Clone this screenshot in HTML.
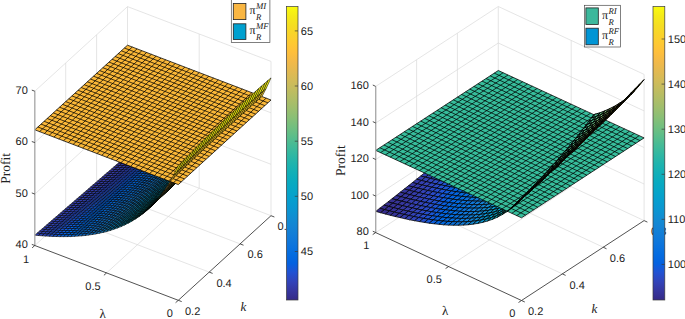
<!DOCTYPE html>
<html><head><meta charset="utf-8"><title>Profit surfaces</title>
<style>html,body{margin:0;padding:0;background:#fff;font-family:"Liberation Sans",sans-serif}svg{display:block}</style></head>
<body>
<svg width="685" height="319" viewBox="0 0 685 319" text-rendering="geometricPrecision" fill="#222">
<rect width="685" height="319" fill="#fff"/>
<line x1="34.8" y1="245.5" x2="127.5" y2="160.9" stroke="#dadada" stroke-width="0.7"/>
<line x1="127.5" y1="160.9" x2="271" y2="215.7" stroke="#dadada" stroke-width="0.7"/>
<line x1="106.6" y1="272.9" x2="199.2" y2="188.3" stroke="#dadada" stroke-width="0.7"/>
<line x1="209.2" y1="272.1" x2="65.7" y2="217.3" stroke="#dadada" stroke-width="0.7"/>
<line x1="240.1" y1="243.9" x2="96.6" y2="189.1" stroke="#dadada" stroke-width="0.7"/>
<line x1="65.7" y1="217.3" x2="65.7" y2="63" stroke="#dadada" stroke-width="0.7"/>
<line x1="96.6" y1="189.1" x2="96.6" y2="34.8" stroke="#dadada" stroke-width="0.7"/>
<line x1="127.5" y1="160.9" x2="127.5" y2="6.6" stroke="#dadada" stroke-width="0.7"/>
<line x1="34.8" y1="194.1" x2="127.5" y2="109.5" stroke="#dadada" stroke-width="0.7"/>
<line x1="127.5" y1="109.5" x2="271" y2="164.3" stroke="#dadada" stroke-width="0.7"/>
<line x1="34.8" y1="142.6" x2="127.5" y2="58" stroke="#dadada" stroke-width="0.7"/>
<line x1="127.5" y1="58" x2="271" y2="112.8" stroke="#dadada" stroke-width="0.7"/>
<line x1="34.8" y1="91.2" x2="127.5" y2="6.6" stroke="#dadada" stroke-width="0.7"/>
<line x1="127.5" y1="6.6" x2="271" y2="61.4" stroke="#dadada" stroke-width="0.7"/>
<line x1="199.2" y1="188.3" x2="199.2" y2="34" stroke="#dadada" stroke-width="0.7"/>
<line x1="271" y1="215.7" x2="271" y2="61.4" stroke="#dadada" stroke-width="0.7"/>
<g stroke="#000" stroke-width="0.75" stroke-linejoin="round">
<g stroke-width="0.6">
<polygon points="128.8 157.5 125.2 157.2 127.5 155.2 131.1 155.5" fill="#36359d"/>
<polygon points="132.4 157.7 128.8 157.5 131.1 155.5 134.7 155.7" fill="#3638a4"/>
<polygon points="126.5 159.5 122.9 159.2 125.2 157.2 128.8 157.5" fill="#36359d"/>
<polygon points="135.9 157.9 132.4 157.7 134.7 155.7 138.3 155.9" fill="#353cab"/>
<polygon points="130 159.7 126.5 159.5 128.8 157.5 132.4 157.7" fill="#3639a4"/>
<polygon points="124.1 161.5 120.5 161.2 122.9 159.2 126.5 159.5" fill="#36369e"/>
<polygon points="139.5 158 135.9 157.9 138.3 155.9 141.9 156" fill="#3440b2"/>
<polygon points="133.6 159.9 130 159.7 132.4 157.7 135.9 157.9" fill="#353cab"/>
<polygon points="127.7 161.7 124.1 161.5 126.5 159.5 130 159.7" fill="#3639a5"/>
<polygon points="121.8 163.5 118.2 163.2 120.5 161.2 124.1 161.5" fill="#36369f"/>
<polygon points="143.1 158.1 139.5 158 141.9 156 145.4 156.1" fill="#3243ba"/>
<polygon points="137.2 160 133.6 159.9 135.9 157.9 139.5 158" fill="#3440b3"/>
<polygon points="131.3 161.9 127.7 161.7 130 159.7 133.6 159.9" fill="#353dac"/>
<polygon points="125.4 163.7 121.8 163.5 124.1 161.5 127.7 161.7" fill="#3639a6"/>
<polygon points="119.5 165.5 115.9 165.2 118.2 163.2 121.8 163.5" fill="#36369f"/>
<polygon points="146.7 158.1 143.1 158.1 145.4 156.1 149 156.1" fill="#2e48c2"/>
<polygon points="140.8 160.1 137.2 160 139.5 158 143.1 158.1" fill="#3244ba"/>
<polygon points="134.9 162 131.3 161.9 133.6 159.9 137.2 160" fill="#3340b3"/>
<polygon points="129 163.9 125.4 163.7 127.7 161.7 131.3 161.9" fill="#353dad"/>
<polygon points="123.1 165.7 119.5 165.5 121.8 163.5 125.4 163.7" fill="#363aa6"/>
<polygon points="117.2 167.5 113.6 167.2 115.9 165.2 119.5 165.5" fill="#3637a0"/>
<polygon points="150.3 158.1 146.7 158.1 149 156.1 152.6 156.1" fill="#294dca"/>
<polygon points="144.4 160.1 140.8 160.1 143.1 158.1 146.7 158.1" fill="#2e48c2"/>
<polygon points="138.5 162.1 134.9 162 137.2 160 140.8 160.1" fill="#3144bb"/>
<polygon points="132.6 164 129 163.9 131.3 161.9 134.9 162" fill="#3341b4"/>
<polygon points="126.7 165.9 123.1 165.7 125.4 163.7 129 163.9" fill="#353dad"/>
<polygon points="120.8 167.7 117.2 167.5 119.5 165.5 123.1 165.7" fill="#363aa7"/>
<polygon points="114.9 169.5 111.3 169.2 113.6 167.2 117.2 167.5" fill="#3637a1"/>
<polygon points="153.9 158 150.3 158.1 152.6 156.1 156.2 156" fill="#2152d3"/>
<polygon points="148 160.1 144.4 160.1 146.7 158.1 150.3 158.1" fill="#284dcb"/>
<polygon points="142.1 162.1 138.5 162.1 140.8 160.1 144.4 160.1" fill="#2d49c3"/>
<polygon points="136.2 164.1 132.6 164 134.9 162 138.5 162.1" fill="#3145bc"/>
<polygon points="130.3 166 126.7 165.9 129 163.9 132.6 164" fill="#3341b5"/>
<polygon points="124.4 167.9 120.8 167.7 123.1 165.7 126.7 165.9" fill="#353eae"/>
<polygon points="118.5 169.7 114.9 169.5 117.2 167.5 120.8 167.7" fill="#353aa8"/>
<polygon points="112.5 171.5 109 171.2 111.3 169.2 114.9 169.5" fill="#3637a1"/>
<polygon points="157.5 157.9 153.9 158 156.2 156 159.8 155.9" fill="#1658da"/>
<polygon points="151.6 160 148 160.1 150.3 158.1 153.9 158" fill="#2052d3"/>
<polygon points="145.7 162.1 142.1 162.1 144.4 160.1 148 160.1" fill="#274dcb"/>
<polygon points="139.8 164.1 136.2 164.1 138.5 162.1 142.1 162.1" fill="#2d49c4"/>
<polygon points="133.9 166.1 130.3 166 132.6 164 136.2 164.1" fill="#3145bc"/>
<polygon points="127.9 168 124.4 167.9 126.7 165.9 130.3 166" fill="#3341b5"/>
<polygon points="122 169.9 118.5 169.7 120.8 167.7 124.4 167.9" fill="#353eaf"/>
<polygon points="116.1 171.7 112.5 171.5 114.9 169.5 118.5 169.7" fill="#353ba8"/>
<polygon points="110.2 173.5 106.6 173.2 109 171.2 112.5 171.5" fill="#3638a2"/>
<polygon points="161.1 157.7 157.5 157.9 159.8 155.9 163.4 155.7" fill="#0b5edf"/>
<polygon points="155.2 159.9 151.6 160 153.9 158 157.5 157.9" fill="#1559da"/>
<polygon points="149.2 162 145.7 162.1 148 160.1 151.6 160" fill="#2053d4"/>
<polygon points="143.3 164.1 139.8 164.1 142.1 162.1 145.7 162.1" fill="#274ecc"/>
<polygon points="137.4 166.1 133.9 166.1 136.2 164.1 139.8 164.1" fill="#2d49c4"/>
<polygon points="131.5 168.1 127.9 168 130.3 166 133.9 166.1" fill="#3045bd"/>
<polygon points="125.6 170 122 169.9 124.4 167.9 127.9 168" fill="#3342b6"/>
<polygon points="119.7 171.9 116.1 171.7 118.5 169.7 122 169.9" fill="#343eaf"/>
<polygon points="113.8 173.7 110.2 173.5 112.5 171.5 116.1 171.7" fill="#353ba9"/>
<polygon points="164.6 157.5 161.1 157.7 163.4 155.7 167 155.5" fill="#0363e1"/>
<polygon points="107.9 175.5 104.3 175.2 106.6 173.2 110.2 173.5" fill="#3638a3"/>
<polygon points="158.7 159.7 155.2 159.9 157.5 157.9 161.1 157.7" fill="#0b5edf"/>
<polygon points="152.8 161.9 149.2 162 151.6 160 155.2 159.9" fill="#1459db"/>
<polygon points="146.9 164 143.3 164.1 145.7 162.1 149.2 162" fill="#1f53d4"/>
<polygon points="141 166.1 137.4 166.1 139.8 164.1 143.3 164.1" fill="#264ecd"/>
<polygon points="135.1 168.1 131.5 168.1 133.9 166.1 137.4 166.1" fill="#2c4ac5"/>
<polygon points="129.2 170.1 125.6 170 127.9 168 131.5 168.1" fill="#3046be"/>
<polygon points="123.3 172 119.7 171.9 122 169.9 125.6 170" fill="#3342b7"/>
<polygon points="117.4 173.9 113.8 173.7 116.1 171.7 119.7 171.9" fill="#343fb0"/>
<polygon points="111.5 175.7 107.9 175.5 110.2 173.5 113.8 173.7" fill="#353baa"/>
<polygon points="168.2 157.2 164.6 157.5 167 155.5 170.6 155.2" fill="#0267e1"/>
<polygon points="162.3 159.5 158.7 159.7 161.1 157.7 164.6 157.5" fill="#0363e1"/>
<polygon points="105.6 177.5 102 177.2 104.3 175.2 107.9 175.5" fill="#3638a4"/>
<polygon points="156.4 161.7 152.8 161.9 155.2 159.9 158.7 159.7" fill="#0a5fdf"/>
<polygon points="150.5 163.9 146.9 164 149.2 162 152.8 161.9" fill="#135adb"/>
<polygon points="144.6 166 141 166.1 143.3 164.1 146.9 164" fill="#1e54d5"/>
<polygon points="138.7 168.1 135.1 168.1 137.4 166.1 141 166.1" fill="#264fcd"/>
<polygon points="132.8 170.1 129.2 170.1 131.5 168.1 135.1 168.1" fill="#2c4ac6"/>
<polygon points="126.9 172.1 123.3 172 125.6 170 129.2 170.1" fill="#3046be"/>
<polygon points="121 174 117.4 173.9 119.7 171.9 123.3 172" fill="#3242b7"/>
<polygon points="115.1 175.9 111.5 175.7 113.8 173.7 117.4 173.9" fill="#343fb1"/>
<polygon points="109.2 177.7 105.6 177.5 107.9 175.5 111.5 175.7" fill="#353caa"/>
<polygon points="171.8 156.8 168.2 157.2 170.6 155.2 174.1 154.8" fill="#036be0"/>
<polygon points="165.9 159.2 162.3 159.5 164.6 157.5 168.2 157.2" fill="#0268e1"/>
<polygon points="160 161.5 156.4 161.7 158.7 159.7 162.3 159.5" fill="#0364e1"/>
<polygon points="103.3 179.5 99.7 179.2 102 177.2 105.6 177.5" fill="#3639a4"/>
<polygon points="154.1 163.7 150.5 163.9 152.8 161.9 156.4 161.7" fill="#095fdf"/>
<polygon points="148.2 165.9 144.6 166 146.9 164 150.5 163.9" fill="#125adc"/>
<polygon points="142.3 168 138.7 168.1 141 166.1 144.6 166" fill="#1d54d5"/>
<polygon points="136.4 170.1 132.8 170.1 135.1 168.1 138.7 168.1" fill="#254fce"/>
<polygon points="130.5 172.1 126.9 172.1 129.2 170.1 132.8 170.1" fill="#2c4ac7"/>
<polygon points="124.6 174.1 121 174 123.3 172 126.9 172.1" fill="#2f46bf"/>
<polygon points="118.7 176 115.1 175.9 117.4 173.9 121 174" fill="#3243b8"/>
<polygon points="112.8 177.9 109.2 177.7 111.5 175.7 115.1 175.9" fill="#343fb1"/>
<polygon points="106.9 179.7 103.3 179.5 105.6 177.5 109.2 177.7" fill="#353cab"/>
<polygon points="175.4 156.3 171.8 156.8 174.1 154.8 177.7 154.3" fill="#066fdf"/>
<polygon points="169.5 158.8 165.9 159.2 168.2 157.2 171.8 156.8" fill="#036be0"/>
<polygon points="163.6 161.2 160 161.5 162.3 159.5 165.9 159.2" fill="#0268e1"/>
<polygon points="157.7 163.5 154.1 163.7 156.4 161.7 160 161.5" fill="#0364e1"/>
<polygon points="101 181.5 97.4 181.2 99.7 179.2 103.3 179.5" fill="#3639a5"/>
<polygon points="151.8 165.7 148.2 165.9 150.5 163.9 154.1 163.7" fill="#0960df"/>
<polygon points="145.9 167.9 142.3 168 144.6 166 148.2 165.9" fill="#115bdc"/>
<polygon points="140 170 136.4 170.1 138.7 168.1 142.3 168" fill="#1c55d6"/>
<polygon points="134.1 172.1 130.5 172.1 132.8 170.1 136.4 170.1" fill="#2450cf"/>
<polygon points="128.2 174.1 124.6 174.1 126.9 172.1 130.5 172.1" fill="#2b4bc7"/>
<polygon points="122.3 176.1 118.7 176 121 174 124.6 174.1" fill="#2f47c0"/>
<polygon points="116.4 178 112.8 177.9 115.1 175.9 118.7 176" fill="#3243b9"/>
<polygon points="110.5 179.9 106.9 179.7 109.2 177.7 112.8 177.9" fill="#3440b2"/>
<polygon points="104.5 181.7 101 181.5 103.3 179.5 106.9 179.7" fill="#353cac"/>
<polygon points="173.1 158.3 169.5 158.8 171.8 156.8 175.4 156.3" fill="#076fdf"/>
<polygon points="179 155.8 175.4 156.3 177.7 154.3 181.3 153.8" fill="#0a72de"/>
<polygon points="167.2 160.8 163.6 161.2 165.9 159.2 169.5 158.8" fill="#046ce0"/>
<polygon points="161.3 163.2 157.7 163.5 160 161.5 163.6 161.2" fill="#0268e1"/>
<polygon points="155.4 165.5 151.8 165.7 154.1 163.7 157.7 163.5" fill="#0364e1"/>
<polygon points="98.6 183.5 95.1 183.2 97.4 181.2 101 181.5" fill="#3639a6"/>
<polygon points="149.5 167.7 145.9 167.9 148.2 165.9 151.8 165.7" fill="#0860df"/>
<polygon points="143.6 169.9 140 170 142.3 168 145.9 167.9" fill="#105bdd"/>
<polygon points="137.7 172 134.1 172.1 136.4 170.1 140 170" fill="#1b55d6"/>
<polygon points="131.8 174.1 128.2 174.1 130.5 172.1 134.1 172.1" fill="#2450cf"/>
<polygon points="125.9 176.1 122.3 176.1 124.6 174.1 128.2 174.1" fill="#2b4bc8"/>
<polygon points="119.9 178.1 116.4 178 118.7 176 122.3 176.1" fill="#2f47c1"/>
<polygon points="114 180 110.5 179.9 112.8 177.9 116.4 178" fill="#3243b9"/>
<polygon points="108.1 181.9 104.5 181.7 106.9 179.7 110.5 179.9" fill="#3440b3"/>
<polygon points="102.2 183.7 98.6 183.5 101 181.5 104.5 181.7" fill="#353dac"/>
<polygon points="170.8 160.3 167.2 160.8 169.5 158.8 173.1 158.3" fill="#076fdf"/>
<polygon points="176.7 157.8 173.1 158.3 175.4 156.3 179 155.8" fill="#0a73dd"/>
<polygon points="164.9 162.8 161.3 163.2 163.6 161.2 167.2 160.8" fill="#046ce0"/>
<polygon points="182.6 155.1 179 155.8 181.3 153.8 184.9 153.1" fill="#0e76dc"/>
<polygon points="159 165.2 155.4 165.5 157.7 163.5 161.3 163.2" fill="#0268e1"/>
<polygon points="153.1 167.5 149.5 167.7 151.8 165.7 155.4 165.5" fill="#0365e1"/>
<polygon points="96.3 185.5 92.7 185.2 95.1 183.2 98.6 183.5" fill="#363aa6"/>
<polygon points="147.2 169.7 143.6 169.9 145.9 167.9 149.5 167.7" fill="#0760e0"/>
<polygon points="141.2 171.9 137.7 172 140 170 143.6 169.9" fill="#105bdd"/>
<polygon points="135.3 174.1 131.8 174.1 134.1 172.1 137.7 172" fill="#1a56d7"/>
<polygon points="129.4 176.1 125.9 176.1 128.2 174.1 131.8 174.1" fill="#2350d0"/>
<polygon points="123.5 178.1 119.9 178.1 122.3 176.1 125.9 176.1" fill="#2a4cc9"/>
<polygon points="117.6 180.1 114 180 116.4 178 119.9 178.1" fill="#2e47c1"/>
<polygon points="111.7 182 108.1 181.9 110.5 179.9 114 180" fill="#3244ba"/>
<polygon points="105.8 183.9 102.2 183.7 104.5 181.7 108.1 181.9" fill="#3340b3"/>
<polygon points="99.9 185.7 96.3 185.5 98.6 183.5 102.2 183.7" fill="#353dad"/>
<polygon points="168.5 162.3 164.9 162.8 167.2 160.8 170.8 160.3" fill="#0770df"/>
<polygon points="174.4 159.8 170.8 160.3 173.1 158.3 176.7 157.8" fill="#0a73dd"/>
<polygon points="162.6 164.8 159 165.2 161.3 163.2 164.9 162.8" fill="#046ce0"/>
<polygon points="180.3 157.1 176.7 157.8 179 155.8 182.6 155.1" fill="#0e76dc"/>
<polygon points="156.6 167.2 153.1 167.5 155.4 165.5 159 165.2" fill="#0269e1"/>
<polygon points="186.2 154.4 182.6 155.1 184.9 153.1 188.5 152.4" fill="#117ada"/>
<polygon points="150.7 169.5 147.2 169.7 149.5 167.7 153.1 167.5" fill="#0265e1"/>
<polygon points="94 187.5 90.4 187.2 92.7 185.2 96.3 185.5" fill="#363aa7"/>
<polygon points="144.8 171.7 141.2 171.9 143.6 169.9 147.2 169.7" fill="#0761e0"/>
<polygon points="138.9 173.9 135.3 174.1 137.7 172 141.2 171.9" fill="#0f5cdd"/>
<polygon points="133 176.1 129.4 176.1 131.8 174.1 135.3 174.1" fill="#1956d7"/>
<polygon points="127.1 178.1 123.5 178.1 125.9 176.1 129.4 176.1" fill="#2351d1"/>
<polygon points="121.2 180.1 117.6 180.1 119.9 178.1 123.5 178.1" fill="#294cc9"/>
<polygon points="115.3 182.1 111.7 182 114 180 117.6 180.1" fill="#2e48c2"/>
<polygon points="109.4 184 105.8 183.9 108.1 181.9 111.7 182" fill="#3144bb"/>
<polygon points="103.5 185.9 99.9 185.7 102.2 183.7 105.8 183.9" fill="#3341b4"/>
<polygon points="97.6 187.7 94 187.5 96.3 185.5 99.9 185.7" fill="#353dae"/>
<polygon points="166.1 164.3 162.6 164.8 164.9 162.8 168.5 162.3" fill="#0770df"/>
<polygon points="172 161.8 168.5 162.3 170.8 160.3 174.4 159.8" fill="#0b73dd"/>
<polygon points="160.2 166.8 156.6 167.2 159 165.2 162.6 164.8" fill="#046ce0"/>
<polygon points="177.9 159.1 174.4 159.8 176.7 157.8 180.3 157.1" fill="#0e77db"/>
<polygon points="154.3 169.2 150.7 169.5 153.1 167.5 156.6 167.2" fill="#0269e1"/>
<polygon points="183.9 156.4 180.3 157.1 182.6 155.1 186.2 154.4" fill="#117ad9"/>
<polygon points="148.4 171.5 144.8 171.7 147.2 169.7 150.7 169.5" fill="#0265e1"/>
<polygon points="189.8 153.6 186.2 154.4 188.5 152.4 192.1 151.6" fill="#137ed7"/>
<polygon points="91.7 189.5 88.1 189.2 90.4 187.2 94 187.5" fill="#353aa8"/>
<polygon points="142.5 173.7 138.9 173.9 141.2 171.9 144.8 171.7" fill="#0661e0"/>
<polygon points="136.6 175.9 133 176.1 135.3 174.1 138.9 173.9" fill="#0e5cde"/>
<polygon points="130.7 178.1 127.1 178.1 129.4 176.1 133 176.1" fill="#1957d8"/>
<polygon points="124.8 180.1 121.2 180.1 123.5 178.1 127.1 178.1" fill="#2251d1"/>
<polygon points="118.9 182.1 115.3 182.1 117.6 180.1 121.2 180.1" fill="#294cca"/>
<polygon points="113 184.1 109.4 184 111.7 182 115.3 182.1" fill="#2e48c3"/>
<polygon points="107.1 186 103.5 185.9 105.8 183.9 109.4 184" fill="#3144bb"/>
<polygon points="101.2 187.9 97.6 187.7 99.9 185.7 103.5 185.9" fill="#3341b5"/>
<polygon points="95.3 189.7 91.7 189.5 94 187.5 97.6 187.7" fill="#353eae"/>
<polygon points="163.8 166.3 160.2 166.8 162.6 164.8 166.1 164.3" fill="#0770df"/>
<polygon points="169.7 163.8 166.1 164.3 168.5 162.3 172 161.8" fill="#0b73dd"/>
<polygon points="157.9 168.8 154.3 169.2 156.6 167.2 160.2 166.8" fill="#046de0"/>
<polygon points="175.6 161.1 172 161.8 174.4 159.8 177.9 159.1" fill="#0e77db"/>
<polygon points="152 171.2 148.4 171.5 150.7 169.5 154.3 169.2" fill="#0269e1"/>
<polygon points="181.5 158.4 177.9 159.1 180.3 157.1 183.9 156.4" fill="#117ad9"/>
<polygon points="146.1 173.5 142.5 173.7 144.8 171.7 148.4 171.5" fill="#0265e1"/>
<polygon points="187.4 155.6 183.9 156.4 186.2 154.4 189.8 153.6" fill="#137ed7"/>
<polygon points="89.4 191.5 85.8 191.2 88.1 189.2 91.7 189.5" fill="#353ba8"/>
<polygon points="140.2 175.8 136.6 175.9 138.9 173.9 142.5 173.7" fill="#0661e0"/>
<polygon points="193.3 152.6 189.8 153.6 192.1 151.6 195.7 150.6" fill="#1482d5"/>
<polygon points="134.3 177.9 130.7 178.1 133 176.1 136.6 175.9" fill="#0e5dde"/>
<polygon points="128.4 180.1 124.8 180.1 127.1 178.1 130.7 178.1" fill="#1857d8"/>
<polygon points="122.5 182.1 118.9 182.1 121.2 180.1 124.8 180.1" fill="#2152d2"/>
<polygon points="116.6 184.2 113 184.1 115.3 182.1 118.9 182.1" fill="#284dca"/>
<polygon points="110.7 186.1 107.1 186 109.4 184 113 184.1" fill="#2d49c3"/>
<polygon points="104.8 188 101.2 187.9 103.5 185.9 107.1 186" fill="#3145bc"/>
<polygon points="98.9 189.9 95.3 189.7 97.6 187.7 101.2 187.9" fill="#3341b5"/>
<polygon points="93 191.7 89.4 191.5 91.7 189.5 95.3 189.7" fill="#353eaf"/>
<polygon points="161.5 168.3 157.9 168.8 160.2 166.8 163.8 166.3" fill="#0870df"/>
<polygon points="167.4 165.8 163.8 166.3 166.1 164.3 169.7 163.8" fill="#0b74dd"/>
<polygon points="155.6 170.8 152 171.2 154.3 169.2 157.9 168.8" fill="#046de0"/>
<polygon points="173.3 163.1 169.7 163.8 172 161.8 175.6 161.1" fill="#0e77db"/>
<polygon points="149.7 173.2 146.1 173.5 148.4 171.5 152 171.2" fill="#0269e1"/>
<polygon points="179.2 160.4 175.6 161.1 177.9 159.1 181.5 158.4" fill="#117ad9"/>
<polygon points="143.8 175.5 140.2 175.8 142.5 173.7 146.1 173.5" fill="#0266e1"/>
<polygon points="185.1 157.6 181.5 158.4 183.9 156.4 187.4 155.6" fill="#137ed7"/>
<polygon points="87.1 193.5 83.5 193.2 85.8 191.2 89.4 191.5" fill="#353ba9"/>
<polygon points="137.9 177.8 134.3 177.9 136.6 175.9 140.2 175.8" fill="#0562e0"/>
<polygon points="191 154.6 187.4 155.6 189.8 153.6 193.3 152.6" fill="#1482d5"/>
<polygon points="132 180 128.4 180.1 130.7 178.1 134.3 177.9" fill="#0d5dde"/>
<polygon points="196.9 151.6 193.3 152.6 195.7 150.6 199.2 149.6" fill="#1487d3"/>
<polygon points="126.1 182.1 122.5 182.1 124.8 180.1 128.4 180.1" fill="#1758d9"/>
<polygon points="120.2 184.1 116.6 184.2 118.9 182.1 122.5 182.1" fill="#2152d3"/>
<polygon points="114.3 186.2 110.7 186.1 113 184.1 116.6 184.2" fill="#284dcb"/>
<polygon points="108.4 188.1 104.8 188 107.1 186 110.7 186.1" fill="#2d49c4"/>
<polygon points="102.5 190 98.9 189.9 101.2 187.9 104.8 188" fill="#3045bd"/>
<polygon points="96.5 191.9 93 191.7 95.3 189.7 98.9 189.9" fill="#3342b6"/>
<polygon points="90.6 193.7 87.1 193.5 89.4 191.5 93 191.7" fill="#343eb0"/>
<polygon points="159.2 170.3 155.6 170.8 157.9 168.8 161.5 168.3" fill="#0870df"/>
<polygon points="165.1 167.8 161.5 168.3 163.8 166.3 167.4 165.8" fill="#0b74dd"/>
<polygon points="153.3 172.8 149.7 173.2 152 171.2 155.6 170.8" fill="#046de0"/>
<polygon points="171 165.1 167.4 165.8 169.7 163.8 173.3 163.1" fill="#0f77db"/>
<polygon points="147.4 175.2 143.8 175.5 146.1 173.5 149.7 173.2" fill="#026ae1"/>
<polygon points="176.9 162.4 173.3 163.1 175.6 161.1 179.2 160.4" fill="#117bd9"/>
<polygon points="141.5 177.5 137.9 177.8 140.2 175.8 143.8 175.5" fill="#0266e1"/>
<polygon points="182.8 159.6 179.2 160.4 181.5 158.4 185.1 157.6" fill="#137ed7"/>
<polygon points="84.7 195.5 81.2 195.2 83.5 193.2 87.1 193.5" fill="#353baa"/>
<polygon points="135.6 179.8 132 180 134.3 177.9 137.9 177.8" fill="#0462e1"/>
<polygon points="188.7 156.6 185.1 157.6 187.4 155.6 191 154.6" fill="#1482d5"/>
<polygon points="129.7 182 126.1 182.1 128.4 180.1 132 180" fill="#0c5dde"/>
<polygon points="194.6 153.6 191 154.6 193.3 152.6 196.9 151.6" fill="#1487d3"/>
<polygon points="123.8 184.1 120.2 184.1 122.5 182.1 126.1 182.1" fill="#1658d9"/>
<polygon points="117.9 186.2 114.3 186.2 116.6 184.2 120.2 184.1" fill="#2052d3"/>
<polygon points="200.5 150.4 196.9 151.6 199.2 149.6 202.8 148.4" fill="#118cd2"/>
<polygon points="111.9 188.2 108.4 188.1 110.7 186.1 114.3 186.2" fill="#274ecc"/>
<polygon points="106 190.1 102.5 190 104.8 188 108.4 188.1" fill="#2d49c4"/>
<polygon points="100.1 192 96.5 191.9 98.9 189.9 102.5 190" fill="#3045bd"/>
<polygon points="94.2 193.9 90.6 193.7 93 191.7 96.5 191.9" fill="#3342b7"/>
<polygon points="88.3 195.7 84.7 195.5 87.1 193.5 90.6 193.7" fill="#343fb0"/>
<polygon points="156.9 172.3 153.3 172.8 155.6 170.8 159.2 170.3" fill="#0871df"/>
<polygon points="162.8 169.8 159.2 170.3 161.5 168.3 165.1 167.8" fill="#0c74dd"/>
<polygon points="151 174.8 147.4 175.2 149.7 173.2 153.3 172.8" fill="#056de0"/>
<polygon points="168.7 167.2 165.1 167.8 167.4 165.8 171 165.1" fill="#0f77db"/>
<polygon points="145.1 177.2 141.5 177.5 143.8 175.5 147.4 175.2" fill="#026ae1"/>
<polygon points="174.6 164.4 171 165.1 173.3 163.1 176.9 162.4" fill="#117bd9"/>
<polygon points="139.2 179.5 135.6 179.8 137.9 177.8 141.5 177.5" fill="#0266e1"/>
<polygon points="180.5 161.6 176.9 162.4 179.2 160.4 182.8 159.6" fill="#137fd7"/>
<polygon points="82.4 197.5 78.8 197.2 81.2 195.2 84.7 195.5" fill="#353caa"/>
<polygon points="133.2 181.8 129.7 182 132 180 135.6 179.8" fill="#0462e1"/>
<polygon points="186.4 158.6 182.8 159.6 185.1 157.6 188.7 156.6" fill="#1483d5"/>
<polygon points="127.3 184 123.8 184.1 126.1 182.1 129.7 182" fill="#0c5ede"/>
<polygon points="192.3 155.6 188.7 156.6 191 154.6 194.6 153.6" fill="#1487d3"/>
<polygon points="121.4 186.1 117.9 186.2 120.2 184.1 123.8 184.1" fill="#1558da"/>
<polygon points="115.5 188.2 111.9 188.2 114.3 186.2 117.9 186.2" fill="#2053d4"/>
<polygon points="198.2 152.4 194.6 153.6 196.9 151.6 200.5 150.4" fill="#118cd2"/>
<polygon points="109.6 190.2 106 190.1 108.4 188.1 111.9 188.2" fill="#264ecc"/>
<polygon points="204.1 149.1 200.5 150.4 202.8 148.4 206.4 147.1" fill="#0d92d2"/>
<polygon points="103.7 192.1 100.1 192 102.5 190 106 190.1" fill="#2c4ac5"/>
<polygon points="97.8 194 94.2 193.9 96.5 191.9 100.1 192" fill="#3046be"/>
<polygon points="91.9 195.9 88.3 195.7 90.6 193.7 94.2 193.9" fill="#3242b7"/>
<polygon points="86 197.7 82.4 197.5 84.7 195.5 88.3 195.7" fill="#343fb1"/>
<polygon points="154.6 174.4 151 174.8 153.3 172.8 156.9 172.3" fill="#0871de"/>
<polygon points="160.5 171.8 156.9 172.3 159.2 170.3 162.8 169.8" fill="#0c74dd"/>
<polygon points="148.6 176.8 145.1 177.2 147.4 175.2 151 174.8" fill="#056de0"/>
<polygon points="166.4 169.2 162.8 169.8 165.1 167.8 168.7 167.2" fill="#0f77db"/>
<polygon points="142.7 179.2 139.2 179.5 141.5 177.5 145.1 177.2" fill="#036ae1"/>
<polygon points="172.3 166.4 168.7 167.2 171 165.1 174.6 164.4" fill="#117bd9"/>
<polygon points="136.8 181.5 133.2 181.8 135.6 179.8 139.2 179.5" fill="#0266e1"/>
<polygon points="178.2 163.6 174.6 164.4 176.9 162.4 180.5 161.6" fill="#137fd7"/>
<polygon points="80.1 199.5 76.5 199.2 78.8 197.2 82.4 197.5" fill="#353cab"/>
<polygon points="130.9 183.8 127.3 184 129.7 182 133.2 181.8" fill="#0363e1"/>
<polygon points="184.1 160.7 180.5 161.6 182.8 159.6 186.4 158.6" fill="#1483d5"/>
<polygon points="125 186 121.4 186.1 123.8 184.1 127.3 184" fill="#0b5edf"/>
<polygon points="190 157.6 186.4 158.6 188.7 156.6 192.3 155.6" fill="#1487d3"/>
<polygon points="119.1 188.1 115.5 188.2 117.9 186.2 121.4 186.1" fill="#1459da"/>
<polygon points="113.2 190.2 109.6 190.2 111.9 188.2 115.5 188.2" fill="#1f53d4"/>
<polygon points="195.9 154.4 192.3 155.6 194.6 153.6 198.2 152.4" fill="#118dd2"/>
<polygon points="107.3 192.2 103.7 192.1 106 190.1 109.6 190.2" fill="#264ecd"/>
<polygon points="201.8 151.1 198.2 152.4 200.5 150.4 204.1 149.1" fill="#0d93d2"/>
<polygon points="101.4 194.1 97.8 194 100.1 192 103.7 192.1" fill="#2c4ac6"/>
<polygon points="95.5 196.1 91.9 195.9 94.2 193.9 97.8 194" fill="#2f46bf"/>
<polygon points="207.7 147.7 204.1 149.1 206.4 147.1 210 145.7" fill="#0899d1"/>
<polygon points="89.6 197.9 86 197.7 88.3 195.7 91.9 195.9" fill="#3243b8"/>
<polygon points="83.7 199.7 80.1 199.5 82.4 197.5 86 197.7" fill="#343fb2"/>
<polygon points="152.2 176.4 148.6 176.8 151 174.8 154.6 174.4" fill="#0871de"/>
<polygon points="158.1 173.8 154.6 174.4 156.9 172.3 160.5 171.8" fill="#0c74dd"/>
<polygon points="146.3 178.8 142.7 179.2 145.1 177.2 148.6 176.8" fill="#056ee0"/>
<polygon points="164 171.2 160.5 171.8 162.8 169.8 166.4 169.2" fill="#0f78db"/>
<polygon points="140.4 181.2 136.8 181.5 139.2 179.5 142.7 179.2" fill="#036ae1"/>
<polygon points="169.9 168.4 166.4 169.2 168.7 167.2 172.3 166.4" fill="#127bd9"/>
<polygon points="134.5 183.6 130.9 183.8 133.2 181.8 136.8 181.5" fill="#0267e1"/>
<polygon points="175.9 165.6 172.3 166.4 174.6 164.4 178.2 163.6" fill="#137fd7"/>
<polygon points="77.8 201.5 74.2 201.2 76.5 199.2 80.1 199.5" fill="#353cac"/>
<polygon points="128.6 185.8 125 186 127.3 184 130.9 183.8" fill="#0363e1"/>
<polygon points="181.8 162.7 178.2 163.6 180.5 161.6 184.1 160.7" fill="#1483d5"/>
<polygon points="122.7 188 119.1 188.1 121.4 186.1 125 186" fill="#0b5edf"/>
<polygon points="116.8 190.1 113.2 190.2 115.5 188.2 119.1 188.1" fill="#1459db"/>
<polygon points="187.7 159.6 184.1 160.7 186.4 158.6 190 157.6" fill="#1388d3"/>
<polygon points="110.9 192.2 107.3 192.2 109.6 190.2 113.2 190.2" fill="#1e54d5"/>
<polygon points="193.6 156.4 190 157.6 192.3 155.6 195.9 154.4" fill="#118dd2"/>
<polygon points="105 194.2 101.4 194.1 103.7 192.1 107.3 192.2" fill="#254fce"/>
<polygon points="199.5 153.1 195.9 154.4 198.2 152.4 201.8 151.1" fill="#0d93d2"/>
<polygon points="99.1 196.2 95.5 196.1 97.8 194 101.4 194.1" fill="#2c4ac6"/>
<polygon points="93.2 198.1 89.6 197.9 91.9 195.9 95.5 196.1" fill="#2f47bf"/>
<polygon points="205.4 149.7 201.8 151.1 204.1 149.1 207.7 147.7" fill="#0899d1"/>
<polygon points="87.3 199.9 83.7 199.7 86 197.7 89.6 197.9" fill="#3243b9"/>
<polygon points="211.3 146.1 207.7 147.7 210 145.7 213.6 144.1" fill="#069fce"/>
<polygon points="81.4 201.7 77.8 201.5 80.1 199.5 83.7 199.7" fill="#3440b2"/>
<polygon points="149.9 178.4 146.3 178.8 148.6 176.8 152.2 176.4" fill="#0971de"/>
<polygon points="155.8 175.8 152.2 176.4 154.6 174.4 158.1 173.8" fill="#0c74dd"/>
<polygon points="144 180.9 140.4 181.2 142.7 179.2 146.3 178.8" fill="#056ee0"/>
<polygon points="161.7 173.2 158.1 173.8 160.5 171.8 164 171.2" fill="#0f78db"/>
<polygon points="138.1 183.3 134.5 183.6 136.8 181.5 140.4 181.2" fill="#036ae1"/>
<polygon points="167.6 170.5 164 171.2 166.4 169.2 169.9 168.4" fill="#127bd9"/>
<polygon points="132.2 185.6 128.6 185.8 130.9 183.8 134.5 183.6" fill="#0267e1"/>
<polygon points="173.5 167.6 169.9 168.4 172.3 166.4 175.9 165.6" fill="#137fd7"/>
<polygon points="75.5 203.5 71.9 203.2 74.2 201.2 77.8 201.5" fill="#353dac"/>
<polygon points="126.3 187.8 122.7 188 125 186 128.6 185.8" fill="#0363e1"/>
<polygon points="179.4 164.7 175.9 165.6 178.2 163.6 181.8 162.7" fill="#1483d5"/>
<polygon points="120.4 190 116.8 190.1 119.1 188.1 122.7 188" fill="#0a5fdf"/>
<polygon points="114.5 192.1 110.9 192.2 113.2 190.2 116.8 190.1" fill="#135adb"/>
<polygon points="185.3 161.6 181.8 162.7 184.1 160.7 187.7 159.6" fill="#1388d3"/>
<polygon points="108.6 194.2 105 194.2 107.3 192.2 110.9 192.2" fill="#1d54d5"/>
<polygon points="191.2 158.4 187.7 159.6 190 157.6 193.6 156.4" fill="#118dd2"/>
<polygon points="102.7 196.2 99.1 196.2 101.4 194.1 105 194.2" fill="#254fce"/>
<polygon points="197.2 155.1 193.6 156.4 195.9 154.4 199.5 153.1" fill="#0c93d2"/>
<polygon points="96.8 198.2 93.2 198.1 95.5 196.1 99.1 196.2" fill="#2b4bc7"/>
<polygon points="90.9 200.1 87.3 199.9 89.6 197.9 93.2 198.1" fill="#2f47c0"/>
<polygon points="203.1 151.7 199.5 153.1 201.8 151.1 205.4 149.7" fill="#0899d1"/>
<polygon points="85 201.9 81.4 201.7 83.7 199.7 87.3 199.9" fill="#3243b9"/>
<polygon points="209 148.1 205.4 149.7 207.7 147.7 211.3 146.1" fill="#069fce"/>
<polygon points="79.1 203.7 75.5 203.5 77.8 201.5 81.4 201.7" fill="#3440b3"/>
<polygon points="147.6 180.4 144 180.9 146.3 178.8 149.9 178.4" fill="#0971de"/>
<polygon points="153.5 177.9 149.9 178.4 152.2 176.4 155.8 175.8" fill="#0c75dc"/>
<polygon points="141.7 182.9 138.1 183.3 140.4 181.2 144 180.9" fill="#056ee0"/>
<polygon points="159.4 175.2 155.8 175.8 158.1 173.8 161.7 173.2" fill="#0f78db"/>
<polygon points="135.8 185.3 132.2 185.6 134.5 183.6 138.1 183.3" fill="#036be1"/>
<polygon points="165.3 172.5 161.7 173.2 164 171.2 167.6 170.5" fill="#127cd9"/>
<polygon points="129.9 187.6 126.3 187.8 128.6 185.8 132.2 185.6" fill="#0267e1"/>
<polygon points="171.2 169.6 167.6 170.5 169.9 168.4 173.5 167.6" fill="#137fd6"/>
<polygon points="73.1 205.5 69.6 205.2 71.9 203.2 75.5 203.5" fill="#353dad"/>
<polygon points="124 189.8 120.4 190 122.7 188 126.3 187.8" fill="#0363e1"/>
<polygon points="214.9 144.3 211.3 146.1 213.6 144.1 217.2 142.3" fill="#06a4ca"/>
<polygon points="177.1 166.7 173.5 167.6 175.9 165.6 179.4 164.7" fill="#1483d5"/>
<polygon points="118.1 192 114.5 192.1 116.8 190.1 120.4 190" fill="#0a5fdf"/>
<polygon points="112.2 194.1 108.6 194.2 110.9 192.2 114.5 192.1" fill="#125adc"/>
<polygon points="183 163.6 179.4 164.7 181.8 162.7 185.3 161.6" fill="#1388d3"/>
<polygon points="106.3 196.2 102.7 196.2 105 194.2 108.6 194.2" fill="#1c55d6"/>
<polygon points="188.9 160.4 185.3 161.6 187.7 159.6 191.2 158.4" fill="#118dd2"/>
<polygon points="100.4 198.2 96.8 198.2 99.1 196.2 102.7 196.2" fill="#2450cf"/>
<polygon points="194.8 157.1 191.2 158.4 193.6 156.4 197.2 155.1" fill="#0c93d2"/>
<polygon points="94.5 200.2 90.9 200.1 93.2 198.1 96.8 198.2" fill="#2b4bc8"/>
<polygon points="88.5 202.1 85 201.9 87.3 199.9 90.9 200.1" fill="#2e47c1"/>
<polygon points="200.7 153.7 197.2 155.1 199.5 153.1 203.1 151.7" fill="#0899d1"/>
<polygon points="82.6 203.9 79.1 203.7 81.4 201.7 85 201.9" fill="#3244ba"/>
<polygon points="206.6 150.1 203.1 151.7 205.4 149.7 209 148.1" fill="#069fce"/>
<polygon points="76.7 205.7 73.1 205.5 75.5 203.5 79.1 203.7" fill="#3340b4"/>
<polygon points="145.3 182.4 141.7 182.9 144 180.9 147.6 180.4" fill="#0972de"/>
<polygon points="151.2 179.9 147.6 180.4 149.9 178.4 153.5 177.9" fill="#0d75dc"/>
<polygon points="139.4 184.9 135.8 185.3 138.1 183.3 141.7 182.9" fill="#066edf"/>
<polygon points="157.1 177.2 153.5 177.9 155.8 175.8 159.4 175.2" fill="#1078da"/>
<polygon points="133.5 187.3 129.9 187.6 132.2 185.6 135.8 185.3" fill="#036be0"/>
<polygon points="163 174.5 159.4 175.2 161.7 173.2 165.3 172.5" fill="#127cd8"/>
<polygon points="127.6 189.6 124 189.8 126.3 187.8 129.9 187.6" fill="#0267e1"/>
<polygon points="168.9 171.7 165.3 172.5 167.6 170.5 171.2 169.6" fill="#137fd6"/>
<polygon points="121.7 191.9 118.1 192 120.4 190 124 189.8" fill="#0364e1"/>
<polygon points="70.8 207.5 67.2 207.2 69.6 205.2 73.1 205.5" fill="#353dae"/>
<polygon points="212.6 146.3 209 148.1 211.3 146.1 214.9 144.3" fill="#06a4ca"/>
<polygon points="174.8 168.7 171.2 169.6 173.5 167.6 177.1 166.7" fill="#1484d4"/>
<polygon points="115.8 194 112.2 194.1 114.5 192.1 118.1 192" fill="#095fdf"/>
<polygon points="109.8 196.2 106.3 196.2 108.6 194.2 112.2 194.1" fill="#115bdc"/>
<polygon points="180.7 165.6 177.1 166.7 179.4 164.7 183 163.6" fill="#1388d3"/>
<polygon points="103.9 198.2 100.4 198.2 102.7 196.2 106.3 196.2" fill="#1c55d6"/>
<polygon points="186.6 162.5 183 163.6 185.3 161.6 188.9 160.4" fill="#118ed2"/>
<polygon points="218.5 142.3 214.9 144.3 217.2 142.3 220.8 140.3" fill="#06a8c4"/>
<polygon points="98 200.2 94.5 200.2 96.8 198.2 100.4 198.2" fill="#2450d0"/>
<polygon points="192.5 159.1 188.9 160.4 191.2 158.4 194.8 157.1" fill="#0c94d2"/>
<polygon points="92.1 202.2 88.5 202.1 90.9 200.1 94.5 200.2" fill="#2a4bc8"/>
<polygon points="86.2 204.1 82.6 203.9 85 201.9 88.5 202.1" fill="#2e48c1"/>
<polygon points="198.4 155.7 194.8 157.1 197.2 155.1 200.7 153.7" fill="#089ad0"/>
<polygon points="80.3 205.9 76.7 205.7 79.1 203.7 82.6 203.9" fill="#3144bb"/>
<polygon points="204.3 152.1 200.7 153.7 203.1 151.7 206.6 150.1" fill="#069fce"/>
<polygon points="74.4 207.7 70.8 207.5 73.1 205.5 76.7 205.7" fill="#3341b4"/>
<polygon points="143 184.4 139.4 184.9 141.7 182.9 145.3 182.4" fill="#0972de"/>
<polygon points="148.9 181.9 145.3 182.4 147.6 180.4 151.2 179.9" fill="#0d75dc"/>
<polygon points="137.1 186.9 133.5 187.3 135.8 185.3 139.4 184.9" fill="#066edf"/>
<polygon points="154.8 179.2 151.2 179.9 153.5 177.9 157.1 177.2" fill="#1078da"/>
<polygon points="131.2 189.3 127.6 189.6 129.9 187.6 133.5 187.3" fill="#036be0"/>
<polygon points="160.7 176.5 157.1 177.2 159.4 175.2 163 174.5" fill="#127cd8"/>
<polygon points="125.2 191.6 121.7 191.9 124 189.8 127.6 189.6" fill="#0268e1"/>
<polygon points="166.6 173.7 163 174.5 165.3 172.5 168.9 171.7" fill="#1480d6"/>
<polygon points="119.3 193.9 115.8 194 118.1 192 121.7 191.9" fill="#0364e1"/>
<polygon points="68.5 209.5 64.9 209.2 67.2 207.2 70.8 207.5" fill="#353eae"/>
<polygon points="210.2 148.3 206.6 150.1 209 148.1 212.6 146.3" fill="#06a4c9"/>
<polygon points="172.5 170.7 168.9 171.7 171.2 169.6 174.8 168.7" fill="#1484d4"/>
<polygon points="113.4 196.1 109.8 196.2 112.2 194.1 115.8 194" fill="#0860df"/>
<polygon points="107.5 198.2 103.9 198.2 106.3 196.2 109.8 196.2" fill="#115bdd"/>
<polygon points="178.4 167.7 174.8 168.7 177.1 166.7 180.7 165.6" fill="#1388d3"/>
<polygon points="101.6 200.2 98 200.2 100.4 198.2 103.9 198.2" fill="#1b55d7"/>
<polygon points="184.3 164.5 180.7 165.6 183 163.6 186.6 162.5" fill="#108ed2"/>
<polygon points="216.1 144.3 212.6 146.3 214.9 144.3 218.5 142.3" fill="#06a8c4"/>
<polygon points="95.7 202.2 92.1 202.2 94.5 200.2 98 200.2" fill="#2350d0"/>
<polygon points="190.2 161.2 186.6 162.5 188.9 160.4 192.5 159.1" fill="#0c94d2"/>
<polygon points="89.8 204.2 86.2 204.1 88.5 202.1 92.1 202.2" fill="#2a4cc9"/>
<polygon points="83.9 206.1 80.3 205.9 82.6 203.9 86.2 204.1" fill="#2e48c2"/>
<polygon points="196.1 157.7 192.5 159.1 194.8 157.1 198.4 155.7" fill="#089ad0"/>
<polygon points="222 140.2 218.5 142.3 220.8 140.3 224.4 138.2" fill="#0bacbd"/>
<polygon points="78 207.9 74.4 207.7 76.7 205.7 80.3 205.9" fill="#3144bb"/>
<polygon points="202 154.1 198.4 155.7 200.7 153.7 204.3 152.1" fill="#069fce"/>
<polygon points="72.1 209.7 68.5 209.5 70.8 207.5 74.4 207.7" fill="#3341b5"/>
<polygon points="140.6 186.5 137.1 186.9 139.4 184.9 143 184.4" fill="#0972de"/>
<polygon points="146.6 183.9 143 184.4 145.3 182.4 148.9 181.9" fill="#0d75dc"/>
<polygon points="134.7 188.9 131.2 189.3 133.5 187.3 137.1 186.9" fill="#066fdf"/>
<polygon points="152.5 181.3 148.9 181.9 151.2 179.9 154.8 179.2" fill="#1079da"/>
<polygon points="128.8 191.3 125.2 191.6 127.6 189.6 131.2 189.3" fill="#036be0"/>
<polygon points="158.4 178.5 154.8 179.2 157.1 177.2 160.7 176.5" fill="#127cd8"/>
<polygon points="122.9 193.6 119.3 193.9 121.7 191.9 125.2 191.6" fill="#0268e1"/>
<polygon points="164.3 175.7 160.7 176.5 163 174.5 166.6 173.7" fill="#1480d6"/>
<polygon points="117 195.9 113.4 196.1 115.8 194 119.3 193.9" fill="#0364e1"/>
<polygon points="66.2 211.5 62.6 211.2 64.9 209.2 68.5 209.5" fill="#353eaf"/>
<polygon points="207.9 150.3 204.3 152.1 206.6 150.1 210.2 148.3" fill="#06a4c9"/>
<polygon points="170.2 172.7 166.6 173.7 168.9 171.7 172.5 170.7" fill="#1484d4"/>
<polygon points="111.1 198.1 107.5 198.2 109.8 196.2 113.4 196.1" fill="#0860df"/>
<polygon points="176.1 169.7 172.5 170.7 174.8 168.7 178.4 167.7" fill="#1389d3"/>
<polygon points="105.2 200.2 101.6 200.2 103.9 198.2 107.5 198.2" fill="#105bdd"/>
<polygon points="99.3 202.2 95.7 202.2 98 200.2 101.6 200.2" fill="#1a56d7"/>
<polygon points="182 166.5 178.4 167.7 180.7 165.6 184.3 164.5" fill="#108ed2"/>
<polygon points="213.8 146.3 210.2 148.3 212.6 146.3 216.1 144.3" fill="#06a8c4"/>
<polygon points="93.4 204.2 89.8 204.2 92.1 202.2 95.7 202.2" fill="#2351d1"/>
<polygon points="187.9 163.2 184.3 164.5 186.6 162.5 190.2 161.2" fill="#0c94d2"/>
<polygon points="87.5 206.2 83.9 206.1 86.2 204.1 89.8 204.2" fill="#294cca"/>
<polygon points="81.6 208.1 78 207.9 80.3 205.9 83.9 206.1" fill="#2e48c3"/>
<polygon points="193.8 159.7 190.2 161.2 192.5 159.1 196.1 157.7" fill="#089ad0"/>
<polygon points="219.7 142.2 216.1 144.3 218.5 142.3 222 140.2" fill="#0bacbd"/>
<polygon points="75.7 209.9 72.1 209.7 74.4 207.7 78 207.9" fill="#3145bc"/>
<polygon points="199.7 156.1 196.1 157.7 198.4 155.7 202 154.1" fill="#069fce"/>
<polygon points="138.3 188.5 134.7 188.9 137.1 186.9 140.6 186.5" fill="#0a72de"/>
<polygon points="144.2 185.9 140.6 186.5 143 184.4 146.6 183.9" fill="#0d75dc"/>
<polygon points="69.8 211.7 66.2 211.5 68.5 209.5 72.1 209.7" fill="#3341b6"/>
<polygon points="132.4 191 128.8 191.3 131.2 189.3 134.7 188.9" fill="#066fdf"/>
<polygon points="150.1 183.3 146.6 183.9 148.9 181.9 152.5 181.3" fill="#1079da"/>
<polygon points="126.5 193.3 122.9 193.6 125.2 191.6 128.8 191.3" fill="#036be0"/>
<polygon points="156 180.6 152.5 181.3 154.8 179.2 158.4 178.5" fill="#127cd8"/>
<polygon points="120.6 195.7 117 195.9 119.3 193.9 122.9 193.6" fill="#0268e1"/>
<polygon points="225.6 137.8 222 140.2 224.4 138.2 227.9 135.8" fill="#15b0b5"/>
<polygon points="161.9 177.7 158.4 178.5 160.7 176.5 164.3 175.7" fill="#1480d6"/>
<polygon points="114.7 197.9 111.1 198.1 113.4 196.1 117 195.9" fill="#0364e1"/>
<polygon points="63.9 213.5 60.3 213.2 62.6 211.2 66.2 211.5" fill="#343eb0"/>
<polygon points="205.6 152.3 202 154.1 204.3 152.1 207.9 150.3" fill="#06a4c9"/>
<polygon points="167.9 174.8 164.3 175.7 166.6 173.7 170.2 172.7" fill="#1484d4"/>
<polygon points="108.8 200.1 105.2 200.2 107.5 198.2 111.1 198.1" fill="#0760e0"/>
<polygon points="173.8 171.7 170.2 172.7 172.5 170.7 176.1 169.7" fill="#1389d3"/>
<polygon points="102.9 202.2 99.3 202.2 101.6 200.2 105.2 200.2" fill="#0f5cdd"/>
<polygon points="97 204.3 93.4 204.2 95.7 202.2 99.3 202.2" fill="#1956d8"/>
<polygon points="179.7 168.5 176.1 169.7 178.4 167.7 182 166.5" fill="#108ed2"/>
<polygon points="211.5 148.3 207.9 150.3 210.2 148.3 213.8 146.3" fill="#06a8c3"/>
<polygon points="91.1 206.3 87.5 206.2 89.8 204.2 93.4 204.2" fill="#2251d1"/>
<polygon points="185.6 165.2 182 166.5 184.3 164.5 187.9 163.2" fill="#0c94d2"/>
<polygon points="85.2 208.2 81.6 208.1 83.9 206.1 87.5 206.2" fill="#284dca"/>
<polygon points="79.3 210.1 75.7 209.9 78 207.9 81.6 208.1" fill="#2d49c3"/>
<polygon points="191.5 161.7 187.9 163.2 190.2 161.2 193.8 159.7" fill="#089ad0"/>
<polygon points="217.4 144.2 213.8 146.3 216.1 144.3 219.7 142.2" fill="#0badbc"/>
<polygon points="73.4 212 69.8 211.7 72.1 209.7 75.7 209.9" fill="#3045bd"/>
<polygon points="197.4 158.1 193.8 159.7 196.1 157.7 199.7 156.1" fill="#06a0cd"/>
<polygon points="136 190.5 132.4 191 134.7 188.9 138.3 188.5" fill="#0a72de"/>
<polygon points="141.9 188 138.3 188.5 140.6 186.5 144.2 185.9" fill="#0d75dc"/>
<polygon points="67.5 213.8 63.9 213.5 66.2 211.5 69.8 211.7" fill="#3342b6"/>
<polygon points="130.1 193 126.5 193.3 128.8 191.3 132.4 191" fill="#066fdf"/>
<polygon points="147.8 185.3 144.2 185.9 146.6 183.9 150.1 183.3" fill="#1079da"/>
<polygon points="124.2 195.4 120.6 195.7 122.9 193.6 126.5 193.3" fill="#046ce0"/>
<polygon points="153.7 182.6 150.1 183.3 152.5 181.3 156 180.6" fill="#127cd8"/>
<polygon points="118.3 197.7 114.7 197.9 117 195.9 120.6 195.7" fill="#0268e1"/>
<polygon points="159.6 179.7 156 180.6 158.4 178.5 161.9 177.7" fill="#1480d6"/>
<polygon points="223.3 139.8 219.7 142.2 222 140.2 225.6 137.8" fill="#15b0b4"/>
<polygon points="112.4 199.9 108.8 200.1 111.1 198.1 114.7 197.9" fill="#0265e1"/>
<polygon points="61.6 215.5 58 215.2 60.3 213.2 63.9 213.5" fill="#343fb0"/>
<polygon points="203.3 154.3 199.7 156.1 202 154.1 205.6 152.3" fill="#06a4c9"/>
<polygon points="165.5 176.8 161.9 177.7 164.3 175.7 167.9 174.8" fill="#1484d4"/>
<polygon points="106.5 202.1 102.9 202.2 105.2 200.2 108.8 200.1" fill="#0761e0"/>
<polygon points="171.4 173.7 167.9 174.8 170.2 172.7 173.8 171.7" fill="#1389d3"/>
<polygon points="100.6 204.2 97 204.3 99.3 202.2 102.9 202.2" fill="#0e5cde"/>
<polygon points="94.7 206.3 91.1 206.3 93.4 204.2 97 204.3" fill="#1857d8"/>
<polygon points="177.3 170.5 173.8 171.7 176.1 169.7 179.7 168.5" fill="#108fd2"/>
<polygon points="209.2 150.3 205.6 152.3 207.9 150.3 211.5 148.3" fill="#07a9c3"/>
<polygon points="88.8 208.3 85.2 208.2 87.5 206.2 91.1 206.3" fill="#2152d2"/>
<polygon points="229.2 135.1 225.6 137.8 227.9 135.8 231.5 133.1" fill="#23b4ab"/>
<polygon points="183.2 167.2 179.7 168.5 182 166.5 185.6 165.2" fill="#0b95d2"/>
<polygon points="82.9 210.2 79.3 210.1 81.6 208.1 85.2 208.2" fill="#284dcb"/>
<polygon points="77 212.1 73.4 212 75.7 209.9 79.3 210.1" fill="#2d49c4"/>
<polygon points="189.2 163.8 185.6 165.2 187.9 163.2 191.5 161.7" fill="#089ad0"/>
<polygon points="215.1 146.2 211.5 148.3 213.8 146.3 217.4 144.2" fill="#0badbc"/>
<polygon points="71.1 214 67.5 213.8 69.8 211.7 73.4 212" fill="#3045bd"/>
<polygon points="195.1 160.1 191.5 161.7 193.8 159.7 197.4 158.1" fill="#06a0cd"/>
<polygon points="133.7 192.5 130.1 193 132.4 191 136 190.5" fill="#0a72de"/>
<polygon points="139.6 190 136 190.5 138.3 188.5 141.9 188" fill="#0d76dc"/>
<polygon points="65.1 215.8 61.6 215.5 63.9 213.5 67.5 213.8" fill="#3342b7"/>
<polygon points="127.8 195 124.2 195.4 126.5 193.3 130.1 193" fill="#076fdf"/>
<polygon points="145.5 187.3 141.9 188 144.2 185.9 147.8 185.3" fill="#1079da"/>
<polygon points="121.9 197.4 118.3 197.7 120.6 195.7 124.2 195.4" fill="#046ce0"/>
<polygon points="151.4 184.6 147.8 185.3 150.1 183.3 153.7 182.6" fill="#127cd8"/>
<polygon points="116 199.7 112.4 199.9 114.7 197.9 118.3 197.7" fill="#0269e1"/>
<polygon points="157.3 181.8 153.7 182.6 156 180.6 159.6 179.7" fill="#1480d6"/>
<polygon points="221 141.8 217.4 144.2 219.7 142.2 223.3 139.8" fill="#15b1b4"/>
<polygon points="110.1 201.9 106.5 202.1 108.8 200.1 112.4 199.9" fill="#0265e1"/>
<polygon points="59.2 217.5 55.7 217.2 58 215.2 61.6 215.5" fill="#343fb1"/>
<polygon points="201 156.3 197.4 158.1 199.7 156.1 203.3 154.3" fill="#06a4c9"/>
<polygon points="163.2 178.8 159.6 179.7 161.9 177.7 165.5 176.8" fill="#1484d4"/>
<polygon points="104.2 204.1 100.6 204.2 102.9 202.2 106.5 202.1" fill="#0661e0"/>
<polygon points="169.1 175.8 165.5 176.8 167.9 174.8 171.4 173.7" fill="#1389d3"/>
<polygon points="98.3 206.2 94.7 206.3 97 204.3 100.6 204.2" fill="#0e5cde"/>
<polygon points="92.4 208.3 88.8 208.3 91.1 206.3 94.7 206.3" fill="#1857d9"/>
<polygon points="175 172.6 171.4 173.7 173.8 171.7 177.3 170.5" fill="#108fd2"/>
<polygon points="206.9 152.4 203.3 154.3 205.6 152.3 209.2 150.3" fill="#07a9c3"/>
<polygon points="86.5 210.3 82.9 210.2 85.2 208.2 88.8 208.3" fill="#2152d3"/>
<polygon points="226.9 137.1 223.3 139.8 225.6 137.8 229.2 135.1" fill="#23b4ab"/>
<polygon points="180.9 169.2 177.3 170.5 179.7 168.5 183.2 167.2" fill="#0b95d2"/>
<polygon points="80.5 212.2 77 212.1 79.3 210.1 82.9 210.2" fill="#274dcb"/>
<polygon points="74.6 214.1 71.1 214 73.4 212 77 212.1" fill="#2d49c5"/>
<polygon points="186.8 165.8 183.2 167.2 185.6 165.2 189.2 163.8" fill="#089bd0"/>
<polygon points="212.8 148.2 209.2 150.3 211.5 148.3 215.1 146.2" fill="#0cadbc"/>
<polygon points="68.7 216 65.1 215.8 67.5 213.8 71.1 214" fill="#3046be"/>
<polygon points="192.7 162.2 189.2 163.8 191.5 161.7 195.1 160.1" fill="#06a0cd"/>
<polygon points="232.8 132.2 229.2 135.1 231.5 133.1 235.1 130.3" fill="#34b8a0"/>
<polygon points="131.4 194.6 127.8 195 130.1 193 133.7 192.5" fill="#0a73de"/>
<polygon points="137.3 192 133.7 192.5 136 190.5 139.6 190" fill="#0d76dc"/>
<polygon points="125.5 197 121.9 197.4 124.2 195.4 127.8 195" fill="#076fdf"/>
<polygon points="62.8 217.8 59.2 217.5 61.6 215.5 65.1 215.8" fill="#3242b8"/>
<polygon points="143.2 189.4 139.6 190 141.9 188 145.5 187.3" fill="#1079da"/>
<polygon points="119.6 199.4 116 199.7 118.3 197.7 121.9 197.4" fill="#046ce0"/>
<polygon points="149.1 186.6 145.5 187.3 147.8 185.3 151.4 184.6" fill="#127dd8"/>
<polygon points="113.7 201.7 110.1 201.9 112.4 199.9 116 199.7" fill="#0269e1"/>
<polygon points="155 183.8 151.4 184.6 153.7 182.6 157.3 181.8" fill="#1480d6"/>
<polygon points="218.7 143.8 215.1 146.2 217.4 144.2 221 141.8" fill="#16b1b4"/>
<polygon points="107.8 204 104.2 204.1 106.5 202.1 110.1 201.9" fill="#0265e1"/>
<polygon points="56.9 219.5 53.3 219.2 55.7 217.2 59.2 217.5" fill="#343fb2"/>
<polygon points="198.6 158.4 195.1 160.1 197.4 158.1 201 156.3" fill="#06a5c9"/>
<polygon points="160.9 180.9 157.3 181.8 159.6 179.7 163.2 178.8" fill="#1485d4"/>
<polygon points="101.9 206.1 98.3 206.2 100.6 204.2 104.2 204.1" fill="#0661e0"/>
<polygon points="166.8 177.8 163.2 178.8 165.5 176.8 169.1 175.8" fill="#1389d3"/>
<polygon points="95.9 208.3 92.4 208.3 94.7 206.3 98.3 206.2" fill="#0d5dde"/>
<polygon points="90 210.3 86.5 210.3 88.8 208.3 92.4 208.3" fill="#1758d9"/>
<polygon points="172.7 174.6 169.1 175.8 171.4 173.7 175 172.6" fill="#108fd2"/>
<polygon points="204.6 154.4 201 156.3 203.3 154.3 206.9 152.4" fill="#07a9c3"/>
<polygon points="84.1 212.3 80.5 212.2 82.9 210.2 86.5 210.3" fill="#2052d3"/>
<polygon points="224.6 139.1 221 141.8 223.3 139.8 226.9 137.1" fill="#24b5aa"/>
<polygon points="178.6 171.3 175 172.6 177.3 170.5 180.9 169.2" fill="#0b95d2"/>
<polygon points="78.2 214.2 74.6 214.1 77 212.1 80.5 212.2" fill="#274ecc"/>
<polygon points="72.3 216.1 68.7 216 71.1 214 74.6 214.1" fill="#2c4ac5"/>
<polygon points="184.5 167.8 180.9 169.2 183.2 167.2 186.8 165.8" fill="#089bd0"/>
<polygon points="210.5 150.2 206.9 152.4 209.2 150.3 212.8 148.2" fill="#0cadbc"/>
<polygon points="66.4 218 62.8 217.8 65.1 215.8 68.7 216" fill="#2f46bf"/>
<polygon points="190.4 164.2 186.8 165.8 189.2 163.8 192.7 162.2" fill="#06a0cd"/>
<polygon points="230.5 134.2 226.9 137.1 229.2 135.1 232.8 132.2" fill="#35b8a0"/>
<polygon points="129.1 196.6 125.5 197 127.8 195 131.4 194.6" fill="#0a73de"/>
<polygon points="135 194 131.4 194.6 133.7 192.5 137.3 192" fill="#0e76dc"/>
<polygon points="123.2 199.1 119.6 199.4 121.9 197.4 125.5 197" fill="#076fdf"/>
<polygon points="60.5 219.8 56.9 219.5 59.2 217.5 62.8 217.8" fill="#3243b8"/>
<polygon points="140.9 191.4 137.3 192 139.6 190 143.2 189.4" fill="#1079da"/>
<polygon points="117.2 201.4 113.7 201.7 116 199.7 119.6 199.4" fill="#046ce0"/>
<polygon points="146.8 188.7 143.2 189.4 145.5 187.3 149.1 186.6" fill="#137dd8"/>
<polygon points="111.3 203.8 107.8 204 110.1 201.9 113.7 201.7" fill="#0269e1"/>
<polygon points="152.7 185.8 149.1 186.6 151.4 184.6 155 183.8" fill="#1481d6"/>
<polygon points="216.4 145.8 212.8 148.2 215.1 146.2 218.7 143.8" fill="#16b1b4"/>
<polygon points="105.4 206 101.9 206.1 104.2 204.1 107.8 204" fill="#0265e1"/>
<polygon points="54.6 221.5 51 221.2 53.3 219.2 56.9 219.5" fill="#3440b2"/>
<polygon points="196.3 160.4 192.7 162.2 195.1 160.1 198.6 158.4" fill="#06a5c8"/>
<polygon points="158.6 182.9 155 183.8 157.3 181.8 160.9 180.9" fill="#1485d4"/>
<polygon points="99.5 208.2 95.9 208.3 98.3 206.2 101.9 206.1" fill="#0561e0"/>
<polygon points="164.5 179.8 160.9 180.9 163.2 178.8 166.8 177.8" fill="#138ad3"/>
<polygon points="93.6 210.3 90 210.3 92.4 208.3 95.9 208.3" fill="#0d5dde"/>
<polygon points="87.7 212.3 84.1 212.3 86.5 210.3 90 210.3" fill="#1658d9"/>
<polygon points="170.4 176.6 166.8 177.8 169.1 175.8 172.7 174.6" fill="#108fd2"/>
<polygon points="202.2 156.4 198.6 158.4 201 156.3 204.6 154.4" fill="#07a9c3"/>
<polygon points="236.4 129.1 232.8 132.2 235.1 130.3 238.7 127.1" fill="#4bbc93"/>
<polygon points="81.8 214.3 78.2 214.2 80.5 212.2 84.1 212.3" fill="#2053d4"/>
<polygon points="222.3 141.2 218.7 143.8 221 141.8 224.6 139.1" fill="#24b5aa"/>
<polygon points="176.3 173.3 172.7 174.6 175 172.6 178.6 171.3" fill="#0b95d2"/>
<polygon points="75.9 216.3 72.3 216.1 74.6 214.1 78.2 214.2" fill="#264ecd"/>
<polygon points="182.2 169.8 178.6 171.3 180.9 169.2 184.5 167.8" fill="#079bd0"/>
<polygon points="70 218.1 66.4 218 68.7 216 72.3 216.1" fill="#2c4ac6"/>
<polygon points="208.1 152.2 204.6 154.4 206.9 152.4 210.5 150.2" fill="#0cadbc"/>
<polygon points="64.1 220 60.5 219.8 62.8 217.8 66.4 218" fill="#2f46bf"/>
<polygon points="188.1 166.2 184.5 167.8 186.8 165.8 190.4 164.2" fill="#06a0cd"/>
<polygon points="228.2 136.3 224.6 139.1 226.9 137.1 230.5 134.2" fill="#35b89f"/>
<polygon points="126.7 198.6 123.2 199.1 125.5 197 129.1 196.6" fill="#0a73dd"/>
<polygon points="132.6 196.1 129.1 196.6 131.4 194.6 135 194" fill="#0e76dc"/>
<polygon points="120.8 201.1 117.2 201.4 119.6 199.4 123.2 199.1" fill="#0770df"/>
<polygon points="138.6 193.4 135 194 137.3 192 140.9 191.4" fill="#1079da"/>
<polygon points="58.2 221.8 54.6 221.5 56.9 219.5 60.5 219.8" fill="#3243b9"/>
<polygon points="114.9 203.5 111.3 203.8 113.7 201.7 117.2 201.4" fill="#046ce0"/>
<polygon points="144.5 190.7 140.9 191.4 143.2 189.4 146.8 188.7" fill="#137dd8"/>
<polygon points="109 205.8 105.4 206 107.8 204 111.3 203.8" fill="#0269e1"/>
<polygon points="150.4 187.9 146.8 188.7 149.1 186.6 152.7 185.8" fill="#1481d6"/>
<polygon points="214 147.8 210.5 150.2 212.8 148.2 216.4 145.8" fill="#16b1b4"/>
<polygon points="103.1 208 99.5 208.2 101.9 206.1 105.4 206" fill="#0266e1"/>
<polygon points="52.3 223.5 48.7 223.2 51 221.2 54.6 221.5" fill="#3440b3"/>
<polygon points="194 162.4 190.4 164.2 192.7 162.2 196.3 160.4" fill="#06a5c8"/>
<polygon points="156.3 184.9 152.7 185.8 155 183.8 158.6 182.9" fill="#1485d4"/>
<polygon points="97.2 210.2 93.6 210.3 95.9 208.3 99.5 208.2" fill="#0562e0"/>
<polygon points="162.2 181.9 158.6 182.9 160.9 180.9 164.5 179.8" fill="#138ad3"/>
<polygon points="91.3 212.3 87.7 212.3 90 210.3 93.6 210.3" fill="#0c5dde"/>
<polygon points="85.4 214.3 81.8 214.3 84.1 212.3 87.7 212.3" fill="#1558da"/>
<polygon points="168.1 178.7 164.5 179.8 166.8 177.8 170.4 176.6" fill="#0f8fd2"/>
<polygon points="199.9 158.4 196.3 160.4 198.6 158.4 202.2 156.4" fill="#07a9c2"/>
<polygon points="234.1 131.1 230.5 134.2 232.8 132.2 236.4 129.1" fill="#4bbc93"/>
<polygon points="79.5 216.3 75.9 216.3 78.2 214.2 81.8 214.3" fill="#1f53d4"/>
<polygon points="220 143.2 216.4 145.8 218.7 143.8 222.3 141.2" fill="#24b5aa"/>
<polygon points="174 175.3 170.4 176.6 172.7 174.6 176.3 173.3" fill="#0b95d1"/>
<polygon points="73.6 218.3 70 218.1 72.3 216.1 75.9 216.3" fill="#264fcd"/>
<polygon points="179.9 171.9 176.3 173.3 178.6 171.3 182.2 169.8" fill="#079bd0"/>
<polygon points="67.7 220.2 64.1 220 66.4 218 70 218.1" fill="#2c4ac6"/>
<polygon points="205.8 154.2 202.2 156.4 204.6 154.4 208.1 152.2" fill="#0cadbb"/>
<polygon points="61.8 222 58.2 221.8 60.5 219.8 64.1 220" fill="#2f47c0"/>
<polygon points="185.8 168.2 182.2 169.8 184.5 167.8 188.1 166.2" fill="#06a0cd"/>
<polygon points="225.9 138.3 222.3 141.2 224.6 139.1 228.2 136.3" fill="#36b99f"/>
<polygon points="124.4 200.7 120.8 201.1 123.2 199.1 126.7 198.6" fill="#0b73dd"/>
<polygon points="130.3 198.1 126.7 198.6 129.1 196.6 132.6 196.1" fill="#0e76dc"/>
<polygon points="118.5 203.1 114.9 203.5 117.2 201.4 120.8 201.1" fill="#0770df"/>
<polygon points="136.2 195.5 132.6 196.1 135 194 138.6 193.4" fill="#117ada"/>
<polygon points="55.9 223.8 52.3 223.5 54.6 221.5 58.2 221.8" fill="#3243ba"/>
<polygon points="112.6 205.5 109 205.8 111.3 203.8 114.9 203.5" fill="#046de0"/>
<polygon points="240 125.5 236.4 129.1 238.7 127.1 242.3 123.5" fill="#65be86"/>
<polygon points="142.1 192.7 138.6 193.4 140.9 191.4 144.5 190.7" fill="#137dd8"/>
<polygon points="106.7 207.8 103.1 208 105.4 206 109 205.8" fill="#0269e1"/>
<polygon points="148 189.9 144.5 190.7 146.8 188.7 150.4 187.9" fill="#1481d6"/>
<polygon points="211.7 149.8 208.1 152.2 210.5 150.2 214 147.8" fill="#17b1b3"/>
<polygon points="100.8 210 97.2 210.2 99.5 208.2 103.1 208" fill="#0266e1"/>
<polygon points="50 225.5 46.4 225.2 48.7 223.2 52.3 223.5" fill="#3340b4"/>
<polygon points="153.9 187 150.4 187.9 152.7 185.8 156.3 184.9" fill="#1485d4"/>
<polygon points="191.7 164.4 188.1 166.2 190.4 164.2 194 162.4" fill="#06a5c8"/>
<polygon points="94.9 212.2 91.3 212.3 93.6 210.3 97.2 210.2" fill="#0462e1"/>
<polygon points="159.9 183.9 156.3 184.9 158.6 182.9 162.2 181.9" fill="#138ad3"/>
<polygon points="89 214.3 85.4 214.3 87.7 212.3 91.3 212.3" fill="#0c5ede"/>
<polygon points="83.1 216.4 79.5 216.3 81.8 214.3 85.4 214.3" fill="#1559da"/>
<polygon points="165.8 180.7 162.2 181.9 164.5 179.8 168.1 178.7" fill="#0f90d2"/>
<polygon points="197.6 160.5 194 162.4 196.3 160.4 199.9 158.4" fill="#07a9c2"/>
<polygon points="231.8 133.1 228.2 136.3 230.5 134.2 234.1 131.1" fill="#4cbc92"/>
<polygon points="77.2 218.3 73.6 218.3 75.9 216.3 79.5 216.3" fill="#1e54d5"/>
<polygon points="217.6 145.2 214 147.8 216.4 145.8 220 143.2" fill="#25b5aa"/>
<polygon points="171.7 177.4 168.1 178.7 170.4 176.6 174 175.3" fill="#0b96d1"/>
<polygon points="71.3 220.3 67.7 220.2 70 218.1 73.6 218.3" fill="#254fce"/>
<polygon points="177.6 173.9 174 175.3 176.3 173.3 179.9 171.9" fill="#079bd0"/>
<polygon points="65.4 222.2 61.8 222 64.1 220 67.7 220.2" fill="#2b4bc7"/>
<polygon points="203.5 156.3 199.9 158.4 202.2 156.4 205.8 154.2" fill="#0cadbb"/>
<polygon points="59.5 224 55.9 223.8 58.2 221.8 61.8 222" fill="#2f47c1"/>
<polygon points="183.5 170.3 179.9 171.9 182.2 169.8 185.8 168.2" fill="#06a1cd"/>
<polygon points="223.5 140.3 220 143.2 222.3 141.2 225.9 138.3" fill="#36b99f"/>
<polygon points="122.1 202.7 118.5 203.1 120.8 201.1 124.4 200.7" fill="#0b73dd"/>
<polygon points="128 200.1 124.4 200.7 126.7 198.6 130.3 198.1" fill="#0e76dc"/>
<polygon points="116.2 205.2 112.6 205.5 114.9 203.5 118.5 203.1" fill="#0770df"/>
<polygon points="133.9 197.5 130.3 198.1 132.6 196.1 136.2 195.5" fill="#117ada"/>
<polygon points="53.6 225.8 50 225.5 52.3 223.5 55.9 223.8" fill="#3244ba"/>
<polygon points="110.3 207.5 106.7 207.8 109 205.8 112.6 205.5" fill="#046de0"/>
<polygon points="237.7 127.5 234.1 131.1 236.4 129.1 240 125.5" fill="#66be85"/>
<polygon points="139.8 194.8 136.2 195.5 138.6 193.4 142.1 192.7" fill="#137dd8"/>
<polygon points="104.4 209.8 100.8 210 103.1 208 106.7 207.8" fill="#0269e1"/>
<polygon points="145.7 191.9 142.1 192.7 144.5 190.7 148 189.9" fill="#1481d6"/>
<polygon points="209.4 151.9 205.8 154.2 208.1 152.2 211.7 149.8" fill="#17b1b3"/>
<polygon points="98.5 212.1 94.9 212.2 97.2 210.2 100.8 210" fill="#0266e1"/>
<polygon points="151.6 189 148 189.9 150.4 187.9 153.9 187" fill="#1485d4"/>
<polygon points="189.4 166.5 185.8 168.2 188.1 166.2 191.7 164.4" fill="#06a5c8"/>
<polygon points="47.7 227.5 44.1 227.2 46.4 225.2 50 225.5" fill="#3341b4"/>
<polygon points="92.6 214.2 89 214.3 91.3 212.3 94.9 212.2" fill="#0462e1"/>
<polygon points="157.5 185.9 153.9 187 156.3 184.9 159.9 183.9" fill="#138ad3"/>
<polygon points="86.7 216.3 83.1 216.4 85.4 214.3 89 214.3" fill="#0b5edf"/>
<polygon points="80.8 218.4 77.2 218.3 79.5 216.3 83.1 216.4" fill="#1459db"/>
<polygon points="163.4 182.8 159.9 183.9 162.2 181.9 165.8 180.7" fill="#0f90d2"/>
<polygon points="195.3 162.5 191.7 164.4 194 162.4 197.6 160.5" fill="#07a9c2"/>
<polygon points="229.4 135.1 225.9 138.3 228.2 136.3 231.8 133.1" fill="#4cbc92"/>
<polygon points="74.9 220.4 71.3 220.3 73.6 218.3 77.2 218.3" fill="#1d54d5"/>
<polygon points="215.3 147.2 211.7 149.8 214 147.8 217.6 145.2" fill="#25b5aa"/>
<polygon points="169.3 179.4 165.8 180.7 168.1 178.7 171.7 177.4" fill="#0b96d1"/>
<polygon points="69 222.3 65.4 222.2 67.7 220.2 71.3 220.3" fill="#254fcf"/>
<polygon points="243.6 121.7 240 125.5 242.3 123.5 245.9 119.7" fill="#81bf79"/>
<polygon points="175.2 176 171.7 177.4 174 175.3 177.6 173.9" fill="#079bd0"/>
<polygon points="63.1 224.2 59.5 224 61.8 222 65.4 222.2" fill="#2b4bc8"/>
<polygon points="201.2 158.3 197.6 160.5 199.9 158.4 203.5 156.3" fill="#0dadbb"/>
<polygon points="57.1 226 53.6 225.8 55.9 223.8 59.5 224" fill="#2e48c1"/>
<polygon points="181.2 172.3 177.6 173.9 179.9 171.9 183.5 170.3" fill="#06a1cd"/>
<polygon points="221.2 142.3 217.6 145.2 220 143.2 223.5 140.3" fill="#37b99e"/>
<polygon points="119.8 204.7 116.2 205.2 118.5 203.1 122.1 202.7" fill="#0b73dd"/>
<polygon points="125.7 202.2 122.1 202.7 124.4 200.7 128 200.1" fill="#0e76db"/>
<polygon points="113.9 207.2 110.3 207.5 112.6 205.5 116.2 205.2" fill="#0870df"/>
<polygon points="131.6 199.6 128 200.1 130.3 198.1 133.9 197.5" fill="#117ada"/>
<polygon points="51.2 227.8 47.7 227.5 50 225.5 53.6 225.8" fill="#3144bb"/>
<polygon points="108 209.6 104.4 209.8 106.7 207.8 110.3 207.5" fill="#046de0"/>
<polygon points="137.5 196.8 133.9 197.5 136.2 195.5 139.8 194.8" fill="#137dd8"/>
<polygon points="235.3 129.6 231.8 133.1 234.1 131.1 237.7 127.5" fill="#66be85"/>
<polygon points="102.1 211.9 98.5 212.1 100.8 210 104.4 209.8" fill="#026ae1"/>
<polygon points="143.4 194 139.8 194.8 142.1 192.7 145.7 191.9" fill="#1481d6"/>
<polygon points="207.1 153.9 203.5 156.3 205.8 154.2 209.4 151.9" fill="#17b1b3"/>
<polygon points="96.2 214.1 92.6 214.2 94.9 212.2 98.5 212.1" fill="#0266e1"/>
<polygon points="149.3 191 145.7 191.9 148 189.9 151.6 189" fill="#1485d4"/>
<polygon points="187.1 168.5 183.5 170.3 185.8 168.2 189.4 166.5" fill="#06a5c8"/>
<polygon points="45.3 229.5 41.8 229.2 44.1 227.2 47.7 227.5" fill="#3341b5"/>
<polygon points="90.3 216.3 86.7 216.3 89 214.3 92.6 214.2" fill="#0363e1"/>
<polygon points="155.2 188 151.6 189 153.9 187 157.5 185.9" fill="#128ad3"/>
<polygon points="84.4 218.4 80.8 218.4 83.1 216.4 86.7 216.3" fill="#0b5edf"/>
<polygon points="78.5 220.4 74.9 220.4 77.2 218.3 80.8 218.4" fill="#135adb"/>
<polygon points="161.1 184.8 157.5 185.9 159.9 183.9 163.4 182.8" fill="#0f90d2"/>
<polygon points="193 164.5 189.4 166.5 191.7 164.4 195.3 162.5" fill="#07a9c2"/>
<polygon points="227.1 137.1 223.5 140.3 225.9 138.3 229.4 135.1" fill="#4dbc92"/>
<polygon points="72.5 222.4 69 222.3 71.3 220.3 74.9 220.4" fill="#1d54d6"/>
<polygon points="213 149.2 209.4 151.9 211.7 149.8 215.3 147.2" fill="#25b5a9"/>
<polygon points="167 181.5 163.4 182.8 165.8 180.7 169.3 179.4" fill="#0a96d1"/>
<polygon points="66.6 224.3 63.1 224.2 65.4 222.2 69 222.3" fill="#2450cf"/>
<polygon points="241.3 123.7 237.7 127.5 240 125.5 243.6 121.7" fill="#82bf79"/>
<polygon points="172.9 178 169.3 179.4 171.7 177.4 175.2 176" fill="#079cd0"/>
<polygon points="60.7 226.2 57.1 226 59.5 224 63.1 224.2" fill="#2a4bc8"/>
<polygon points="198.9 160.3 195.3 162.5 197.6 160.5 201.2 158.3" fill="#0dadbb"/>
<polygon points="54.8 228 51.2 227.8 53.6 225.8 57.1 226" fill="#2e48c2"/>
<polygon points="178.8 174.4 175.2 176 177.6 173.9 181.2 172.3" fill="#06a1cd"/>
<polygon points="218.9 144.3 215.3 147.2 217.6 145.2 221.2 142.3" fill="#37b99e"/>
<polygon points="123.4 204.2 119.8 204.7 122.1 202.7 125.7 202.2" fill="#0e77db"/>
<polygon points="117.5 206.8 113.9 207.2 116.2 205.2 119.8 204.7" fill="#0b73dd"/>
<polygon points="111.6 209.2 108 209.6 110.3 207.5 113.9 207.2" fill="#0870df"/>
<polygon points="129.3 201.6 125.7 202.2 128 200.1 131.6 199.6" fill="#117ad9"/>
<polygon points="48.9 229.8 45.3 229.5 47.7 227.5 51.2 227.8" fill="#3145bc"/>
<polygon points="105.7 211.6 102.1 211.9 104.4 209.8 108 209.6" fill="#056de0"/>
<polygon points="135.2 198.9 131.6 199.6 133.9 197.5 137.5 196.8" fill="#137dd7"/>
<polygon points="233 131.6 229.4 135.1 231.8 133.1 235.3 129.6" fill="#67be85"/>
<polygon points="99.8 213.9 96.2 214.1 98.5 212.1 102.1 211.9" fill="#026ae1"/>
<polygon points="141.1 196 137.5 196.8 139.8 194.8 143.4 194" fill="#1481d5"/>
<polygon points="204.8 155.9 201.2 158.3 203.5 156.3 207.1 153.9" fill="#17b1b3"/>
<polygon points="93.9 216.1 90.3 216.3 92.6 214.2 96.2 214.1" fill="#0266e1"/>
<polygon points="147 193.1 143.4 194 145.7 191.9 149.3 191" fill="#1485d4"/>
<polygon points="184.7 170.6 181.2 172.3 183.5 170.3 187.1 168.5" fill="#06a5c8"/>
<polygon points="43 231.5 39.4 231.2 41.8 229.2 45.3 229.5" fill="#3341b6"/>
<polygon points="87.9 218.3 84.4 218.4 86.7 216.3 90.3 216.3" fill="#0363e1"/>
<polygon points="152.9 190 149.3 191 151.6 189 155.2 188" fill="#128ad3"/>
<polygon points="82 220.4 78.5 220.4 80.8 218.4 84.4 218.4" fill="#0a5fdf"/>
<polygon points="247.2 117.4 243.6 121.7 245.9 119.7 249.5 115.4" fill="#9cbf6e"/>
<polygon points="158.8 186.8 155.2 188 157.5 185.9 161.1 184.8" fill="#0f90d2"/>
<polygon points="76.1 222.4 72.5 222.4 74.9 220.4 78.5 220.4" fill="#125adc"/>
<polygon points="190.6 166.6 187.1 168.5 189.4 166.5 193 164.5" fill="#07a9c2"/>
<polygon points="224.8 139.1 221.2 142.3 223.5 140.3 227.1 137.1" fill="#4dbc92"/>
<polygon points="70.2 224.4 66.6 224.3 69 222.3 72.5 222.4" fill="#1c55d6"/>
<polygon points="210.7 151.3 207.1 153.9 209.4 151.9 213 149.2" fill="#26b5a9"/>
<polygon points="164.7 183.5 161.1 184.8 163.4 182.8 167 181.5" fill="#0a96d1"/>
<polygon points="64.3 226.3 60.7 226.2 63.1 224.2 66.6 224.3" fill="#2350d0"/>
<polygon points="238.9 125.7 235.3 129.6 237.7 127.5 241.3 123.7" fill="#82bf79"/>
<polygon points="170.6 180 167 181.5 169.3 179.4 172.9 178" fill="#079cd0"/>
<polygon points="58.4 228.2 54.8 228 57.1 226 60.7 226.2" fill="#2a4cc9"/>
<polygon points="196.6 162.4 193 164.5 195.3 162.5 198.9 160.3" fill="#0dadbb"/>
<polygon points="52.5 230 48.9 229.8 51.2 227.8 54.8 228" fill="#2e48c2"/>
<polygon points="176.5 176.4 172.9 178 175.2 176 178.8 174.4" fill="#06a1cc"/>
<polygon points="216.6 146.4 213 149.2 215.3 147.2 218.9 144.3" fill="#37b99e"/>
<polygon points="121.1 206.3 117.5 206.8 119.8 204.7 123.4 204.2" fill="#0e77db"/>
<polygon points="115.2 208.8 111.6 209.2 113.9 207.2 117.5 206.8" fill="#0b74dd"/>
<polygon points="127 203.6 123.4 204.2 125.7 202.2 129.3 201.6" fill="#117ad9"/>
<polygon points="109.2 211.3 105.7 211.6 108 209.6 111.6 209.2" fill="#0870df"/>
<polygon points="103.3 213.6 99.8 213.9 102.1 211.9 105.7 211.6" fill="#056de0"/>
<polygon points="132.9 200.9 129.3 201.6 131.6 199.6 135.2 198.9" fill="#137ed7"/>
<polygon points="46.6 231.8 43 231.5 45.3 229.5 48.9 229.8" fill="#3145bc"/>
<polygon points="230.7 133.6 227.1 137.1 229.4 135.1 233 131.6" fill="#67be85"/>
<polygon points="97.4 215.9 93.9 216.1 96.2 214.1 99.8 213.9" fill="#036ae1"/>
<polygon points="138.8 198.1 135.2 198.9 137.5 196.8 141.1 196" fill="#1481d5"/>
<polygon points="202.5 158 198.9 160.3 201.2 158.3 204.8 155.9" fill="#18b1b3"/>
<polygon points="91.5 218.2 87.9 218.3 90.3 216.3 93.9 216.1" fill="#0267e1"/>
<polygon points="144.7 195.1 141.1 196 143.4 194 147 193.1" fill="#1486d4"/>
<polygon points="182.4 172.6 178.8 174.4 181.2 172.3 184.7 170.6" fill="#06a5c8"/>
<polygon points="40.7 233.5 37.1 233.2 39.4 231.2 43 231.5" fill="#3342b6"/>
<polygon points="85.6 220.3 82 220.4 84.4 218.4 87.9 218.3" fill="#0363e1"/>
<polygon points="150.6 192.1 147 193.1 149.3 191 152.9 190" fill="#128bd3"/>
<polygon points="79.7 222.4 76.1 222.4 78.5 220.4 82 220.4" fill="#0a5fdf"/>
<polygon points="156.5 188.9 152.9 190 155.2 188 158.8 186.8" fill="#0f90d2"/>
<polygon points="244.8 119.4 241.3 123.7 243.6 121.7 247.2 117.4" fill="#9cbf6e"/>
<polygon points="73.8 224.4 70.2 224.4 72.5 222.4 76.1 222.4" fill="#125adc"/>
<polygon points="188.3 168.6 184.7 170.6 187.1 168.5 190.6 166.6" fill="#07aac2"/>
<polygon points="222.5 141.1 218.9 144.3 221.2 142.3 224.8 139.1" fill="#4ebc91"/>
<polygon points="67.9 226.4 64.3 226.3 66.6 224.3 70.2 224.4" fill="#1b55d6"/>
<polygon points="208.4 153.3 204.8 155.9 207.1 153.9 210.7 151.3" fill="#26b5a9"/>
<polygon points="162.4 185.6 158.8 186.8 161.1 184.8 164.7 183.5" fill="#0a96d1"/>
<polygon points="62 228.3 58.4 228.2 60.7 226.2 64.3 226.3" fill="#2351d0"/>
<polygon points="236.6 127.7 233 131.6 235.3 129.6 238.9 125.7" fill="#83bf79"/>
<polygon points="168.3 182.1 164.7 183.5 167 181.5 170.6 180" fill="#079cd0"/>
<polygon points="56.1 230.2 52.5 230 54.8 228 58.4 228.2" fill="#294cca"/>
<polygon points="194.2 164.4 190.6 166.6 193 164.5 196.6 162.4" fill="#0daebb"/>
<polygon points="50.2 232 46.6 231.8 48.9 229.8 52.5 230" fill="#2d49c3"/>
<polygon points="174.2 178.5 170.6 180 172.9 178 176.5 176.4" fill="#06a1cc"/>
<polygon points="214.3 148.4 210.7 151.3 213 149.2 216.6 146.4" fill="#38b99e"/>
<polygon points="118.7 208.3 115.2 208.8 117.5 206.8 121.1 206.3" fill="#0e77db"/>
<polygon points="112.8 210.8 109.2 211.3 111.6 209.2 115.2 208.8" fill="#0b74dd"/>
<polygon points="124.6 205.7 121.1 206.3 123.4 204.2 127 203.6" fill="#117ad9"/>
<polygon points="106.9 213.3 103.3 213.6 105.7 211.6 109.2 211.3" fill="#0871df"/>
<polygon points="101 215.7 97.4 215.9 99.8 213.9 103.3 213.6" fill="#056de0"/>
<polygon points="130.6 203 127 203.6 129.3 201.6 132.9 200.9" fill="#137ed7"/>
<polygon points="44.3 233.8 40.7 233.5 43 231.5 46.6 231.8" fill="#3045bd"/>
<polygon points="228.4 135.6 224.8 139.1 227.1 137.1 230.7 133.6" fill="#68be84"/>
<polygon points="95.1 218 91.5 218.2 93.9 216.1 97.4 215.9" fill="#036ae1"/>
<polygon points="136.5 200.1 132.9 200.9 135.2 198.9 138.8 198.1" fill="#1482d5"/>
<polygon points="200.1 160 196.6 162.4 198.9 160.3 202.5 158" fill="#18b1b2"/>
<polygon points="89.2 220.2 85.6 220.3 87.9 218.3 91.5 218.2" fill="#0267e1"/>
<polygon points="142.4 197.2 138.8 198.1 141.1 196 144.7 195.1" fill="#1486d4"/>
<polygon points="180.1 174.7 176.5 176.4 178.8 174.4 182.4 172.6" fill="#06a5c8"/>
<polygon points="250.7 112.7 247.2 117.4 249.5 115.4 253.1 110.7" fill="#b6bd64"/>
<polygon points="38.4 235.5 34.8 235.2 37.1 233.2 40.7 233.5" fill="#3342b7"/>
<polygon points="83.3 222.3 79.7 222.4 82 220.4 85.6 220.3" fill="#0363e1"/>
<polygon points="148.3 194.1 144.7 195.1 147 193.1 150.6 192.1" fill="#128bd3"/>
<polygon points="77.4 224.4 73.8 224.4 76.1 222.4 79.7 222.4" fill="#095fdf"/>
<polygon points="154.2 190.9 150.6 192.1 152.9 190 156.5 188.9" fill="#0f90d2"/>
<polygon points="242.5 121.4 238.9 125.7 241.3 123.7 244.8 119.4" fill="#9dbf6e"/>
<polygon points="71.5 226.5 67.9 226.4 70.2 224.4 73.8 224.4" fill="#115bdc"/>
<polygon points="186 170.7 182.4 172.6 184.7 170.6 188.3 168.6" fill="#07aac2"/>
<polygon points="220.2 143.2 216.6 146.4 218.9 144.3 222.5 141.1" fill="#4ebc91"/>
<polygon points="65.6 228.4 62 228.3 64.3 226.3 67.9 226.4" fill="#1a56d7"/>
<polygon points="206 155.4 202.5 158 204.8 155.9 208.4 153.3" fill="#26b5a9"/>
<polygon points="160.1 187.6 156.5 188.9 158.8 186.8 162.4 185.6" fill="#0a96d1"/>
<polygon points="59.7 230.4 56.1 230.2 58.4 228.2 62 228.3" fill="#2251d1"/>
<polygon points="234.3 129.7 230.7 133.6 233 131.6 236.6 127.7" fill="#83bf79"/>
<polygon points="166 184.2 162.4 185.6 164.7 183.5 168.3 182.1" fill="#079cd0"/>
<polygon points="191.9 166.5 188.3 168.6 190.6 166.6 194.2 164.4" fill="#0daeba"/>
<polygon points="53.8 232.2 50.2 232 52.5 230 56.1 230.2" fill="#284dca"/>
<polygon points="47.9 234 44.3 233.8 46.6 231.8 50.2 232" fill="#2d49c4"/>
<polygon points="171.9 180.5 168.3 182.1 170.6 180 174.2 178.5" fill="#06a1cc"/>
<polygon points="212 150.4 208.4 153.3 210.7 151.3 214.3 148.4" fill="#38b99e"/>
<polygon points="116.4 210.4 112.8 210.8 115.2 208.8 118.7 208.3" fill="#0f77db"/>
<polygon points="110.5 212.9 106.9 213.3 109.2 211.3 112.8 210.8" fill="#0b74dd"/>
<polygon points="122.3 207.7 118.7 208.3 121.1 206.3 124.6 205.7" fill="#117ad9"/>
<polygon points="104.6 215.3 101 215.7 103.3 213.6 106.9 213.3" fill="#0871de"/>
<polygon points="128.2 205 124.6 205.7 127 203.6 130.6 203" fill="#137ed7"/>
<polygon points="98.7 217.7 95.1 218 97.4 215.9 101 215.7" fill="#056ee0"/>
<polygon points="42 235.8 38.4 235.5 40.7 233.5 44.3 233.8" fill="#3046be"/>
<polygon points="226.1 137.6 222.5 141.1 224.8 139.1 228.4 135.6" fill="#68be84"/>
<polygon points="92.8 220 89.2 220.2 91.5 218.2 95.1 218" fill="#036ae1"/>
<polygon points="134.1 202.2 130.6 203 132.9 200.9 136.5 200.1" fill="#1482d5"/>
<polygon points="197.8 162.1 194.2 164.4 196.6 162.4 200.1 160" fill="#18b1b2"/>
<polygon points="86.9 222.2 83.3 222.3 85.6 220.3 89.2 220.2" fill="#0267e1"/>
<polygon points="140 199.2 136.5 200.1 138.8 198.1 142.4 197.2" fill="#1486d4"/>
<polygon points="177.8 176.7 174.2 178.5 176.5 176.4 180.1 174.7" fill="#06a6c7"/>
<polygon points="248.4 114.7 244.8 119.4 247.2 117.4 250.7 112.7" fill="#b6bd64"/>
<polygon points="81 224.4 77.4 224.4 79.7 222.4 83.3 222.3" fill="#0364e1"/>
<polygon points="145.9 196.2 142.4 197.2 144.7 195.1 148.3 194.1" fill="#128bd3"/>
<polygon points="75.1 226.5 71.5 226.5 73.8 224.4 77.4 224.4" fill="#095fdf"/>
<polygon points="151.9 193 148.3 194.1 150.6 192.1 154.2 190.9" fill="#0f90d2"/>
<polygon points="69.2 228.5 65.6 228.4 67.9 226.4 71.5 226.5" fill="#105bdd"/>
<polygon points="240.2 123.4 236.6 127.7 238.9 125.7 242.5 121.4" fill="#9dbe6e"/>
<polygon points="183.7 172.7 180.1 174.7 182.4 172.6 186 170.7" fill="#07aac1"/>
<polygon points="217.9 145.2 214.3 148.4 216.6 146.4 220.2 143.2" fill="#4fbc91"/>
<polygon points="63.3 230.5 59.7 230.4 62 228.3 65.6 228.4" fill="#1a56d7"/>
<polygon points="203.7 157.4 200.1 160 202.5 158 206 155.4" fill="#27b5a9"/>
<polygon points="157.8 189.7 154.2 190.9 156.5 188.9 160.1 187.6" fill="#0a96d1"/>
<polygon points="57.4 232.4 53.8 232.2 56.1 230.2 59.7 230.4" fill="#2251d2"/>
<polygon points="232 131.7 228.4 135.6 230.7 133.6 234.3 129.7" fill="#84bf78"/>
<polygon points="163.7 186.2 160.1 187.6 162.4 185.6 166 184.2" fill="#079cd0"/>
<polygon points="189.6 168.5 186 170.7 188.3 168.6 191.9 166.5" fill="#0daeba"/>
<polygon points="51.5 234.2 47.9 234 50.2 232 53.8 232.2" fill="#284dcb"/>
<polygon points="45.6 236 42 235.8 44.3 233.8 47.9 234" fill="#2d49c4"/>
<polygon points="169.6 182.6 166 184.2 168.3 182.1 171.9 180.5" fill="#06a1cc"/>
<polygon points="209.6 152.5 206 155.4 208.4 153.3 212 150.4" fill="#39b99d"/>
<polygon points="114.1 212.4 110.5 212.9 112.8 210.8 116.4 210.4" fill="#0f77db"/>
<polygon points="108.2 214.9 104.6 215.3 106.9 213.3 110.5 212.9" fill="#0c74dd"/>
<polygon points="120 209.8 116.4 210.4 118.7 208.3 122.3 207.7" fill="#117ad9"/>
<polygon points="102.3 217.4 98.7 217.7 101 215.7 104.6 215.3" fill="#0871de"/>
<polygon points="125.9 207.1 122.3 207.7 124.6 205.7 128.2 205" fill="#137ed7"/>
<polygon points="96.4 219.7 92.8 220 95.1 218 98.7 217.7" fill="#056ee0"/>
<polygon points="223.8 139.7 220.2 143.2 222.5 141.1 226.1 137.6" fill="#69be84"/>
<polygon points="90.5 222 86.9 222.2 89.2 220.2 92.8 220" fill="#036be1"/>
<polygon points="131.8 204.2 128.2 205 130.6 203 134.1 202.2" fill="#1482d5"/>
<polygon points="254.3 107.4 250.7 112.7 253.1 110.7 256.7 105.4" fill="#d0bb5a"/>
<polygon points="195.5 164.1 191.9 166.5 194.2 164.4 197.8 162.1" fill="#18b2b2"/>
<polygon points="84.6 224.3 81 224.4 83.3 222.3 86.9 222.2" fill="#0267e1"/>
<polygon points="137.7 201.3 134.1 202.2 136.5 200.1 140 199.2" fill="#1486d4"/>
<polygon points="175.5 178.8 171.9 180.5 174.2 178.5 177.8 176.7" fill="#06a6c7"/>
<polygon points="246.1 116.7 242.5 121.4 244.8 119.4 248.4 114.7" fill="#b7bd64"/>
<polygon points="78.7 226.4 75.1 226.5 77.4 224.4 81 224.4" fill="#0364e1"/>
<polygon points="143.6 198.2 140 199.2 142.4 197.2 145.9 196.2" fill="#128bd2"/>
<polygon points="72.8 228.5 69.2 228.5 71.5 226.5 75.1 226.5" fill="#0860df"/>
<polygon points="149.5 195.1 145.9 196.2 148.3 194.1 151.9 193" fill="#0e91d2"/>
<polygon points="66.9 230.5 63.3 230.5 65.6 228.4 69.2 228.5" fill="#0f5cdd"/>
<polygon points="237.9 125.4 234.3 129.7 236.6 127.7 240.2 123.4" fill="#9ebe6e"/>
<polygon points="181.4 174.8 177.8 176.7 180.1 174.7 183.7 172.7" fill="#07aac1"/>
<polygon points="215.5 147.3 212 150.4 214.3 148.4 217.9 145.2" fill="#4fbc91"/>
<polygon points="61 232.5 57.4 232.4 59.7 230.4 63.3 230.5" fill="#1956d8"/>
<polygon points="201.4 159.5 197.8 162.1 200.1 160 203.7 157.4" fill="#27b5a8"/>
<polygon points="155.4 191.7 151.9 193 154.2 190.9 157.8 189.7" fill="#0a97d1"/>
<polygon points="55.1 234.4 51.5 234.2 53.8 232.2 57.4 232.4" fill="#2152d2"/>
<polygon points="229.7 133.8 226.1 137.6 228.4 135.6 232 131.7" fill="#84bf78"/>
<polygon points="161.3 188.3 157.8 189.7 160.1 187.6 163.7 186.2" fill="#079cd0"/>
<polygon points="187.3 170.6 183.7 172.7 186 170.7 189.6 168.5" fill="#0eaeba"/>
<polygon points="49.2 236.2 45.6 236 47.9 234 51.5 234.2" fill="#274dcb"/>
<polygon points="167.2 184.6 163.7 186.2 166 184.2 169.6 182.6" fill="#06a1cc"/>
<polygon points="207.3 154.5 203.7 157.4 206 155.4 209.6 152.5" fill="#39b99d"/>
<polygon points="111.8 214.4 108.2 214.9 110.5 212.9 114.1 212.4" fill="#0f77db"/>
<polygon points="105.9 217 102.3 217.4 104.6 215.3 108.2 214.9" fill="#0c74dd"/>
<polygon points="117.7 211.8 114.1 212.4 116.4 210.4 120 209.8" fill="#117bd9"/>
<polygon points="100 219.4 96.4 219.7 98.7 217.7 102.3 217.4" fill="#0871de"/>
<polygon points="123.6 209.1 120 209.8 122.3 207.7 125.9 207.1" fill="#137ed7"/>
<polygon points="94.1 221.8 90.5 222 92.8 220 96.4 219.7" fill="#056ee0"/>
<polygon points="221.4 141.7 217.9 145.2 220.2 143.2 223.8 139.7" fill="#69be84"/>
<polygon points="129.5 206.3 125.9 207.1 128.2 205 131.8 204.2" fill="#1482d5"/>
<polygon points="88.2 224.1 84.6 224.3 86.9 222.2 90.5 222" fill="#036be1"/>
<polygon points="252 109.4 248.4 114.7 250.7 112.7 254.3 107.4" fill="#d0bb59"/>
<polygon points="193.2 166.2 189.6 168.5 191.9 166.5 195.5 164.1" fill="#19b2b2"/>
<polygon points="82.3 226.3 78.7 226.4 81 224.4 84.6 224.3" fill="#0267e1"/>
<polygon points="173.2 180.8 169.6 182.6 171.9 180.5 175.5 178.8" fill="#06a6c7"/>
<polygon points="135.4 203.4 131.8 204.2 134.1 202.2 137.7 201.3" fill="#1486d4"/>
<polygon points="243.8 118.7 240.2 123.4 242.5 121.4 246.1 116.7" fill="#b7bd64"/>
<polygon points="76.4 228.4 72.8 228.5 75.1 226.5 78.7 226.4" fill="#0364e1"/>
<polygon points="141.3 200.3 137.7 201.3 140 199.2 143.6 198.2" fill="#128bd2"/>
<polygon points="70.5 230.5 66.9 230.5 69.2 228.5 72.8 228.5" fill="#0860e0"/>
<polygon points="147.2 197.1 143.6 198.2 145.9 196.2 149.5 195.1" fill="#0e91d2"/>
<polygon points="64.5 232.5 61 232.5 63.3 230.5 66.9 230.5" fill="#0f5cdd"/>
<polygon points="235.6 127.5 232 131.7 234.3 129.7 237.9 125.4" fill="#9ebe6e"/>
<polygon points="179.1 176.9 175.5 178.8 177.8 176.7 181.4 174.8" fill="#07aac1"/>
<polygon points="213.2 149.3 209.6 152.5 212 150.4 215.5 147.3" fill="#4fbc91"/>
<polygon points="199.1 161.5 195.5 164.1 197.8 162.1 201.4 159.5" fill="#27b5a8"/>
<polygon points="58.6 234.5 55.1 234.4 57.4 232.4 61 232.5" fill="#1857d8"/>
<polygon points="153.1 193.8 149.5 195.1 151.9 193 155.4 191.7" fill="#0a97d1"/>
<polygon points="52.7 236.4 49.2 236.2 51.5 234.2 55.1 234.4" fill="#2152d3"/>
<polygon points="227.3 135.8 223.8 139.7 226.1 137.6 229.7 133.8" fill="#84bf78"/>
<polygon points="159 190.3 155.4 191.7 157.8 189.7 161.3 188.3" fill="#079cd0"/>
<polygon points="185 172.7 181.4 174.8 183.7 172.7 187.3 170.6" fill="#0eaeba"/>
<polygon points="164.9 186.7 161.3 188.3 163.7 186.2 167.2 184.6" fill="#06a1cc"/>
<polygon points="205 156.6 201.4 159.5 203.7 157.4 207.3 154.5" fill="#39b99d"/>
<polygon points="109.5 216.5 105.9 217 108.2 214.9 111.8 214.4" fill="#0f77db"/>
<polygon points="103.6 219 100 219.4 102.3 217.4 105.9 217" fill="#0c74dd"/>
<polygon points="115.4 213.9 111.8 214.4 114.1 212.4 117.7 211.8" fill="#117bd9"/>
<polygon points="97.7 221.5 94.1 221.8 96.4 219.7 100 219.4" fill="#0971de"/>
<polygon points="121.3 211.2 117.7 211.8 120 209.8 123.6 209.1" fill="#137ed7"/>
<polygon points="91.8 223.8 88.2 224.1 90.5 222 94.1 221.8" fill="#056ee0"/>
<polygon points="219.1 143.8 215.5 147.3 217.9 145.2 221.4 141.7" fill="#6abe84"/>
<polygon points="127.2 208.3 123.6 209.1 125.9 207.1 129.5 206.3" fill="#1482d5"/>
<polygon points="85.9 226.1 82.3 226.3 84.6 224.3 88.2 224.1" fill="#036be0"/>
<polygon points="257.9 101.6 254.3 107.4 256.7 105.4 260.2 99.6" fill="#ebb94d"/>
<polygon points="249.7 111.4 246.1 116.7 248.4 114.7 252 109.4" fill="#d1bb59"/>
<polygon points="190.9 168.2 187.3 170.6 189.6 168.5 193.2 166.2" fill="#19b2b2"/>
<polygon points="79.9 228.3 76.4 228.4 78.7 226.4 82.3 226.3" fill="#0268e1"/>
<polygon points="170.8 182.9 167.2 184.6 169.6 182.6 173.2 180.8" fill="#06a6c7"/>
<polygon points="133.1 205.4 129.5 206.3 131.8 204.2 135.4 203.4" fill="#1486d4"/>
<polygon points="241.5 120.7 237.9 125.4 240.2 123.4 243.8 118.7" fill="#b8bd63"/>
<polygon points="74 230.5 70.5 230.5 72.8 228.5 76.4 228.4" fill="#0364e1"/>
<polygon points="139 202.4 135.4 203.4 137.7 201.3 141.3 200.3" fill="#128bd2"/>
<polygon points="68.1 232.5 64.5 232.5 66.9 230.5 70.5 230.5" fill="#0760e0"/>
<polygon points="144.9 199.2 141.3 200.3 143.6 198.2 147.2 197.1" fill="#0e91d2"/>
<polygon points="62.2 234.6 58.6 234.5 61 232.5 64.5 232.5" fill="#0e5cde"/>
<polygon points="233.3 129.5 229.7 133.8 232 131.7 235.6 127.5" fill="#9ebe6d"/>
<polygon points="176.7 178.9 173.2 180.8 175.5 178.8 179.1 176.9" fill="#07aac1"/>
<polygon points="210.9 151.4 207.3 154.5 209.6 152.5 213.2 149.3" fill="#50bc90"/>
<polygon points="196.8 163.6 193.2 166.2 195.5 164.1 199.1 161.5" fill="#27b5a8"/>
<polygon points="150.8 195.9 147.2 197.1 149.5 195.1 153.1 193.8" fill="#0a97d1"/>
<polygon points="56.3 236.5 52.7 236.4 55.1 234.4 58.6 234.5" fill="#1857d9"/>
<polygon points="156.7 192.4 153.1 193.8 155.4 191.7 159 190.3" fill="#079ccf"/>
<polygon points="225 137.9 221.4 141.7 223.8 139.7 227.3 135.8" fill="#85bf78"/>
<polygon points="182.6 174.7 179.1 176.9 181.4 174.8 185 172.7" fill="#0eaeba"/>
<polygon points="162.6 188.8 159 190.3 161.3 188.3 164.9 186.7" fill="#06a1cc"/>
<polygon points="202.7 158.7 199.1 161.5 201.4 159.5 205 156.6" fill="#39b99d"/>
<polygon points="107.2 218.5 103.6 219 105.9 217 109.5 216.5" fill="#0f77db"/>
<polygon points="101.2 221.1 97.7 221.5 100 219.4 103.6 219" fill="#0c74dd"/>
<polygon points="113.1 215.9 109.5 216.5 111.8 214.4 115.4 213.9" fill="#117bd9"/>
<polygon points="95.3 223.5 91.8 223.8 94.1 221.8 97.7 221.5" fill="#0971de"/>
<polygon points="119 213.2 115.4 213.9 117.7 211.8 121.3 211.2" fill="#137ed7"/>
<polygon points="89.4 225.9 85.9 226.1 88.2 224.1 91.8 223.8" fill="#066ee0"/>
<polygon points="216.8 145.8 213.2 149.3 215.5 147.3 219.1 143.8" fill="#6abe83"/>
<polygon points="124.9 210.4 121.3 211.2 123.6 209.1 127.2 208.3" fill="#1482d5"/>
<polygon points="83.5 228.1 79.9 228.3 82.3 226.3 85.9 226.1" fill="#036be0"/>
<polygon points="255.6 103.6 252 109.4 254.3 107.4 257.9 101.6" fill="#ebb94d"/>
<polygon points="188.6 170.3 185 172.7 187.3 170.6 190.9 168.2" fill="#19b2b2"/>
<polygon points="247.4 113.4 243.8 118.7 246.1 116.7 249.7 111.4" fill="#d1bb59"/>
<polygon points="168.5 185 164.9 186.7 167.2 184.6 170.8 182.9" fill="#06a6c7"/>
<polygon points="77.6 230.4 74 230.5 76.4 228.4 79.9 228.3" fill="#0268e1"/>
<polygon points="130.8 207.5 127.2 208.3 129.5 206.3 133.1 205.4" fill="#1486d3"/>
<polygon points="239.2 122.7 235.6 127.5 237.9 125.4 241.5 120.7" fill="#b8bd63"/>
<polygon points="71.7 232.5 68.1 232.5 70.5 230.5 74 230.5" fill="#0364e1"/>
<polygon points="136.7 204.4 133.1 205.4 135.4 203.4 139 202.4" fill="#128bd2"/>
<polygon points="65.8 234.6 62.2 234.6 64.5 232.5 68.1 232.5" fill="#0761e0"/>
<polygon points="142.6 201.3 139 202.4 141.3 200.3 144.9 199.2" fill="#0e91d2"/>
<polygon points="230.9 131.5 227.3 135.8 229.7 133.8 233.3 129.5" fill="#9fbe6d"/>
<polygon points="59.9 236.6 56.3 236.5 58.6 234.5 62.2 234.6" fill="#0e5cde"/>
<polygon points="174.4 181 170.8 182.9 173.2 180.8 176.7 178.9" fill="#07aac1"/>
<polygon points="208.6 153.4 205 156.6 207.3 154.5 210.9 151.4" fill="#50bc90"/>
<polygon points="194.5 165.7 190.9 168.2 193.2 166.2 196.8 163.6" fill="#27b6a8"/>
<polygon points="148.5 197.9 144.9 199.2 147.2 197.1 150.8 195.9" fill="#0a97d1"/>
<polygon points="154.4 194.5 150.8 195.9 153.1 193.8 156.7 192.4" fill="#079dcf"/>
<polygon points="222.7 139.9 219.1 143.8 221.4 141.7 225 137.9" fill="#85bf78"/>
<polygon points="180.3 176.8 176.7 178.9 179.1 176.9 182.6 174.7" fill="#0eaeba"/>
<polygon points="160.3 190.9 156.7 192.4 159 190.3 162.6 188.8" fill="#06a1cc"/>
<polygon points="200.4 160.7 196.8 163.6 199.1 161.5 202.7 158.7" fill="#3ab99d"/>
<polygon points="104.8 220.6 101.2 221.1 103.6 219 107.2 218.5" fill="#0f78db"/>
<polygon points="98.9 223.1 95.3 223.5 97.7 221.5 101.2 221.1" fill="#0c74dd"/>
<polygon points="110.7 218 107.2 218.5 109.5 216.5 113.1 215.9" fill="#117bd9"/>
<polygon points="93 225.6 89.4 225.9 91.8 223.8 95.3 223.5" fill="#0971de"/>
<polygon points="116.6 215.3 113.1 215.9 115.4 213.9 119 213.2" fill="#137ed7"/>
<polygon points="87.1 227.9 83.5 228.1 85.9 226.1 89.4 225.9" fill="#066edf"/>
<polygon points="214.5 147.9 210.9 151.4 213.2 149.3 216.8 145.8" fill="#6abe83"/>
<polygon points="122.5 212.5 119 213.2 121.3 211.2 124.9 210.4" fill="#1482d5"/>
<polygon points="81.2 230.2 77.6 230.4 79.9 228.3 83.5 228.1" fill="#036be0"/>
<polygon points="186.2 172.4 182.6 174.7 185 172.7 188.6 170.3" fill="#19b2b2"/>
<polygon points="253.3 105.6 249.7 111.4 252 109.4 255.6 103.6" fill="#ebb94d"/>
<polygon points="245.1 115.5 241.5 120.7 243.8 118.7 247.4 113.4" fill="#d1bb59"/>
<polygon points="166.2 187.1 162.6 188.8 164.9 186.7 168.5 185" fill="#06a6c7"/>
<polygon points="128.5 209.5 124.9 210.4 127.2 208.3 130.8 207.5" fill="#1486d3"/>
<polygon points="75.3 232.4 71.7 232.5 74 230.5 77.6 230.4" fill="#0268e1"/>
<polygon points="236.8 124.8 233.3 129.5 235.6 127.5 239.2 122.7" fill="#b8bd63"/>
<polygon points="259.6 98.6 257.9 101.6 260.2 99.6 262 96.5" fill="#fec238"/>
<polygon points="69.4 234.5 65.8 234.6 68.1 232.5 71.7 232.5" fill="#0265e1"/>
<polygon points="134.4 206.5 130.8 207.5 133.1 205.4 136.7 204.4" fill="#128bd2"/>
<polygon points="63.5 236.6 59.9 236.6 62.2 234.6 65.8 234.6" fill="#0661e0"/>
<polygon points="140.3 203.3 136.7 204.4 139 202.4 142.6 201.3" fill="#0e91d2"/>
<polygon points="228.6 133.6 225 137.9 227.3 135.8 230.9 131.5" fill="#9fbe6d"/>
<polygon points="172.1 183.1 168.5 185 170.8 182.9 174.4 181" fill="#07aac1"/>
<polygon points="206.3 155.5 202.7 158.7 205 156.6 208.6 153.4" fill="#50bc90"/>
<polygon points="192.1 167.7 188.6 170.3 190.9 168.2 194.5 165.7" fill="#28b6a8"/>
<polygon points="146.2 200 142.6 201.3 144.9 199.2 148.5 197.9" fill="#0a97d1"/>
<polygon points="152.1 196.5 148.5 197.9 150.8 195.9 154.4 194.5" fill="#079dcf"/>
<polygon points="220.4 142 216.8 145.8 219.1 143.8 222.7 139.9" fill="#85bf78"/>
<polygon points="178 178.9 174.4 181 176.7 178.9 180.3 176.8" fill="#0eaeba"/>
<polygon points="158 192.9 154.4 194.5 156.7 192.4 160.3 190.9" fill="#06a1cc"/>
<polygon points="198 162.8 194.5 165.7 196.8 163.6 200.4 160.7" fill="#3ab99d"/>
<polygon points="102.5 222.7 98.9 223.1 101.2 221.1 104.8 220.6" fill="#0f78db"/>
<polygon points="96.6 225.2 93 225.6 95.3 223.5 98.9 223.1" fill="#0c75dd"/>
<polygon points="108.4 220 104.8 220.6 107.2 218.5 110.7 218" fill="#117bd9"/>
<polygon points="90.7 227.6 87.1 227.9 89.4 225.9 93 225.6" fill="#0971de"/>
<polygon points="114.3 217.3 110.7 218 113.1 215.9 116.6 215.3" fill="#137ed7"/>
<polygon points="84.8 230 81.2 230.2 83.5 228.1 87.1 227.9" fill="#066edf"/>
<polygon points="212.2 149.9 208.6 153.4 210.9 151.4 214.5 147.9" fill="#6abe83"/>
<polygon points="120.2 214.5 116.6 215.3 119 213.2 122.5 212.5" fill="#1482d5"/>
<polygon points="78.9 232.2 75.3 232.4 77.6 230.4 81.2 230.2" fill="#036be0"/>
<polygon points="183.9 174.5 180.3 176.8 182.6 174.7 186.2 172.4" fill="#19b2b1"/>
<polygon points="251 107.6 247.4 113.4 249.7 111.4 253.3 105.6" fill="#ecb94d"/>
<polygon points="242.7 117.5 239.2 122.7 241.5 120.7 245.1 115.5" fill="#d2bb59"/>
<polygon points="163.9 189.1 160.3 190.9 162.6 188.8 166.2 187.1" fill="#06a6c7"/>
<polygon points="126.1 211.6 122.5 212.5 124.9 210.4 128.5 209.5" fill="#1487d3"/>
<polygon points="73 234.4 69.4 234.5 71.7 232.5 75.3 232.4" fill="#0268e1"/>
<polygon points="234.5 126.8 230.9 131.5 233.3 129.5 236.8 124.8" fill="#b8bd63"/>
<polygon points="257.2 100.7 255.6 103.6 257.9 101.6 259.6 98.6" fill="#ffc238"/>
<polygon points="67.1 236.6 63.5 236.6 65.8 234.6 69.4 234.5" fill="#0265e1"/>
<polygon points="132 208.6 128.5 209.5 130.8 207.5 134.4 206.5" fill="#128cd2"/>
<polygon points="137.9 205.4 134.4 206.5 136.7 204.4 140.3 203.3" fill="#0e91d2"/>
<polygon points="169.8 185.1 166.2 187.1 168.5 185 172.1 183.1" fill="#08aac1"/>
<polygon points="226.3 135.6 222.7 139.9 225 137.9 228.6 133.6" fill="#9fbe6d"/>
<polygon points="204 157.6 200.4 160.7 202.7 158.7 206.3 155.5" fill="#50bc90"/>
<polygon points="189.8 169.8 186.2 172.4 188.6 170.3 192.1 167.7" fill="#28b6a8"/>
<polygon points="143.9 202.1 140.3 203.3 142.6 201.3 146.2 200" fill="#0a97d1"/>
<polygon points="149.8 198.6 146.2 200 148.5 197.9 152.1 196.5" fill="#079dcf"/>
<polygon points="218.1 144 214.5 147.9 216.8 145.8 220.4 142" fill="#86bf78"/>
<polygon points="175.7 181 172.1 183.1 174.4 181 178 178.9" fill="#0eaeba"/>
<polygon points="155.7 195 152.1 196.5 154.4 194.5 158 192.9" fill="#06a2cc"/>
<polygon points="195.7 164.9 192.1 167.7 194.5 165.7 198 162.8" fill="#3ab99d"/>
<polygon points="100.2 224.7 96.6 225.2 98.9 223.1 102.5 222.7" fill="#0f78db"/>
<polygon points="94.3 227.2 90.7 227.6 93 225.6 96.6 225.2" fill="#0c75dc"/>
<polygon points="106.1 222.1 102.5 222.7 104.8 220.6 108.4 220" fill="#117bd9"/>
<polygon points="88.4 229.7 84.8 230 87.1 227.9 90.7 227.6" fill="#0972de"/>
<polygon points="112 219.4 108.4 220 110.7 218 114.3 217.3" fill="#137fd7"/>
<polygon points="82.5 232 78.9 232.2 81.2 230.2 84.8 230" fill="#066fdf"/>
<polygon points="209.9 152 206.3 155.5 208.6 153.4 212.2 149.9" fill="#6bbe83"/>
<polygon points="117.9 216.6 114.3 217.3 116.6 215.3 120.2 214.5" fill="#1482d5"/>
<polygon points="181.6 176.5 178 178.9 180.3 176.8 183.9 174.5" fill="#19b2b1"/>
<polygon points="76.6 234.3 73 234.4 75.3 232.4 78.9 232.2" fill="#036be0"/>
<polygon points="240.4 119.5 236.8 124.8 239.2 122.7 242.7 117.5" fill="#d2bb59"/>
<polygon points="248.7 109.7 245.1 115.5 247.4 113.4 251 107.6" fill="#ecb94c"/>
<polygon points="161.6 191.2 158 192.9 160.3 190.9 163.9 189.1" fill="#06a6c7"/>
<polygon points="123.8 213.7 120.2 214.5 122.5 212.5 126.1 211.6" fill="#1487d3"/>
<polygon points="70.7 236.5 67.1 236.6 69.4 234.5 73 234.4" fill="#0268e1"/>
<polygon points="232.2 128.9 228.6 133.6 230.9 131.5 234.5 126.8" fill="#b9bd63"/>
<polygon points="129.7 210.6 126.1 211.6 128.5 209.5 132 208.6" fill="#128cd2"/>
<polygon points="254.8 102.8 253.3 105.6 255.6 103.6 257.2 100.7" fill="#ffc338"/>
<polygon points="135.6 207.5 132 208.6 134.4 206.5 137.9 205.4" fill="#0e91d2"/>
<polygon points="167.5 187.2 163.9 189.1 166.2 187.1 169.8 185.1" fill="#08aac1"/>
<polygon points="224 137.7 220.4 142 222.7 139.9 226.3 135.6" fill="#a0be6d"/>
<polygon points="201.6 159.6 198 162.8 200.4 160.7 204 157.6" fill="#51bc90"/>
<polygon points="187.5 171.9 183.9 174.5 186.2 172.4 189.8 169.8" fill="#28b6a8"/>
<polygon points="141.5 204.2 137.9 205.4 140.3 203.3 143.9 202.1" fill="#0997d1"/>
<polygon points="147.4 200.7 143.9 202.1 146.2 200 149.8 198.6" fill="#079dcf"/>
<polygon points="215.8 146.1 212.2 149.9 214.5 147.9 218.1 144" fill="#86bf77"/>
<polygon points="173.4 183 169.8 185.1 172.1 183.1 175.7 181" fill="#0eaeba"/>
<polygon points="153.3 197.1 149.8 198.6 152.1 196.5 155.7 195" fill="#06a2cc"/>
<polygon points="193.4 167 189.8 169.8 192.1 167.7 195.7 164.9" fill="#3ab99c"/>
<polygon points="97.9 226.8 94.3 227.2 96.6 225.2 100.2 224.7" fill="#0f78db"/>
<polygon points="92 229.3 88.4 229.7 90.7 227.6 94.3 227.2" fill="#0d75dc"/>
<polygon points="103.8 224.2 100.2 224.7 102.5 222.7 106.1 222.1" fill="#127bd9"/>
<polygon points="86.1 231.7 82.5 232 84.8 230 88.4 229.7" fill="#0972de"/>
<polygon points="109.7 221.5 106.1 222.1 108.4 220 112 219.4" fill="#137fd7"/>
<polygon points="80.2 234 76.6 234.3 78.9 232.2 82.5 232" fill="#066fdf"/>
<polygon points="207.5 154.1 204 157.6 206.3 155.5 209.9 152" fill="#6bbe83"/>
<polygon points="115.6 218.7 112 219.4 114.3 217.3 117.9 216.6" fill="#1482d5"/>
<polygon points="179.3 178.6 175.7 181 178 178.9 181.6 176.5" fill="#19b2b1"/>
<polygon points="74.3 236.3 70.7 236.5 73 234.4 76.6 234.3" fill="#046ce0"/>
<polygon points="238.1 121.6 234.5 126.8 236.8 124.8 240.4 119.5" fill="#d2bb59"/>
<polygon points="246.3 111.7 242.7 117.5 245.1 115.5 248.7 109.7" fill="#ecb94c"/>
<polygon points="159.2 193.3 155.7 195 158 192.9 161.6 191.2" fill="#06a6c7"/>
<polygon points="121.5 215.7 117.9 216.6 120.2 214.5 123.8 213.7" fill="#1487d3"/>
<polygon points="229.9 130.9 226.3 135.6 228.6 133.6 232.2 128.9" fill="#b9bd63"/>
<polygon points="127.4 212.7 123.8 213.7 126.1 211.6 129.7 210.6" fill="#128cd2"/>
<polygon points="252.5 104.9 251 107.6 253.3 105.6 254.8 102.8" fill="#ffc337"/>
<polygon points="133.3 209.5 129.7 210.6 132 208.6 135.6 207.5" fill="#0e91d2"/>
<polygon points="165.2 189.3 161.6 191.2 163.9 189.1 167.5 187.2" fill="#08aac1"/>
<polygon points="221.7 139.8 218.1 144 220.4 142 224 137.7" fill="#a0be6d"/>
<polygon points="199.3 161.7 195.7 164.9 198 162.8 201.6 159.6" fill="#51bc90"/>
<polygon points="185.2 174 181.6 176.5 183.9 174.5 187.5 171.9" fill="#28b6a8"/>
<polygon points="139.2 206.2 135.6 207.5 137.9 205.4 141.5 204.2" fill="#0997d1"/>
<polygon points="145.1 202.8 141.5 204.2 143.9 202.1 147.4 200.7" fill="#079dcf"/>
<polygon points="213.4 148.2 209.9 152 212.2 149.9 215.8 146.1" fill="#86bf77"/>
<polygon points="171.1 185.1 167.5 187.2 169.8 185.1 173.4 183" fill="#0eaeba"/>
<polygon points="151 199.2 147.4 200.7 149.8 198.6 153.3 197.1" fill="#06a2cc"/>
<polygon points="191.1 169 187.5 171.9 189.8 169.8 193.4 167" fill="#3ab99c"/>
<polygon points="95.6 228.8 92 229.3 94.3 227.2 97.9 226.8" fill="#0f78db"/>
<polygon points="89.7 231.3 86.1 231.7 88.4 229.7 92 229.3" fill="#0d75dc"/>
<polygon points="101.5 226.2 97.9 226.8 100.2 224.7 103.8 224.2" fill="#127bd9"/>
<polygon points="83.8 233.8 80.2 234 82.5 232 86.1 231.7" fill="#0972de"/>
<polygon points="107.4 223.5 103.8 224.2 106.1 222.1 109.7 221.5" fill="#137fd7"/>
<polygon points="205.2 156.2 201.6 159.6 204 157.6 207.5 154.1" fill="#6bbe83"/>
<polygon points="77.9 236.1 74.3 236.3 76.6 234.3 80.2 234" fill="#066fdf"/>
<polygon points="113.3 220.7 109.7 221.5 112 219.4 115.6 218.7" fill="#1483d5"/>
<polygon points="177 180.7 173.4 183 175.7 181 179.3 178.6" fill="#1ab2b1"/>
<polygon points="156.9 195.4 153.3 197.1 155.7 195 159.2 193.3" fill="#06a6c7"/>
<polygon points="235.8 123.6 232.2 128.9 234.5 126.8 238.1 121.6" fill="#d2bb58"/>
<polygon points="244 113.7 240.4 119.5 242.7 117.5 246.3 111.7" fill="#edb94c"/>
<polygon points="119.2 217.8 115.6 218.7 117.9 216.6 121.5 215.7" fill="#1487d3"/>
<polygon points="227.6 133 224 137.7 226.3 135.6 229.9 130.9" fill="#b9bd63"/>
<polygon points="125.1 214.8 121.5 215.7 123.8 213.7 127.4 212.7" fill="#128cd2"/>
<polygon points="250.1 107 248.7 109.7 251 107.6 252.5 104.9" fill="#ffc337"/>
<polygon points="131 211.6 127.4 212.7 129.7 210.6 133.3 209.5" fill="#0e91d2"/>
<polygon points="162.8 191.4 159.2 193.3 161.6 191.2 165.2 189.3" fill="#08aac1"/>
<polygon points="219.3 141.8 215.8 146.1 218.1 144 221.7 139.8" fill="#a0be6d"/>
<polygon points="197 163.8 193.4 167 195.7 164.9 199.3 161.7" fill="#51bc90"/>
<polygon points="182.9 176.1 179.3 178.6 181.6 176.5 185.2 174" fill="#28b6a8"/>
<polygon points="136.9 208.3 133.3 209.5 135.6 207.5 139.2 206.2" fill="#0997d1"/>
<polygon points="142.8 204.9 139.2 206.2 141.5 204.2 145.1 202.8" fill="#079dcf"/>
<polygon points="211.1 150.3 207.5 154.1 209.9 152 213.4 148.2" fill="#86bf77"/>
<polygon points="168.7 187.2 165.2 189.3 167.5 187.2 171.1 185.1" fill="#0eaeba"/>
<polygon points="148.7 201.3 145.1 202.8 147.4 200.7 151 199.2" fill="#06a2cc"/>
<polygon points="188.8 171.1 185.2 174 187.5 171.9 191.1 169" fill="#3ab99c"/>
<polygon points="93.2 230.9 89.7 231.3 92 229.3 95.6 228.8" fill="#0f78db"/>
<polygon points="87.3 233.4 83.8 233.8 86.1 231.7 89.7 231.3" fill="#0d75dc"/>
<polygon points="99.2 228.3 95.6 228.8 97.9 226.8 101.5 226.2" fill="#127bd9"/>
<polygon points="81.4 235.8 77.9 236.1 80.2 234 83.8 233.8" fill="#0972de"/>
<polygon points="105.1 225.6 101.5 226.2 103.8 224.2 107.4 223.5" fill="#137fd7"/>
<polygon points="202.9 158.3 199.3 161.7 201.6 159.6 205.2 156.2" fill="#6bbf83"/>
<polygon points="111 222.8 107.4 223.5 109.7 221.5 113.3 220.7" fill="#1483d5"/>
<polygon points="174.6 182.8 171.1 185.1 173.4 183 177 180.7" fill="#1ab2b1"/>
<polygon points="154.6 197.5 151 199.2 153.3 197.1 156.9 195.4" fill="#06a6c7"/>
<polygon points="233.5 125.7 229.9 130.9 232.2 128.9 235.8 123.6" fill="#d3bb58"/>
<polygon points="241.7 115.8 238.1 121.6 240.4 119.5 244 113.7" fill="#edb94c"/>
<polygon points="116.9 219.9 113.3 220.7 115.6 218.7 119.2 217.8" fill="#1487d3"/>
<polygon points="225.3 135.1 221.7 139.8 224 137.7 227.6 133" fill="#b9bd63"/>
<polygon points="122.8 216.9 119.2 217.8 121.5 215.7 125.1 214.8" fill="#128cd2"/>
<polygon points="247.8 109.1 246.3 111.7 248.7 109.7 250.1 107" fill="#ffc337"/>
<polygon points="128.7 213.7 125.1 214.8 127.4 212.7 131 211.6" fill="#0e92d2"/>
<polygon points="160.5 193.5 156.9 195.4 159.2 193.3 162.8 191.4" fill="#08aac1"/>
<polygon points="217 143.9 213.4 148.2 215.8 146.1 219.3 141.8" fill="#a0be6d"/>
<polygon points="194.7 165.9 191.1 169 193.4 167 197 163.8" fill="#51bc90"/>
<polygon points="180.6 178.2 177 180.7 179.3 178.6 182.9 176.1" fill="#28b6a7"/>
<polygon points="134.6 210.4 131 211.6 133.3 209.5 136.9 208.3" fill="#0997d1"/>
<polygon points="140.5 207 136.9 208.3 139.2 206.2 142.8 204.9" fill="#079dcf"/>
<polygon points="208.8 152.3 205.2 156.2 207.5 154.1 211.1 150.3" fill="#86bf77"/>
<polygon points="166.4 189.3 162.8 191.4 165.2 189.3 168.7 187.2" fill="#0eaeba"/>
<polygon points="146.4 203.4 142.8 204.9 145.1 202.8 148.7 201.3" fill="#06a2cc"/>
<polygon points="186.5 173.2 182.9 176.1 185.2 174 188.8 171.1" fill="#3ab99c"/>
<polygon points="90.9 233 87.3 233.4 89.7 231.3 93.2 230.9" fill="#1078da"/>
<polygon points="85 235.5 81.4 235.8 83.8 233.8 87.3 233.4" fill="#0d75dc"/>
<polygon points="96.8 230.4 93.2 230.9 95.6 228.8 99.2 228.3" fill="#127bd9"/>
<polygon points="102.7 227.7 99.2 228.3 101.5 226.2 105.1 225.6" fill="#137fd7"/>
<polygon points="200.6 160.4 197 163.8 199.3 161.7 202.9 158.3" fill="#6bbf83"/>
<polygon points="108.6 224.9 105.1 225.6 107.4 223.5 111 222.8" fill="#1483d5"/>
<polygon points="172.3 184.9 168.7 187.2 171.1 185.1 174.6 182.8" fill="#1ab2b1"/>
<polygon points="152.3 199.6 148.7 201.3 151 199.2 154.6 197.5" fill="#06a6c7"/>
<polygon points="231.2 127.8 227.6 133 229.9 130.9 233.5 125.7" fill="#d3bb58"/>
<polygon points="114.6 222 111 222.8 113.3 220.7 116.9 219.9" fill="#1487d3"/>
<polygon points="239.4 117.8 235.8 123.6 238.1 121.6 241.7 115.8" fill="#edb94c"/>
<polygon points="222.9 137.1 219.3 141.8 221.7 139.8 225.3 135.1" fill="#b9bd63"/>
<polygon points="120.5 218.9 116.9 219.9 119.2 217.8 122.8 216.9" fill="#128cd2"/>
<polygon points="245.4 111.2 244 113.7 246.3 111.7 247.8 109.1" fill="#ffc337"/>
<polygon points="126.4 215.8 122.8 216.9 125.1 214.8 128.7 213.7" fill="#0e92d2"/>
<polygon points="158.2 195.6 154.6 197.5 156.9 195.4 160.5 193.5" fill="#08aac1"/>
<polygon points="214.7 146 211.1 150.3 213.4 148.2 217 143.9" fill="#a0be6d"/>
<polygon points="192.4 168 188.8 171.1 191.1 169 194.7 165.9" fill="#51bd90"/>
<polygon points="178.2 180.3 174.6 182.8 177 180.7 180.6 178.2" fill="#28b6a7"/>
<polygon points="132.3 212.5 128.7 213.7 131 211.6 134.6 210.4" fill="#0997d1"/>
<polygon points="138.2 209.1 134.6 210.4 136.9 208.3 140.5 207" fill="#079dcf"/>
<polygon points="206.5 154.4 202.9 158.3 205.2 156.2 208.8 152.3" fill="#86bf77"/>
<polygon points="164.1 191.4 160.5 193.5 162.8 191.4 166.4 189.3" fill="#0eaeba"/>
<polygon points="144.1 205.5 140.5 207 142.8 204.9 146.4 203.4" fill="#06a2cc"/>
<polygon points="184.1 175.3 180.6 178.2 182.9 176.1 186.5 173.2" fill="#3ab99c"/>
<polygon points="88.6 235 85 235.5 87.3 233.4 90.9 233" fill="#1078da"/>
<polygon points="94.5 232.4 90.9 233 93.2 230.9 96.8 230.4" fill="#127cd9"/>
<polygon points="100.4 229.7 96.8 230.4 99.2 228.3 102.7 227.7" fill="#137fd7"/>
<polygon points="198.3 162.5 194.7 165.9 197 163.8 200.6 160.4" fill="#6bbf83"/>
<polygon points="170 187 166.4 189.3 168.7 187.2 172.3 184.9" fill="#1ab2b1"/>
<polygon points="106.3 227 102.7 227.7 105.1 225.6 108.6 224.9" fill="#1483d5"/>
<polygon points="150 201.7 146.4 203.4 148.7 201.3 152.3 199.6" fill="#06a6c7"/>
<polygon points="228.8 129.9 225.3 135.1 227.6 133 231.2 127.8" fill="#d3bb58"/>
<polygon points="112.2 224.1 108.6 224.9 111 222.8 114.6 222" fill="#1487d3"/>
<polygon points="237.1 119.9 233.5 125.7 235.8 123.6 239.4 117.8" fill="#edb94c"/>
<polygon points="220.6 139.2 217 143.9 219.3 141.8 222.9 137.1" fill="#babd63"/>
<polygon points="118.1 221 114.6 222 116.9 219.9 120.5 218.9" fill="#118cd2"/>
<polygon points="243.1 113.3 241.7 115.8 244 113.7 245.4 111.2" fill="#ffc437"/>
<polygon points="124 217.9 120.5 218.9 122.8 216.9 126.4 215.8" fill="#0e92d2"/>
<polygon points="155.9 197.7 152.3 199.6 154.6 197.5 158.2 195.6" fill="#08aac1"/>
<polygon points="212.4 148.1 208.8 152.3 211.1 150.3 214.7 146" fill="#a0be6d"/>
<polygon points="190 170.1 186.5 173.2 188.8 171.1 192.4 168" fill="#51bd90"/>
<polygon points="175.9 182.4 172.3 184.9 174.6 182.8 178.2 180.3" fill="#28b6a7"/>
<polygon points="129.9 214.6 126.4 215.8 128.7 213.7 132.3 212.5" fill="#0998d1"/>
<polygon points="135.9 211.2 132.3 212.5 134.6 210.4 138.2 209.1" fill="#079dcf"/>
<polygon points="204.2 156.5 200.6 160.4 202.9 158.3 206.5 154.4" fill="#86bf77"/>
<polygon points="161.8 193.5 158.2 195.6 160.5 193.5 164.1 191.4" fill="#0eaeba"/>
<polygon points="141.8 207.6 138.2 209.1 140.5 207 144.1 205.5" fill="#06a2cc"/>
<polygon points="181.8 177.4 178.2 180.3 180.6 178.2 184.1 175.3" fill="#3bb99c"/>
<polygon points="92.2 234.5 88.6 235 90.9 233 94.5 232.4" fill="#127cd8"/>
<polygon points="98.1 231.8 94.5 232.4 96.8 230.4 100.4 229.7" fill="#137fd7"/>
<polygon points="196 164.6 192.4 168 194.7 165.9 198.3 162.5" fill="#6bbf83"/>
<polygon points="167.7 189.1 164.1 191.4 166.4 189.3 170 187" fill="#1ab2b1"/>
<polygon points="104 229 100.4 229.7 102.7 227.7 106.3 227" fill="#1483d5"/>
<polygon points="147.7 203.8 144.1 205.5 146.4 203.4 150 201.7" fill="#06a6c7"/>
<polygon points="226.5 131.9 222.9 137.1 225.3 135.1 228.8 129.9" fill="#d3bb58"/>
<polygon points="109.9 226.1 106.3 227 108.6 224.9 112.2 224.1" fill="#1487d3"/>
<polygon points="234.7 122 231.2 127.8 233.5 125.7 237.1 119.9" fill="#edb94c"/>
<polygon points="218.3 141.3 214.7 146 217 143.9 220.6 139.2" fill="#babd63"/>
<polygon points="115.8 223.1 112.2 224.1 114.6 222 118.1 221" fill="#118cd2"/>
<polygon points="240.7 115.4 239.4 117.8 241.7 115.8 243.1 113.3" fill="#ffc437"/>
<polygon points="121.7 220 118.1 221 120.5 218.9 124 217.9" fill="#0e92d2"/>
<polygon points="153.6 199.8 150 201.7 152.3 199.6 155.9 197.7" fill="#08aac1"/>
<polygon points="210.1 150.2 206.5 154.4 208.8 152.3 212.4 148.1" fill="#a0be6d"/>
<polygon points="187.7 172.2 184.1 175.3 186.5 173.2 190 170.1" fill="#51bd90"/>
<polygon points="173.6 184.5 170 187 172.3 184.9 175.9 182.4" fill="#28b6a7"/>
<polygon points="127.6 216.7 124 217.9 126.4 215.8 129.9 214.6" fill="#0998d1"/>
<polygon points="133.5 213.3 129.9 214.6 132.3 212.5 135.9 211.2" fill="#079dcf"/>
<polygon points="201.9 158.6 198.3 162.5 200.6 160.4 204.2 156.5" fill="#86bf77"/>
<polygon points="159.5 195.6 155.9 197.7 158.2 195.6 161.8 193.5" fill="#0eaeba"/>
<polygon points="139.4 209.7 135.9 211.2 138.2 209.1 141.8 207.6" fill="#06a2cc"/>
<polygon points="179.5 179.6 175.9 182.4 178.2 180.3 181.8 177.4" fill="#3bb99c"/>
<polygon points="95.8 233.9 92.2 234.5 94.5 232.4 98.1 231.8" fill="#137fd7"/>
<polygon points="193.6 166.7 190 170.1 192.4 168 196 164.6" fill="#6bbf83"/>
<polygon points="165.4 191.2 161.8 193.5 164.1 191.4 167.7 189.1" fill="#1ab2b1"/>
<polygon points="101.7 231.1 98.1 231.8 100.4 229.7 104 229" fill="#1483d5"/>
<polygon points="145.3 205.9 141.8 207.6 144.1 205.5 147.7 203.8" fill="#06a6c7"/>
<polygon points="224.2 134 220.6 139.2 222.9 137.1 226.5 131.9" fill="#d3bb58"/>
<polygon points="107.6 228.2 104 229 106.3 227 109.9 226.1" fill="#1487d3"/>
<polygon points="232.4 124.1 228.8 129.9 231.2 127.8 234.7 122" fill="#eeb94c"/>
<polygon points="216 143.4 212.4 148.1 214.7 146 218.3 141.3" fill="#babd63"/>
<polygon points="113.5 225.2 109.9 226.1 112.2 224.1 115.8 223.1" fill="#118cd2"/>
<polygon points="238.4 117.5 237.1 119.9 239.4 117.8 240.7 115.4" fill="#ffc437"/>
<polygon points="119.4 222.1 115.8 223.1 118.1 221 121.7 220" fill="#0e92d2"/>
<polygon points="151.3 201.9 147.7 203.8 150 201.7 153.6 199.8" fill="#08aac1"/>
<polygon points="207.8 152.3 204.2 156.5 206.5 154.4 210.1 150.2" fill="#a0be6d"/>
<polygon points="185.4 174.3 181.8 177.4 184.1 175.3 187.7 172.2" fill="#51bd90"/>
<polygon points="171.3 186.6 167.7 189.1 170 187 173.6 184.5" fill="#28b6a7"/>
<polygon points="125.3 218.8 121.7 220 124 217.9 127.6 216.7" fill="#0998d1"/>
<polygon points="131.2 215.4 127.6 216.7 129.9 214.6 133.5 213.3" fill="#079dcf"/>
<polygon points="199.5 160.8 196 164.6 198.3 162.5 201.9 158.6" fill="#87bf77"/>
<polygon points="157.2 197.8 153.6 199.8 155.9 197.7 159.5 195.6" fill="#0eaeba"/>
<polygon points="137.1 211.8 133.5 213.3 135.9 211.2 139.4 209.7" fill="#06a2cc"/>
<polygon points="177.2 181.7 173.6 184.5 175.9 182.4 179.5 179.6" fill="#3ab99c"/>
<polygon points="191.3 168.8 187.7 172.2 190 170.1 193.6 166.7" fill="#6bbf83"/>
<polygon points="163.1 193.4 159.5 195.6 161.8 193.5 165.4 191.2" fill="#1ab2b1"/>
<polygon points="99.4 233.2 95.8 233.9 98.1 231.8 101.7 231.1" fill="#1483d5"/>
<polygon points="143 208 139.4 209.7 141.8 207.6 145.3 205.9" fill="#06a6c7"/>
<polygon points="221.9 136.1 218.3 141.3 220.6 139.2 224.2 134" fill="#d3bb58"/>
<polygon points="105.3 230.3 101.7 231.1 104 229 107.6 228.2" fill="#1487d3"/>
<polygon points="230.1 126.2 226.5 131.9 228.8 129.9 232.4 124.1" fill="#eeb94c"/>
<polygon points="213.7 145.5 210.1 150.2 212.4 148.1 216 143.4" fill="#babd63"/>
<polygon points="111.2 227.3 107.6 228.2 109.9 226.1 113.5 225.2" fill="#118cd2"/>
<polygon points="236.1 119.6 234.7 122 237.1 119.9 238.4 117.5" fill="#ffc436"/>
<polygon points="117.1 224.2 113.5 225.2 115.8 223.1 119.4 222.1" fill="#0d92d2"/>
<polygon points="148.9 204 145.3 205.9 147.7 203.8 151.3 201.9" fill="#08aac1"/>
<polygon points="205.4 154.4 201.9 158.6 204.2 156.5 207.8 152.3" fill="#a0be6d"/>
<polygon points="183.1 176.5 179.5 179.6 181.8 177.4 185.4 174.3" fill="#51bd90"/>
<polygon points="169 188.7 165.4 191.2 167.7 189.1 171.3 186.6" fill="#28b6a7"/>
<polygon points="123 220.9 119.4 222.1 121.7 220 125.3 218.8" fill="#0998d1"/>
<polygon points="128.9 217.5 125.3 218.8 127.6 216.7 131.2 215.4" fill="#079dcf"/>
<polygon points="197.2 162.9 193.6 166.7 196 164.6 199.5 160.8" fill="#86bf77"/>
<polygon points="154.8 199.9 151.3 201.9 153.6 199.8 157.2 197.8" fill="#0eaeba"/>
<polygon points="134.8 213.9 131.2 215.4 133.5 213.3 137.1 211.8" fill="#06a2cc"/>
<polygon points="174.9 183.8 171.3 186.6 173.6 184.5 177.2 181.7" fill="#3ab99c"/>
<polygon points="189 170.9 185.4 174.3 187.7 172.2 191.3 168.8" fill="#6bbf83"/>
<polygon points="160.7 195.5 157.2 197.8 159.5 195.6 163.1 193.4" fill="#1ab2b1"/>
<polygon points="140.7 210.1 137.1 211.8 139.4 209.7 143 208" fill="#06a6c7"/>
<polygon points="219.6 138.2 216 143.4 218.3 141.3 221.9 136.1" fill="#d3bb58"/>
<polygon points="103 232.4 99.4 233.2 101.7 231.1 105.3 230.3" fill="#1487d3"/>
<polygon points="227.8 128.3 224.2 134 226.5 131.9 230.1 126.2" fill="#eeb94b"/>
<polygon points="211.3 147.7 207.8 152.3 210.1 150.2 213.7 145.5" fill="#babd63"/>
<polygon points="108.9 229.4 105.3 230.3 107.6 228.2 111.2 227.3" fill="#118cd2"/>
<polygon points="233.7 121.7 232.4 124.1 234.7 122 236.1 119.6" fill="#ffc436"/>
<polygon points="114.8 226.3 111.2 227.3 113.5 225.2 117.1 224.2" fill="#0d92d2"/>
<polygon points="146.6 206.2 143 208 145.3 205.9 148.9 204" fill="#08aac1"/>
<polygon points="203.1 156.6 199.5 160.8 201.9 158.6 205.4 154.4" fill="#a0be6d"/>
<polygon points="180.8 178.6 177.2 181.7 179.5 179.6 183.1 176.5" fill="#51bd90"/>
<polygon points="166.6 190.8 163.1 193.4 165.4 191.2 169 188.7" fill="#28b6a7"/>
<polygon points="120.7 223 117.1 224.2 119.4 222.1 123 220.9" fill="#0998d1"/>
<polygon points="126.6 219.6 123 220.9 125.3 218.8 128.9 217.5" fill="#079dcf"/>
<polygon points="194.9 165 191.3 168.8 193.6 166.7 197.2 162.9" fill="#86bf77"/>
<polygon points="152.5 202 148.9 204 151.3 201.9 154.8 199.9" fill="#0eaeba"/>
<polygon points="132.5 216 128.9 217.5 131.2 215.4 134.8 213.9" fill="#06a2cc"/>
<polygon points="172.6 185.9 169 188.7 171.3 186.6 174.9 183.8" fill="#3ab99c"/>
<polygon points="186.7 173 183.1 176.5 185.4 174.3 189 170.9" fill="#6bbf83"/>
<polygon points="158.4 197.6 154.8 199.9 157.2 197.8 160.7 195.5" fill="#1ab2b1"/>
<polygon points="138.4 212.2 134.8 213.9 137.1 211.8 140.7 210.1" fill="#06a6c7"/>
<polygon points="217.3 140.4 213.7 145.5 216 143.4 219.6 138.2" fill="#d3bb58"/>
<polygon points="225.5 130.4 221.9 136.1 224.2 134 227.8 128.3" fill="#eeb94b"/>
<polygon points="209 149.8 205.4 154.4 207.8 152.3 211.3 147.7" fill="#babd63"/>
<polygon points="106.6 231.5 103 232.4 105.3 230.3 108.9 229.4" fill="#118cd2"/>
<polygon points="231.4 123.9 230.1 126.2 232.4 124.1 233.7 121.7" fill="#ffc436"/>
<polygon points="112.5 228.4 108.9 229.4 111.2 227.3 114.8 226.3" fill="#0d92d2"/>
<polygon points="144.3 208.3 140.7 210.1 143 208 146.6 206.2" fill="#08aac1"/>
<polygon points="200.8 158.7 197.2 162.9 199.5 160.8 203.1 156.6" fill="#a0be6d"/>
<polygon points="178.5 180.7 174.9 183.8 177.2 181.7 180.8 178.6" fill="#51bc90"/>
<polygon points="164.3 193 160.7 195.5 163.1 193.4 166.6 190.8" fill="#28b6a7"/>
<polygon points="118.4 225.1 114.8 226.3 117.1 224.2 120.7 223" fill="#0998d1"/>
<polygon points="124.3 221.7 120.7 223 123 220.9 126.6 219.6" fill="#079dcf"/>
<polygon points="192.6 167.1 189 170.9 191.3 168.8 194.9 165" fill="#86bf77"/>
<polygon points="150.2 204.1 146.6 206.2 148.9 204 152.5 202" fill="#0eaeba"/>
<polygon points="130.2 218.1 126.6 219.6 128.9 217.5 132.5 216" fill="#06a2cc"/>
<polygon points="170.2 188.1 166.6 190.8 169 188.7 172.6 185.9" fill="#3ab99c"/>
<polygon points="184.4 175.2 180.8 178.6 183.1 176.5 186.7 173" fill="#6bbf83"/>
<polygon points="156.1 199.7 152.5 202 154.8 199.9 158.4 197.6" fill="#1ab2b1"/>
<polygon points="136.1 214.3 132.5 216 134.8 213.9 138.4 212.2" fill="#06a6c7"/>
<polygon points="214.9 142.5 211.3 147.7 213.7 145.5 217.3 140.4" fill="#d3bb58"/>
<polygon points="223.2 132.5 219.6 138.2 221.9 136.1 225.5 130.4" fill="#eeb94b"/>
<polygon points="206.7 151.9 203.1 156.6 205.4 154.4 209 149.8" fill="#babd63"/>
<polygon points="229.1 126 227.8 128.3 230.1 126.2 231.4 123.9" fill="#ffc436"/>
<polygon points="110.1 230.5 106.6 231.5 108.9 229.4 112.5 228.4" fill="#0d92d2"/>
<polygon points="142 210.4 138.4 212.2 140.7 210.1 144.3 208.3" fill="#08aac1"/>
<polygon points="198.5 160.8 194.9 165 197.2 162.9 200.8 158.7" fill="#a0be6d"/>
<polygon points="176.1 182.9 172.6 185.9 174.9 183.8 178.5 180.7" fill="#51bc90"/>
<polygon points="162 195.1 158.4 197.6 160.7 195.5 164.3 193" fill="#28b6a8"/>
<polygon points="116 227.2 112.5 228.4 114.8 226.3 118.4 225.1" fill="#0998d1"/>
<polygon points="190.3 169.3 186.7 173 189 170.9 192.6 167.1" fill="#86bf77"/>
<polygon points="121.9 223.8 118.4 225.1 120.7 223 124.3 221.7" fill="#079dcf"/>
<polygon points="147.9 206.3 144.3 208.3 146.6 206.2 150.2 204.1" fill="#0eaeba"/>
<polygon points="127.9 220.2 124.3 221.7 126.6 219.6 130.2 218.1" fill="#06a2cc"/>
<polygon points="167.9 190.2 164.3 193 166.6 190.8 170.2 188.1" fill="#3ab99c"/>
<polygon points="182 177.3 178.5 180.7 180.8 178.6 184.4 175.2" fill="#6bbe83"/>
<polygon points="153.8 201.9 150.2 204.1 152.5 202 156.1 199.7" fill="#19b2b1"/>
<polygon points="133.8 216.5 130.2 218.1 132.5 216 136.1 214.3" fill="#06a6c7"/>
<polygon points="212.6 144.6 209 149.8 211.3 147.7 214.9 142.5" fill="#d3bb58"/>
<polygon points="220.8 134.6 217.3 140.4 219.6 138.2 223.2 132.5" fill="#eeb94b"/>
<polygon points="204.4 154 200.8 158.7 203.1 156.6 206.7 151.9" fill="#babd63"/>
<polygon points="226.8 128.1 225.5 130.4 227.8 128.3 229.1 126" fill="#ffc436"/>
<polygon points="139.7 212.5 136.1 214.3 138.4 212.2 142 210.4" fill="#08aac1"/>
<polygon points="196.2 163 192.6 167.1 194.9 165 198.5 160.8" fill="#a0be6d"/>
<polygon points="173.8 185 170.2 188.1 172.6 185.9 176.1 182.9" fill="#51bc90"/>
<polygon points="159.7 197.2 156.1 199.7 158.4 197.6 162 195.1" fill="#28b6a8"/>
<polygon points="113.7 229.3 110.1 230.5 112.5 228.4 116 227.2" fill="#0998d1"/>
<polygon points="187.9 171.4 184.4 175.2 186.7 173 190.3 169.3" fill="#86bf77"/>
<polygon points="119.6 225.9 116 227.2 118.4 225.1 121.9 223.8" fill="#079dcf"/>
<polygon points="145.6 208.4 142 210.4 144.3 208.3 147.9 206.3" fill="#0eaeba"/>
<polygon points="125.5 222.3 121.9 223.8 124.3 221.7 127.9 220.2" fill="#06a2cc"/>
<polygon points="165.6 192.4 162 195.1 164.3 193 167.9 190.2" fill="#3ab99c"/>
<polygon points="179.7 179.5 176.1 182.9 178.5 180.7 182 177.3" fill="#6bbe83"/>
<polygon points="151.5 204 147.9 206.3 150.2 204.1 153.8 201.9" fill="#19b2b1"/>
<polygon points="131.4 218.6 127.9 220.2 130.2 218.1 133.8 216.5" fill="#06a6c7"/>
<polygon points="210.3 146.8 206.7 151.9 209 149.8 212.6 144.6" fill="#d3bb58"/>
<polygon points="218.5 136.8 214.9 142.5 217.3 140.4 220.8 134.6" fill="#eeb94c"/>
<polygon points="202.1 156.2 198.5 160.8 200.8 158.7 204.4 154" fill="#b9bd63"/>
<polygon points="224.4 130.2 223.2 132.5 225.5 130.4 226.8 128.1" fill="#ffc436"/>
<polygon points="137.3 214.7 133.8 216.5 136.1 214.3 139.7 212.5" fill="#08aac1"/>
<polygon points="193.9 165.1 190.3 169.3 192.6 167.1 196.2 163" fill="#a0be6d"/>
<polygon points="171.5 187.2 167.9 190.2 170.2 188.1 173.8 185" fill="#50bc90"/>
<polygon points="157.4 199.4 153.8 201.9 156.1 199.7 159.7 197.2" fill="#28b6a8"/>
<polygon points="185.6 173.6 182 177.3 184.4 175.2 187.9 171.4" fill="#86bf77"/>
<polygon points="117.3 228 113.7 229.3 116 227.2 119.6 225.9" fill="#079dcf"/>
<polygon points="143.3 210.5 139.7 212.5 142 210.4 145.6 208.4" fill="#0eaeba"/>
<polygon points="123.2 224.5 119.6 225.9 121.9 223.8 125.5 222.3" fill="#06a2cc"/>
<polygon points="163.3 194.5 159.7 197.2 162 195.1 165.6 192.4" fill="#3ab99d"/>
<polygon points="177.4 181.6 173.8 185 176.1 182.9 179.7 179.5" fill="#6bbe83"/>
<polygon points="149.2 206.2 145.6 208.4 147.9 206.3 151.5 204" fill="#19b2b1"/>
<polygon points="129.1 220.7 125.5 222.3 127.9 220.2 131.4 218.6" fill="#06a6c7"/>
<polygon points="208 148.9 204.4 154 206.7 151.9 210.3 146.8" fill="#d3bb58"/>
<polygon points="216.2 138.9 212.6 144.6 214.9 142.5 218.5 136.8" fill="#edb94c"/>
<polygon points="199.8 158.3 196.2 163 198.5 160.8 202.1 156.2" fill="#b9bd63"/>
<polygon points="222.1 132.3 220.8 134.6 223.2 132.5 224.4 130.2" fill="#ffc436"/>
<polygon points="135 216.8 131.4 218.6 133.8 216.5 137.3 214.7" fill="#08aac1"/>
<polygon points="191.5 167.3 187.9 171.4 190.3 169.3 193.9 165.1" fill="#a0be6d"/>
<polygon points="169.2 189.3 165.6 192.4 167.9 190.2 171.5 187.2" fill="#50bc90"/>
<polygon points="155.1 201.5 151.5 204 153.8 201.9 157.4 199.4" fill="#28b6a8"/>
<polygon points="183.3 175.7 179.7 179.5 182 177.3 185.6 173.6" fill="#86bf77"/>
<polygon points="140.9 212.7 137.3 214.7 139.7 212.5 143.3 210.5" fill="#0eaeba"/>
<polygon points="120.9 226.6 117.3 228 119.6 225.9 123.2 224.5" fill="#06a2cc"/>
<polygon points="161 196.7 157.4 199.4 159.7 197.2 163.3 194.5" fill="#3ab99d"/>
<polygon points="175.1 183.8 171.5 187.2 173.8 185 177.4 181.6" fill="#6abe83"/>
<polygon points="146.8 208.3 143.3 210.5 145.6 208.4 149.2 206.2" fill="#19b2b1"/>
<polygon points="126.8 222.9 123.2 224.5 125.5 222.3 129.1 220.7" fill="#06a6c7"/>
<polygon points="205.7 151.1 202.1 156.2 204.4 154 208 148.9" fill="#d3bb58"/>
<polygon points="213.9 141 210.3 146.8 212.6 144.6 216.2 138.9" fill="#edb94c"/>
<polygon points="197.4 160.5 193.9 165.1 196.2 163 199.8 158.3" fill="#b9bd63"/>
<polygon points="219.8 134.4 218.5 136.8 220.8 134.6 222.1 132.3" fill="#ffc436"/>
<polygon points="132.7 218.9 129.1 220.7 131.4 218.6 135 216.8" fill="#08aac1"/>
<polygon points="189.2 169.4 185.6 173.6 187.9 171.4 191.5 167.3" fill="#a0be6d"/>
<polygon points="166.9 191.5 163.3 194.5 165.6 192.4 169.2 189.3" fill="#50bc90"/>
<polygon points="152.7 203.7 149.2 206.2 151.5 204 155.1 201.5" fill="#28b6a8"/>
<polygon points="181 177.9 177.4 181.6 179.7 179.5 183.3 175.7" fill="#85bf78"/>
<polygon points="138.6 214.8 135 216.8 137.3 214.7 140.9 212.7" fill="#0eaeba"/>
<polygon points="158.6 198.8 155.1 201.5 157.4 199.4 161 196.7" fill="#39b99d"/>
<polygon points="172.8 186 169.2 189.3 171.5 187.2 175.1 183.8" fill="#6abe83"/>
<polygon points="144.5 210.5 140.9 212.7 143.3 210.5 146.8 208.3" fill="#19b2b2"/>
<polygon points="124.5 225 120.9 226.6 123.2 224.5 126.8 222.9" fill="#06a6c7"/>
<polygon points="203.3 153.2 199.8 158.3 202.1 156.2 205.7 151.1" fill="#d3bb58"/>
<polygon points="211.6 143.2 208 148.9 210.3 146.8 213.9 141" fill="#edb94c"/>
<polygon points="195.1 162.7 191.5 167.3 193.9 165.1 197.4 160.5" fill="#b9bd63"/>
<polygon points="217.5 136.6 216.2 138.9 218.5 136.8 219.8 134.4" fill="#ffc437"/>
<polygon points="130.4 221.1 126.8 222.9 129.1 220.7 132.7 218.9" fill="#08aac1"/>
<polygon points="186.9 171.6 183.3 175.7 185.6 173.6 189.2 169.4" fill="#9fbe6d"/>
<polygon points="164.6 193.6 161 196.7 163.3 194.5 166.9 191.5" fill="#50bc90"/>
<polygon points="150.4 205.9 146.8 208.3 149.2 206.2 152.7 203.7" fill="#27b6a8"/>
<polygon points="178.7 180.1 175.1 183.8 177.4 181.6 181 177.9" fill="#85bf78"/>
<polygon points="136.3 217 132.7 218.9 135 216.8 138.6 214.8" fill="#0eaeba"/>
<polygon points="156.3 201 152.7 203.7 155.1 201.5 158.6 198.8" fill="#39b99d"/>
<polygon points="170.5 188.1 166.9 191.5 169.2 189.3 172.8 186" fill="#6abe83"/>
<polygon points="142.2 212.6 138.6 214.8 140.9 212.7 144.5 210.5" fill="#19b2b2"/>
<polygon points="201 155.4 197.4 160.5 199.8 158.3 203.3 153.2" fill="#d2bb59"/>
<polygon points="209.3 145.4 205.7 151.1 208 148.9 211.6 143.2" fill="#edb94c"/>
<polygon points="192.8 164.8 189.2 169.4 191.5 167.3 195.1 162.7" fill="#b9bd63"/>
<polygon points="215.2 138.7 213.9 141 216.2 138.9 217.5 136.6" fill="#ffc437"/>
<polygon points="184.6 173.8 181 177.9 183.3 175.7 186.9 171.6" fill="#9fbe6d"/>
<polygon points="128.1 223.2 124.5 225 126.8 222.9 130.4 221.1" fill="#07aac1"/>
<polygon points="162.2 195.8 158.6 198.8 161 196.7 164.6 193.6" fill="#4fbc90"/>
<polygon points="148.1 208 144.5 210.5 146.8 208.3 150.4 205.9" fill="#27b5a8"/>
<polygon points="176.4 182.2 172.8 186 175.1 183.8 178.7 180.1" fill="#85bf78"/>
<polygon points="134 219.1 130.4 221.1 132.7 218.9 136.3 217" fill="#0eaeba"/>
<polygon points="154 203.2 150.4 205.9 152.7 203.7 156.3 201" fill="#39b99d"/>
<polygon points="168.1 190.3 164.6 193.6 166.9 191.5 170.5 188.1" fill="#69be84"/>
<polygon points="139.9 214.8 136.3 217 138.6 214.8 142.2 212.6" fill="#19b2b2"/>
<polygon points="198.7 157.6 195.1 162.7 197.4 160.5 201 155.4" fill="#d2bb59"/>
<polygon points="206.9 147.5 203.3 153.2 205.7 151.1 209.3 145.4" fill="#edb94c"/>
<polygon points="190.5 167 186.9 171.6 189.2 169.4 192.8 164.8" fill="#b8bd63"/>
<polygon points="212.9 140.8 211.6 143.2 213.9 141 215.2 138.7" fill="#ffc437"/>
<polygon points="182.3 176 178.7 180.1 181 177.9 184.6 173.8" fill="#9fbe6d"/>
<polygon points="159.9 198 156.3 201 158.6 198.8 162.2 195.8" fill="#4fbc91"/>
<polygon points="145.8 210.2 142.2 212.6 144.5 210.5 148.1 208" fill="#27b5a8"/>
<polygon points="174 184.4 170.5 188.1 172.8 186 176.4 182.2" fill="#84bf78"/>
<polygon points="131.7 221.3 128.1 223.2 130.4 221.1 134 219.1" fill="#0eaeba"/>
<polygon points="151.7 205.3 148.1 208 150.4 205.9 154 203.2" fill="#39b99d"/>
<polygon points="165.8 192.5 162.2 195.8 164.6 193.6 168.1 190.3" fill="#69be84"/>
<polygon points="137.6 216.9 134 219.1 136.3 217 139.9 214.8" fill="#19b2b2"/>
<polygon points="196.4 159.8 192.8 164.8 195.1 162.7 198.7 157.6" fill="#d2bb59"/>
<polygon points="204.6 149.7 201 155.4 203.3 153.2 206.9 147.5" fill="#edb94c"/>
<polygon points="188.2 169.2 184.6 173.8 186.9 171.6 190.5 167" fill="#b8bd63"/>
<polygon points="210.6 142.9 209.3 145.4 211.6 143.2 212.9 140.8" fill="#ffc337"/>
<polygon points="180 178.1 176.4 182.2 178.7 180.1 182.3 176" fill="#9ebe6d"/>
<polygon points="157.6 200.2 154 203.2 156.3 201 159.9 198" fill="#4fbc91"/>
<polygon points="143.5 212.4 139.9 214.8 142.2 212.6 145.8 210.2" fill="#27b5a8"/>
<polygon points="171.7 186.6 168.1 190.3 170.5 188.1 174 184.4" fill="#84bf78"/>
<polygon points="149.4 207.5 145.8 210.2 148.1 208 151.7 205.3" fill="#38b99d"/>
<polygon points="163.5 194.7 159.9 198 162.2 195.8 165.8 192.5" fill="#69be84"/>
<polygon points="135.2 219.1 131.7 221.3 134 219.1 137.6 216.9" fill="#18b2b2"/>
<polygon points="194.1 162 190.5 167 192.8 164.8 196.4 159.8" fill="#d2bb59"/>
<polygon points="202.3 151.9 198.7 157.6 201 155.4 204.6 149.7" fill="#ecb94c"/>
<polygon points="185.9 171.4 182.3 176 184.6 173.8 188.2 169.2" fill="#b8bd63"/>
<polygon points="208.4 145.1 206.9 147.5 209.3 145.4 210.6 142.9" fill="#ffc337"/>
<polygon points="177.6 180.3 174 184.4 176.4 182.2 180 178.1" fill="#9ebe6e"/>
<polygon points="155.3 202.4 151.7 205.3 154 203.2 157.6 200.2" fill="#4ebc91"/>
<polygon points="141.2 214.5 137.6 216.9 139.9 214.8 143.5 212.4" fill="#26b5a9"/>
<polygon points="169.4 188.8 165.8 192.5 168.1 190.3 171.7 186.6" fill="#84bf78"/>
<polygon points="147.1 209.7 143.5 212.4 145.8 210.2 149.4 207.5" fill="#38b99e"/>
<polygon points="161.2 196.9 157.6 200.2 159.9 198 163.5 194.7" fill="#68be84"/>
<polygon points="191.8 164.2 188.2 169.2 190.5 167 194.1 162" fill="#d1bb59"/>
<polygon points="200 154.1 196.4 159.8 198.7 157.6 202.3 151.9" fill="#ecb94c"/>
<polygon points="183.5 173.6 180 178.1 182.3 176 185.9 171.4" fill="#b7bd63"/>
<polygon points="206.1 147.2 204.6 149.7 206.9 147.5 208.4 145.1" fill="#ffc337"/>
<polygon points="175.3 182.5 171.7 186.6 174 184.4 177.6 180.3" fill="#9ebe6e"/>
<polygon points="153 204.5 149.4 207.5 151.7 205.3 155.3 202.4" fill="#4ebc91"/>
<polygon points="138.8 216.7 135.2 219.1 137.6 216.9 141.2 214.5" fill="#26b5a9"/>
<polygon points="167.1 191 163.5 194.7 165.8 192.5 169.4 188.8" fill="#83bf78"/>
<polygon points="144.7 211.9 141.2 214.5 143.5 212.4 147.1 209.7" fill="#38b99e"/>
<polygon points="158.9 199.1 155.3 202.4 157.6 200.2 161.2 196.9" fill="#68be84"/>
<polygon points="189.4 166.4 185.9 171.4 188.2 169.2 191.8 164.2" fill="#d1bb59"/>
<polygon points="197.7 156.3 194.1 162 196.4 159.8 200 154.1" fill="#ecb94d"/>
<polygon points="181.2 175.8 177.6 180.3 180 178.1 183.5 173.6" fill="#b7bd64"/>
<polygon points="203.8 149.3 202.3 151.9 204.6 149.7 206.1 147.2" fill="#ffc338"/>
<polygon points="173 184.8 169.4 188.8 171.7 186.6 175.3 182.5" fill="#9dbe6e"/>
<polygon points="150.6 206.7 147.1 209.7 149.4 207.5 153 204.5" fill="#4dbc91"/>
<polygon points="164.8 193.2 161.2 196.9 163.5 194.7 167.1 191" fill="#83bf79"/>
<polygon points="142.4 214.1 138.8 216.7 141.2 214.5 144.7 211.9" fill="#37b99e"/>
<polygon points="156.6 201.3 153 204.5 155.3 202.4 158.9 199.1" fill="#67be85"/>
<polygon points="187.1 168.6 183.5 173.6 185.9 171.4 189.4 166.4" fill="#d0bb59"/>
<polygon points="195.3 158.5 191.8 164.2 194.1 162 197.7 156.3" fill="#ebb94d"/>
<polygon points="178.9 178 175.3 182.5 177.6 180.3 181.2 175.8" fill="#b7bd64"/>
<polygon points="201.5 151.4 200 154.1 202.3 151.9 203.8 149.3" fill="#ffc338"/>
<polygon points="170.7 187 167.1 191 169.4 188.8 173 184.8" fill="#9dbf6e"/>
<polygon points="148.3 208.9 144.7 211.9 147.1 209.7 150.6 206.7" fill="#4dbc92"/>
<polygon points="162.5 195.4 158.9 199.1 161.2 196.9 164.8 193.2" fill="#82bf79"/>
<polygon points="154.2 203.5 150.6 206.7 153 204.5 156.6 201.3" fill="#67be85"/>
<polygon points="184.8 170.8 181.2 175.8 183.5 173.6 187.1 168.6" fill="#d0bb59"/>
<polygon points="193 160.8 189.4 166.4 191.8 164.2 195.3 158.5" fill="#ebb94d"/>
<polygon points="176.6 180.3 173 184.8 175.3 182.5 178.9 178" fill="#b6bd64"/>
<polygon points="199.2 153.6 197.7 156.3 200 154.1 201.5 151.4" fill="#ffc238"/>
<polygon points="168.4 189.2 164.8 193.2 167.1 191 170.7 187" fill="#9cbf6e"/>
<polygon points="146 211.2 142.4 214.1 144.7 211.9 148.3 208.9" fill="#4dbc92"/>
<polygon points="160.1 197.7 156.6 201.3 158.9 199.1 162.5 195.4" fill="#82bf79"/>
<polygon points="151.9 205.7 148.3 208.9 150.6 206.7 154.2 203.5" fill="#66be85"/>
<polygon points="182.5 173 178.9 178 181.2 175.8 184.8 170.8" fill="#d0bb5a"/>
<polygon points="190.7 163 187.1 168.6 189.4 166.4 193 160.8" fill="#eab94d"/>
<polygon points="174.3 182.5 170.7 187 173 184.8 176.6 180.3" fill="#b6bd64"/>
<polygon points="197 155.7 195.3 158.5 197.7 156.3 199.2 153.6" fill="#fec238"/>
<polygon points="166 191.4 162.5 195.4 164.8 193.2 168.4 189.2" fill="#9cbf6e"/>
<polygon points="157.8 199.9 154.2 203.5 156.6 201.3 160.1 197.7" fill="#81bf79"/>
<polygon points="149.6 207.9 146 211.2 148.3 208.9 151.9 205.7" fill="#66be85"/>
<polygon points="180.2 175.3 176.6 180.3 178.9 178 182.5 173" fill="#cfbb5a"/>
<polygon points="188.4 165.2 184.8 170.8 187.1 168.6 190.7 163" fill="#eab94e"/>
<polygon points="172 184.7 168.4 189.2 170.7 187 174.3 182.5" fill="#b5bd64"/>
<polygon points="194.7 157.8 193 160.8 195.3 158.5 197 155.7" fill="#fec239"/>
<polygon points="163.7 193.7 160.1 197.7 162.5 195.4 166 191.4" fill="#9bbf6f"/>
<polygon points="155.5 202.1 151.9 205.7 154.2 203.5 157.8 199.9" fill="#81bf7a"/>
<polygon points="177.9 177.5 174.3 182.5 176.6 180.3 180.2 175.3" fill="#cfbb5a"/>
<polygon points="186.1 167.5 182.5 173 184.8 170.8 188.4 165.2" fill="#e9b94e"/>
<polygon points="169.6 187 166 191.4 168.4 189.2 172 184.7" fill="#b5bd65"/>
<polygon points="192.5 160 190.7 163 193 160.8 194.7 157.8" fill="#fec139"/>
<polygon points="161.4 195.9 157.8 199.9 160.1 197.7 163.7 193.7" fill="#9bbf6f"/>
<polygon points="153.2 204.4 149.6 207.9 151.9 205.7 155.5 202.1" fill="#80bf7a"/>
<polygon points="175.5 179.8 172 184.7 174.3 182.5 177.9 177.5" fill="#cebb5a"/>
<polygon points="183.8 169.8 180.2 175.3 182.5 173 186.1 167.5" fill="#e9b94e"/>
<polygon points="167.3 189.2 163.7 193.7 166 191.4 169.6 187" fill="#b4bd65"/>
<polygon points="190.2 162.1 188.4 165.2 190.7 163 192.5 160" fill="#fec13a"/>
<polygon points="159.1 198.2 155.5 202.1 157.8 199.9 161.4 195.9" fill="#9abf6f"/>
<polygon points="173.2 182.1 169.6 187 172 184.7 175.5 179.8" fill="#cdbb5b"/>
<polygon points="181.4 172 177.9 177.5 180.2 175.3 183.8 169.8" fill="#e8b94e"/>
<polygon points="165 191.5 161.4 195.9 163.7 193.7 167.3 189.2" fill="#b3bd65"/>
<polygon points="188 164.3 186.1 167.5 188.4 165.2 190.2 162.1" fill="#fec13a"/>
<polygon points="156.8 200.4 153.2 204.4 155.5 202.1 159.1 198.2" fill="#99bf6f"/>
<polygon points="170.9 184.3 167.3 189.2 169.6 187 173.2 182.1" fill="#cdbb5b"/>
<polygon points="179.1 174.3 175.5 179.8 177.9 177.5 181.4 172" fill="#e8b94f"/>
<polygon points="162.7 193.8 159.1 198.2 161.4 195.9 165 191.5" fill="#b3bd65"/>
<polygon points="185.7 166.4 183.8 169.8 186.1 167.5 188 164.3" fill="#fec03b"/>
<polygon points="168.6 186.6 165 191.5 167.3 189.2 170.9 184.3" fill="#ccbb5b"/>
<polygon points="176.8 176.6 173.2 182.1 175.5 179.8 179.1 174.3" fill="#e7b94f"/>
<polygon points="160.4 196 156.8 200.4 159.1 198.2 162.7 193.8" fill="#b2bd66"/>
<polygon points="183.5 168.5 181.4 172 183.8 169.8 185.7 166.4" fill="#fec03b"/>
<polygon points="166.3 188.9 162.7 193.8 165 191.5 168.6 186.6" fill="#ccbb5b"/>
<polygon points="174.5 178.9 170.9 184.3 173.2 182.1 176.8 176.6" fill="#e7b94f"/>
<polygon points="181.2 170.7 179.1 174.3 181.4 172 183.5 168.5" fill="#fec03c"/>
<polygon points="164 191.2 160.4 196 162.7 193.8 166.3 188.9" fill="#cbbb5c"/>
<polygon points="172.2 181.2 168.6 186.6 170.9 184.3 174.5 178.9" fill="#e6b950"/>
<polygon points="179 172.8 176.8 176.6 179.1 174.3 181.2 170.7" fill="#febf3c"/>
<polygon points="169.9 183.5 166.3 188.9 168.6 186.6 172.2 181.2" fill="#e5b950"/>
<polygon points="176.8 175 174.5 178.9 176.8 176.6 179 172.8" fill="#febf3d"/>
<polygon points="167.5 185.8 164 191.2 166.3 188.9 169.9 183.5" fill="#e4b950"/>
<polygon points="174.6 177.1 172.2 181.2 174.5 178.9 176.8 175" fill="#fdbe3d"/>
<polygon points="172.3 179.3 169.9 183.5 172.2 181.2 174.6 177.1" fill="#fdbe3e"/>
<polygon points="170.1 181.5 167.5 185.8 169.9 183.5 172.3 179.3" fill="#fcbd3f"/>
</g>
<polygon points="34.8 129.8 178.3 184.6 271 100 127.5 45.2" fill="#fbb838"/>
<path d="M39.6 131.6L132.3 47M44.4 133.4L137.1 48.8M49.2 135.3L141.9 50.7M53.9 137.1L146.6 52.5M58.7 138.9L151.4 54.3M63.5 140.7L156.2 56.1M68.3 142.6L161 58M73.1 144.4L165.8 59.8M77.9 146.2L170.6 61.6M82.6 148L175.3 63.4M87.4 149.9L180.1 65.3M92.2 151.7L184.9 67.1M97 153.5L189.7 68.9M101.8 155.3L194.5 70.7M106.6 157.2L199.2 72.6M111.3 159L204 74.4M116.1 160.8L208.8 76.2M120.9 162.7L213.6 78.1M125.7 164.5L218.4 79.9M130.5 166.3L223.2 81.7M135.2 168.1L227.9 83.5M140 170L232.7 85.4M144.8 171.8L237.5 87.2M149.6 173.6L242.3 89M154.4 175.4L247.1 90.8M159.2 177.3L251.9 92.7M164 179.1L256.7 94.5M168.7 180.9L261.4 96.3M173.5 182.7L266.2 98.1M37.9 127L181.4 181.8M41 124.1L184.5 178.9M44.1 121.3L187.6 176.1M47.2 118.5L190.7 173.3M50.3 115.7L193.8 170.5M53.3 112.9L196.8 167.7M56.4 110L199.9 164.8M59.5 107.2L203 162M62.6 104.4L206.1 159.2M65.7 101.6L209.2 156.4M68.8 98.8L212.3 153.6M71.9 95.9L215.4 150.7M75 93.1L218.5 147.9M78.1 90.3L221.6 145.1M81.2 87.5L224.7 142.3M84.2 84.7L227.7 139.5M87.3 81.8L230.8 136.6M90.4 79L233.9 133.8M93.5 76.2L237 131M96.6 73.4L240.1 128.2M99.7 70.6L243.2 125.4M102.8 67.7L246.3 122.5M105.9 64.9L249.4 119.7M109 62.1L252.5 116.9M112.1 59.3L255.6 114.1M115.1 56.5L258.6 111.3M118.2 53.6L261.7 108.4M121.3 50.8L264.8 105.6M124.4 48L267.9 102.8" fill="none"/>
<g stroke-width="0.55">
<polygon points="263.1 91.1 258.8 99.3 262 96.5 266.2 88.4" fill="#fbd02c"/>
<polygon points="260 93.8 255.6 102.1 258.8 99.3 263.1 91.1" fill="#fbd02c"/>
<polygon points="256.9 96.4 252.5 104.9 255.6 102.1 260 93.8" fill="#fbd12c"/>
<polygon points="267.9 80.5 263.1 91.1 266.2 88.4 271 77.9" fill="#f7f413"/>
<polygon points="253.9 99.2 249.4 107.7 252.5 104.9 256.9 96.4" fill="#fbd12b"/>
<polygon points="264.8 83.2 260 93.8 263.1 91.1 267.9 80.5" fill="#f7f412"/>
<polygon points="250.8 101.9 246.2 110.5 249.4 107.7 253.9 99.2" fill="#fad12b"/>
<polygon points="261.7 85.9 256.9 96.4 260 93.8 264.8 83.2" fill="#f7f512"/>
<polygon points="247.7 104.6 243.1 113.3 246.2 110.5 250.8 101.9" fill="#fad12b"/>
<polygon points="258.6 88.6 253.9 99.2 256.9 96.4 261.7 85.9" fill="#f7f512"/>
<polygon points="244.6 107.4 240 116.1 243.1 113.3 247.7 104.6" fill="#fad12b"/>
<polygon points="255.6 91.3 250.8 101.9 253.9 99.2 258.6 88.6" fill="#f7f511"/>
<polygon points="241.5 110.2 236.9 118.9 240 116.1 244.6 107.4" fill="#fad12b"/>
<polygon points="252.5 94.1 247.7 104.6 250.8 101.9 255.6 91.3" fill="#f7f611"/>
<polygon points="238.4 112.9 233.8 121.8 236.9 118.9 241.5 110.2" fill="#fad22b"/>
<polygon points="249.4 96.8 244.6 107.4 247.7 104.6 252.5 94.1" fill="#f7f611"/>
<polygon points="235.3 115.8 230.7 124.6 233.8 121.8 238.4 112.9" fill="#fad22b"/>
<polygon points="246.3 99.6 241.5 110.2 244.6 107.4 249.4 96.8" fill="#f7f611"/>
<polygon points="232.2 118.6 227.6 127.4 230.7 124.6 235.3 115.8" fill="#fad22b"/>
<polygon points="243.2 102.4 238.4 112.9 241.5 110.2 246.3 99.6" fill="#f7f611"/>
<polygon points="229.1 121.4 224.5 130.2 227.6 127.4 232.2 118.6" fill="#fad22b"/>
<polygon points="240.1 105.3 235.3 115.8 238.4 112.9 243.2 102.4" fill="#f7f611"/>
<polygon points="226 124.3 221.4 133 224.5 130.2 229.1 121.4" fill="#fad12b"/>
<polygon points="237 108.1 232.2 118.6 235.3 115.8 240.1 105.3" fill="#f7f611"/>
<polygon points="223 127.2 218.3 135.9 221.4 133 226 124.3" fill="#fad12b"/>
<polygon points="233.9 111 229.1 121.4 232.2 118.6 237 108.1" fill="#f7f611"/>
<polygon points="219.9 130 215.3 138.7 218.3 135.9 223 127.2" fill="#fad12b"/>
<polygon points="230.8 113.8 226 124.3 229.1 121.4 233.9 111" fill="#f7f611"/>
<polygon points="216.8 132.9 212.2 141.5 215.3 138.7 219.9 130" fill="#fad12b"/>
<polygon points="227.7 116.7 223 127.2 226 124.3 230.8 113.8" fill="#f7f511"/>
<polygon points="213.7 135.9 209.1 144.4 212.2 141.5 216.8 132.9" fill="#fbd12b"/>
<polygon points="224.7 119.6 219.9 130 223 127.2 227.7 116.7" fill="#f7f512"/>
<polygon points="210.6 138.8 206.1 147.2 209.1 144.4 213.7 135.9" fill="#fbd02c"/>
<polygon points="221.6 122.6 216.8 132.9 219.9 130 224.7 119.6" fill="#f7f512"/>
<polygon points="207.5 141.8 203 150 206.1 147.2 210.6 138.8" fill="#fbd02c"/>
<polygon points="218.5 125.5 213.7 135.9 216.8 132.9 221.6 122.6" fill="#f7f412"/>
<polygon points="204.4 144.7 200 152.9 203 150 207.5 141.8" fill="#fbd02c"/>
<polygon points="215.4 128.5 210.6 138.8 213.7 135.9 218.5 125.5" fill="#f7f313"/>
<polygon points="201.3 147.7 197 155.7 200 152.9 204.4 144.7" fill="#fbcf2c"/>
<polygon points="212.3 131.5 207.5 141.8 210.6 138.8 215.4 128.5" fill="#f6f313"/>
<polygon points="198.2 150.7 194 158.6 197 155.7 201.3 147.7" fill="#fbcf2d"/>
<polygon points="209.2 134.5 204.4 144.7 207.5 141.8 212.3 131.5" fill="#f6f214"/>
<polygon points="195.1 153.8 191 161.4 194 158.6 198.2 150.7" fill="#fcce2d"/>
<polygon points="206.1 137.5 201.3 147.7 204.4 144.7 209.2 134.5" fill="#f6f214"/>
<polygon points="192.1 156.8 188 164.3 191 161.4 195.1 153.8" fill="#fcce2e"/>
<polygon points="203 140.6 198.2 150.7 201.3 147.7 206.1 137.5" fill="#f6f114"/>
<polygon points="189 159.9 185 167.1 188 164.3 192.1 156.8" fill="#fccd2e"/>
<polygon points="199.9 143.6 195.1 153.8 198.2 150.7 203 140.6" fill="#f6f015"/>
<polygon points="185.9 162.9 182 170 185 167.1 189 159.9" fill="#fccd2f"/>
<polygon points="196.8 146.7 192.1 156.8 195.1 153.8 199.9 143.6" fill="#f6ef16"/>
<polygon points="182.8 166 179 172.8 182 170 185.9 162.9" fill="#fdcc2f"/>
<polygon points="193.8 149.8 189 159.9 192.1 156.8 196.8 146.7" fill="#f5ee16"/>
<polygon points="179.7 169.1 176 175.7 179 172.8 182.8 166" fill="#fdcb30"/>
<polygon points="190.7 152.9 185.9 162.9 189 159.9 193.8 149.8" fill="#f5ed17"/>
<polygon points="176.6 172.2 173.1 178.6 176 175.7 179.7 169.1" fill="#fdcb30"/>
<polygon points="187.6 156 182.8 166 185.9 162.9 190.7 152.9" fill="#f5ec18"/>
<polygon points="173.5 175.4 170.1 181.4 173.1 178.6 176.6 172.2" fill="#fdca31"/>
<polygon points="184.5 159.2 179.7 169.1 182.8 166 187.6 156" fill="#f5eb18"/>
<polygon points="181.4 162.4 176.6 172.2 179.7 169.1 184.5 159.2" fill="#f5ea19"/>
<polygon points="178.3 165.5 173.5 175.4 176.6 172.2 181.4 162.4" fill="#f5e91a"/>
</g>
</g>
<line x1="34.8" y1="245.5" x2="34.8" y2="91.2" stroke="#ababab" stroke-width="1.4"/>
<line x1="34.8" y1="245.5" x2="178.3" y2="300.3" stroke="#262626" stroke-width="0.8"/>
<line x1="178.3" y1="300.3" x2="271" y2="215.7" stroke="#262626" stroke-width="0.8"/>
<line x1="178.3" y1="300.3" x2="175.6" y2="302.7" stroke="#262626" stroke-width="0.8"/>
<line x1="106.6" y1="272.9" x2="103.9" y2="275.3" stroke="#262626" stroke-width="0.8"/>
<line x1="34.8" y1="245.5" x2="32.1" y2="247.9" stroke="#262626" stroke-width="0.8"/>
<line x1="178.3" y1="300.3" x2="181.7" y2="301.6" stroke="#262626" stroke-width="0.8"/>
<line x1="209.2" y1="272.1" x2="212.6" y2="273.4" stroke="#262626" stroke-width="0.8"/>
<line x1="240.1" y1="243.9" x2="243.5" y2="245.2" stroke="#262626" stroke-width="0.8"/>
<line x1="271" y1="215.7" x2="274.4" y2="217" stroke="#262626" stroke-width="0.8"/>
<line x1="34.8" y1="245.5" x2="31.8" y2="244.4" stroke="#262626" stroke-width="0.8"/>
<line x1="34.8" y1="194.1" x2="31.8" y2="192.9" stroke="#262626" stroke-width="0.8"/>
<line x1="34.8" y1="142.6" x2="31.8" y2="141.5" stroke="#262626" stroke-width="0.8"/>
<line x1="34.8" y1="91.2" x2="31.8" y2="90.1" stroke="#262626" stroke-width="0.8"/>
<text x="27.8" y="248.2" text-anchor="end" font-family="Liberation Sans, sans-serif" font-size="11">40</text>
<text x="27.8" y="196.8" text-anchor="end" font-family="Liberation Sans, sans-serif" font-size="11">50</text>
<text x="27.8" y="145.3" text-anchor="end" font-family="Liberation Sans, sans-serif" font-size="11">60</text>
<text x="27.8" y="93.9" text-anchor="end" font-family="Liberation Sans, sans-serif" font-size="11">70</text>
<text x="26" y="263" text-anchor="middle" font-family="Liberation Sans, sans-serif" font-size="11">1</text>
<text x="93" y="290.2" text-anchor="middle" font-family="Liberation Sans, sans-serif" font-size="11">0.5</text>
<text x="169.9" y="317.4" text-anchor="middle" font-family="Liberation Sans, sans-serif" font-size="11">0</text>
<text x="185" y="315.4" text-anchor="start" font-family="Liberation Sans, sans-serif" font-size="11">0.2</text>
<text x="216.4" y="287" text-anchor="start" font-family="Liberation Sans, sans-serif" font-size="11">0.4</text>
<text x="247.5" y="258.2" text-anchor="start" font-family="Liberation Sans, sans-serif" font-size="11">0.6</text>
<clipPath id="cl1"><rect x="0" y="0" width="286" height="319"/></clipPath>
<text x="277.6" y="230.3" text-anchor="start" font-family="Liberation Sans, sans-serif" font-size="11" clip-path="url(#cl1)">0.8</text>
<text x="102.7" y="318" text-anchor="middle" font-family="Liberation Serif, sans-serif" font-size="13">λ</text>
<text x="243.5" y="311.4" text-anchor="middle" font-family="Liberation Serif, sans-serif" font-size="13" font-style="italic">k</text>
<text transform="translate(10.2 168.3) rotate(-90)" text-anchor="middle" font-family="Liberation Serif, serif" font-size="13.5">Profit</text>
<defs><linearGradient id="g1" x1="0" y1="0" x2="0" y2="1"><stop offset="0%" stop-color="#f9fb0e"/><stop offset="3.1%" stop-color="#f5eb18"/><stop offset="6.2%" stop-color="#f5de21"/><stop offset="9.4%" stop-color="#f9d329"/><stop offset="12.5%" stop-color="#fec932"/><stop offset="15.6%" stop-color="#febf3c"/><stop offset="18.8%" stop-color="#f2b949"/><stop offset="21.9%" stop-color="#e3b951"/><stop offset="25%" stop-color="#d3bb58"/><stop offset="28.1%" stop-color="#c2bc5f"/><stop offset="31.2%" stop-color="#b1bd66"/><stop offset="34.4%" stop-color="#9fbe6d"/><stop offset="37.5%" stop-color="#8bbf75"/><stop offset="40.6%" stop-color="#75bf7e"/><stop offset="43.8%" stop-color="#5ebe89"/><stop offset="46.9%" stop-color="#47bb95"/><stop offset="50%" stop-color="#33b8a1"/><stop offset="53.1%" stop-color="#21b4ac"/><stop offset="56.2%" stop-color="#13b0b6"/><stop offset="59.4%" stop-color="#09abbf"/><stop offset="62.5%" stop-color="#06a6c7"/><stop offset="65.6%" stop-color="#069fce"/><stop offset="68.8%" stop-color="#0a97d1"/><stop offset="71.9%" stop-color="#118dd2"/><stop offset="75%" stop-color="#1484d4"/><stop offset="78.1%" stop-color="#127cd8"/><stop offset="81.2%" stop-color="#0c74dd"/><stop offset="84.4%" stop-color="#046ce0"/><stop offset="87.5%" stop-color="#0462e0"/><stop offset="90.6%" stop-color="#2152d3"/><stop offset="93.8%" stop-color="#3243b9"/><stop offset="96.9%" stop-color="#36369f"/><stop offset="100%" stop-color="#352a87"/></linearGradient></defs>
<rect x="286.5" y="6.6" width="11.5" height="293.4" fill="url(#g1)" stroke="#3a3a3a" stroke-width="0.7"/>
<line x1="294.8" y1="251.5" x2="298" y2="251.5" stroke="#3a3a3a" stroke-width="0.7"/>
<text x="300.8" y="255.4" text-anchor="start" font-family="Liberation Sans, sans-serif" font-size="11">45</text>
<line x1="294.8" y1="196.3" x2="298" y2="196.3" stroke="#3a3a3a" stroke-width="0.7"/>
<text x="300.8" y="200.2" text-anchor="start" font-family="Liberation Sans, sans-serif" font-size="11">50</text>
<line x1="294.8" y1="141.2" x2="298" y2="141.2" stroke="#3a3a3a" stroke-width="0.7"/>
<text x="300.8" y="145.1" text-anchor="start" font-family="Liberation Sans, sans-serif" font-size="11">55</text>
<line x1="294.8" y1="86" x2="298" y2="86" stroke="#3a3a3a" stroke-width="0.7"/>
<text x="300.8" y="89.9" text-anchor="start" font-family="Liberation Sans, sans-serif" font-size="11">60</text>
<line x1="294.8" y1="30.9" x2="298" y2="30.9" stroke="#3a3a3a" stroke-width="0.7"/>
<text x="300.8" y="34.8" text-anchor="start" font-family="Liberation Sans, sans-serif" font-size="11">65</text>
<rect x="231.3" y="-3" width="38.6" height="45.4" fill="#fff" stroke="#4a4a4a" stroke-width="0.7"/>
<rect x="233.3" y="3.5" width="12.6" height="16.1" fill="#f9b642" stroke="#222" stroke-width="0.8"/>
<rect x="233.3" y="23.8" width="12.6" height="15.7" fill="#00a0cf" stroke="#222" stroke-width="0.8"/>
<text x="249.6" y="14.4" font-family="Liberation Serif, serif" font-size="12" fill="#111">π</text>
<text x="256" y="9.4" font-family="Liberation Serif, serif" font-size="8.7" font-style="italic" fill="#111">MI</text>
<text x="256" y="20" font-family="Liberation Serif, serif" font-size="8.7" font-style="italic" fill="#111">R</text>
<text x="249.6" y="34.4" font-family="Liberation Serif, serif" font-size="12" fill="#111">π</text>
<text x="256" y="29.4" font-family="Liberation Serif, serif" font-size="8.7" font-style="italic" fill="#111">MF</text>
<text x="256" y="40" font-family="Liberation Serif, serif" font-size="8.7" font-style="italic" fill="#111">R</text>
<line x1="375.7" y1="232.6" x2="498.3" y2="152.7" stroke="#dadada" stroke-width="0.7"/>
<line x1="498.3" y1="152.7" x2="644.1" y2="220.6" stroke="#dadada" stroke-width="0.7"/>
<line x1="448.6" y1="266.6" x2="571.2" y2="186.6" stroke="#dadada" stroke-width="0.7"/>
<line x1="562.4" y1="273.9" x2="416.6" y2="206" stroke="#dadada" stroke-width="0.7"/>
<line x1="603.2" y1="247.2" x2="457.4" y2="179.3" stroke="#dadada" stroke-width="0.7"/>
<line x1="416.6" y1="206" x2="416.6" y2="59.8" stroke="#dadada" stroke-width="0.7"/>
<line x1="457.4" y1="179.3" x2="457.4" y2="33.1" stroke="#dadada" stroke-width="0.7"/>
<line x1="498.3" y1="152.7" x2="498.3" y2="6.5" stroke="#dadada" stroke-width="0.7"/>
<line x1="375.7" y1="196.1" x2="498.3" y2="116.1" stroke="#dadada" stroke-width="0.7"/>
<line x1="498.3" y1="116.1" x2="644.1" y2="184" stroke="#dadada" stroke-width="0.7"/>
<line x1="375.7" y1="159.5" x2="498.3" y2="79.6" stroke="#dadada" stroke-width="0.7"/>
<line x1="498.3" y1="79.6" x2="644.1" y2="147.5" stroke="#dadada" stroke-width="0.7"/>
<line x1="375.7" y1="123" x2="498.3" y2="43" stroke="#dadada" stroke-width="0.7"/>
<line x1="498.3" y1="43" x2="644.1" y2="110.9" stroke="#dadada" stroke-width="0.7"/>
<line x1="375.7" y1="86.4" x2="498.3" y2="6.5" stroke="#dadada" stroke-width="0.7"/>
<line x1="498.3" y1="6.5" x2="644.1" y2="74.4" stroke="#dadada" stroke-width="0.7"/>
<line x1="571.2" y1="186.6" x2="571.2" y2="40.4" stroke="#dadada" stroke-width="0.7"/>
<line x1="644.1" y1="220.6" x2="644.1" y2="74.4" stroke="#dadada" stroke-width="0.7"/>
<g stroke="#000" stroke-width="0.75" stroke-linejoin="round">
<g stroke-width="0.75">
<polygon points="499.1 116.2 494.2 115.2 498.3 111.8 503.2 112.7" fill="#056ee0"/>
<polygon points="495 119.7 490.1 118.7 494.2 115.2 499.1 116.2" fill="#046ce0"/>
<polygon points="503.9 117.2 499.1 116.2 503.2 112.7 508 113.7" fill="#0871df"/>
<polygon points="490.9 123.2 486 122.2 490.1 118.7 495 119.7" fill="#026ae1"/>
<polygon points="499.8 120.7 495 119.7 499.1 116.2 503.9 117.2" fill="#066fdf"/>
<polygon points="508.8 118.1 503.9 117.2 508 113.7 512.9 114.5" fill="#0b74dd"/>
<polygon points="486.8 126.6 482 125.6 486 122.2 490.9 123.2" fill="#0268e1"/>
<polygon points="495.8 124.2 490.9 123.2 495 119.7 499.8 120.7" fill="#046de0"/>
<polygon points="504.7 121.6 499.8 120.7 503.9 117.2 508.8 118.1" fill="#0972de"/>
<polygon points="513.7 118.9 508.8 118.1 512.9 114.5 517.7 115.4" fill="#0e76db"/>
<polygon points="482.7 130.1 477.9 129 482 125.6 486.8 126.6" fill="#0266e1"/>
<polygon points="491.7 127.6 486.8 126.6 490.9 123.2 495.8 124.2" fill="#036be0"/>
<polygon points="500.6 125.1 495.8 124.2 499.8 120.7 504.7 121.6" fill="#0770df"/>
<polygon points="509.6 122.4 504.7 121.6 508.8 118.1 513.7 118.9" fill="#0c75dc"/>
<polygon points="478.6 133.5 473.8 132.5 477.9 129 482.7 130.1" fill="#0363e1"/>
<polygon points="518.5 119.6 513.7 118.9 517.7 115.4 522.6 116.1" fill="#117ada"/>
<polygon points="487.6 131.1 482.7 130.1 486.8 126.6 491.7 127.6" fill="#0269e1"/>
<polygon points="496.5 128.5 491.7 127.6 495.8 124.2 500.6 125.1" fill="#066ee0"/>
<polygon points="505.5 125.9 500.6 125.1 504.7 121.6 509.6 122.4" fill="#0b73dd"/>
<polygon points="474.6 136.9 469.7 135.9 473.8 132.5 478.6 133.5" fill="#0761e0"/>
<polygon points="514.4 123.2 509.6 122.4 513.7 118.9 518.5 119.6" fill="#0f78db"/>
<polygon points="483.5 134.5 478.6 133.5 482.7 130.1 487.6 131.1" fill="#0267e1"/>
<polygon points="492.4 132 487.6 131.1 491.7 127.6 496.5 128.5" fill="#046ce0"/>
<polygon points="523.4 120.3 518.5 119.6 522.6 116.1 527.5 116.8" fill="#127dd8"/>
<polygon points="501.4 129.4 496.5 128.5 500.6 125.1 505.5 125.9" fill="#0971de"/>
<polygon points="470.5 140.4 465.6 139.3 469.7 135.9 474.6 136.9" fill="#0b5ede"/>
<polygon points="510.3 126.7 505.5 125.9 509.6 122.4 514.4 123.2" fill="#0e76dc"/>
<polygon points="479.4 138 474.6 136.9 478.6 133.5 483.5 134.5" fill="#0265e1"/>
<polygon points="519.3 123.9 514.4 123.2 518.5 119.6 523.4 120.3" fill="#117bd9"/>
<polygon points="488.4 135.5 483.5 134.5 487.6 131.1 492.4 132" fill="#036ae1"/>
<polygon points="497.3 132.9 492.4 132 496.5 128.5 501.4 129.4" fill="#076fdf"/>
<polygon points="528.2 120.9 523.4 120.3 527.5 116.8 532.3 117.3" fill="#1480d6"/>
<polygon points="466.4 143.8 461.5 142.7 465.6 139.3 470.5 140.4" fill="#105bdd"/>
<polygon points="506.3 130.2 501.4 129.4 505.5 125.9 510.3 126.7" fill="#0c74dd"/>
<polygon points="475.3 141.4 470.5 140.4 474.6 136.9 479.4 138" fill="#0363e1"/>
<polygon points="515.2 127.4 510.3 126.7 514.4 123.2 519.3 123.9" fill="#1079da"/>
<polygon points="484.3 138.9 479.4 138 483.5 134.5 488.4 135.5" fill="#0268e1"/>
<polygon points="493.2 136.4 488.4 135.5 492.4 132 497.3 132.9" fill="#056ee0"/>
<polygon points="524.1 124.5 519.3 123.9 523.4 120.3 528.2 120.9" fill="#137ed7"/>
<polygon points="462.3 147.1 457.4 146 461.5 142.7 466.4 143.8" fill="#1758d9"/>
<polygon points="502.2 133.7 497.3 132.9 501.4 129.4 506.3 130.2" fill="#0a73de"/>
<polygon points="471.2 144.8 466.4 143.8 470.5 140.4 475.3 141.4" fill="#0860df"/>
<polygon points="533.1 121.4 528.2 120.9 532.3 117.3 537.2 117.9" fill="#1484d4"/>
<polygon points="511.1 130.9 506.3 130.2 510.3 126.7 515.2 127.4" fill="#0f77db"/>
<polygon points="480.2 142.4 475.3 141.4 479.4 138 484.3 138.9" fill="#0266e1"/>
<polygon points="489.1 139.8 484.3 138.9 488.4 135.5 493.2 136.4" fill="#046ce0"/>
<polygon points="520.1 128.1 515.2 127.4 519.3 123.9 524.1 124.5" fill="#127cd8"/>
<polygon points="458.2 150.5 453.3 149.4 457.4 146 462.3 147.1" fill="#1d54d5"/>
<polygon points="498.1 137.2 493.2 136.4 497.3 132.9 502.2 133.7" fill="#0871de"/>
<polygon points="529 125 524.1 124.5 528.2 120.9 533.1 121.4" fill="#1482d5"/>
<polygon points="467.2 148.2 462.3 147.1 466.4 143.8 471.2 144.8" fill="#0d5dde"/>
<polygon points="507 134.5 502.2 133.7 506.3 130.2 511.1 130.9" fill="#0d76dc"/>
<polygon points="476.1 145.8 471.2 144.8 475.3 141.4 480.2 142.4" fill="#0364e1"/>
<polygon points="538 121.9 533.1 121.4 537.2 117.9 542 118.3" fill="#1388d3"/>
<polygon points="485 143.3 480.2 142.4 484.3 138.9 489.1 139.8" fill="#026ae1"/>
<polygon points="516 131.6 511.1 130.9 515.2 127.4 520.1 128.1" fill="#117bd9"/>
<polygon points="454.1 153.9 449.3 152.8 453.3 149.4 458.2 150.5" fill="#2351d1"/>
<polygon points="494 140.7 489.1 139.8 493.2 136.4 498.1 137.2" fill="#066fdf"/>
<polygon points="524.9 128.6 520.1 128.1 524.1 124.5 529 125" fill="#1480d6"/>
<polygon points="463.1 151.6 458.2 150.5 462.3 147.1 467.2 148.2" fill="#135adb"/>
<polygon points="502.9 138 498.1 137.2 502.2 133.7 507 134.5" fill="#0c74dd"/>
<polygon points="472 149.2 467.2 148.2 471.2 144.8 476.1 145.8" fill="#0562e0"/>
<polygon points="533.9 125.5 529 125 533.1 121.4 538 121.9" fill="#1486d4"/>
<polygon points="511.9 135.1 507 134.5 511.1 130.9 516 131.6" fill="#1079da"/>
<polygon points="481 146.7 476.1 145.8 480.2 142.4 485 143.3" fill="#0268e1"/>
<polygon points="450 157.3 445.2 156.1 449.3 152.8 454.1 153.9" fill="#274ecc"/>
<polygon points="542.8 122.2 538 121.9 542 118.3 546.9 118.6" fill="#118dd2"/>
<polygon points="489.9 144.2 485 143.3 489.1 139.8 494 140.7" fill="#056de0"/>
<polygon points="520.8 132.2 516 131.6 520.1 128.1 524.9 128.6" fill="#137ed7"/>
<polygon points="459 155 454.1 153.9 458.2 150.5 463.1 151.6" fill="#1956d8"/>
<polygon points="498.9 141.5 494 140.7 498.1 137.2 502.9 138" fill="#0a72de"/>
<polygon points="467.9 152.6 463.1 151.6 467.2 148.2 472 149.2" fill="#0a5fdf"/>
<polygon points="529.8 129.1 524.9 128.6 529 125 533.9 125.5" fill="#1484d4"/>
<polygon points="507.8 138.7 502.9 138 507 134.5 511.9 135.1" fill="#0f77db"/>
<polygon points="476.9 150.2 472 149.2 476.1 145.8 481 146.7" fill="#0266e1"/>
<polygon points="538.7 125.8 533.9 125.5 538 121.9 542.8 122.2" fill="#128bd3"/>
<polygon points="445.9 160.6 441.1 159.4 445.2 156.1 450 157.3" fill="#2b4bc7"/>
<polygon points="485.8 147.6 481 146.7 485 143.3 489.9 144.2" fill="#036be0"/>
<polygon points="516.7 135.7 511.9 135.1 516 131.6 520.8 132.2" fill="#127cd8"/>
<polygon points="454.9 158.4 450 157.3 454.1 153.9 459 155" fill="#2053d4"/>
<polygon points="494.8 144.9 489.9 144.2 494 140.7 498.9 141.5" fill="#0870df"/>
<polygon points="547.7 122.4 542.8 122.2 546.9 118.6 551.8 118.8" fill="#0d93d2"/>
<polygon points="463.8 156 459 155 463.1 151.6 467.9 152.6" fill="#0e5cde"/>
<polygon points="525.7 132.7 520.8 132.2 524.9 128.6 529.8 129.1" fill="#1482d5"/>
<polygon points="503.7 142.2 498.9 141.5 502.9 138 507.8 138.7" fill="#0d75dc"/>
<polygon points="472.8 153.6 467.9 152.6 472 149.2 476.9 150.2" fill="#0363e1"/>
<polygon points="534.6 129.4 529.8 129.1 533.9 125.5 538.7 125.8" fill="#1388d3"/>
<polygon points="441.9 163.9 437 162.8 441.1 159.4 445.9 160.6" fill="#2e48c3"/>
<polygon points="481.7 151.1 476.9 150.2 481 146.7 485.8 147.6" fill="#0269e1"/>
<polygon points="512.7 139.3 507.8 138.7 511.9 135.1 516.7 135.7" fill="#117bd9"/>
<polygon points="450.8 161.7 445.9 160.6 450 157.3 454.9 158.4" fill="#2450cf"/>
<polygon points="490.7 148.4 485.8 147.6 489.9 144.2 494.8 144.9" fill="#066fdf"/>
<polygon points="543.6 126.1 538.7 125.8 542.8 122.2 547.7 122.4" fill="#0f90d2"/>
<polygon points="521.6 136.2 516.7 135.7 520.8 132.2 525.7 132.7" fill="#1480d6"/>
<polygon points="459.8 159.4 454.9 158.4 459 155 463.8 156" fill="#1559da"/>
<polygon points="499.6 145.7 494.8 144.9 498.9 141.5 503.7 142.2" fill="#0b74dd"/>
<polygon points="468.7 157 463.8 156 467.9 152.6 472.8 153.6" fill="#0661e0"/>
<polygon points="530.6 133 525.7 132.7 529.8 129.1 534.6 129.4" fill="#1486d4"/>
<polygon points="552.5 122.6 547.7 122.4 551.8 118.8 556.6 118.9" fill="#0998d1"/>
<polygon points="477.6 154.5 472.8 153.6 476.9 150.2 481.7 151.1" fill="#0267e1"/>
<polygon points="508.6 142.8 503.7 142.2 507.8 138.7 512.7 139.3" fill="#1079da"/>
<polygon points="437.8 167.3 432.9 166.1 437 162.8 441.9 163.9" fill="#3046be"/>
<polygon points="446.7 165.1 441.9 163.9 445.9 160.6 450.8 161.7" fill="#284dca"/>
<polygon points="486.6 151.9 481.7 151.1 485.8 147.6 490.7 148.4" fill="#046de0"/>
<polygon points="539.5 129.7 534.6 129.4 538.7 125.8 543.6 126.1" fill="#118dd2"/>
<polygon points="517.5 139.8 512.7 139.3 516.7 135.7 521.6 136.2" fill="#137ed7"/>
<polygon points="455.7 162.8 450.8 161.7 454.9 158.4 459.8 159.4" fill="#1b55d7"/>
<polygon points="495.5 149.2 490.7 148.4 494.8 144.9 499.6 145.7" fill="#0972de"/>
<polygon points="464.6 160.4 459.8 159.4 463.8 156 468.7 157" fill="#0b5edf"/>
<polygon points="548.4 126.2 543.6 126.1 547.7 122.4 552.5 122.6" fill="#0b96d1"/>
<polygon points="526.5 136.6 521.6 136.2 525.7 132.7 530.6 133" fill="#1484d4"/>
<polygon points="504.5 146.3 499.6 145.7 503.7 142.2 508.6 142.8" fill="#0f77db"/>
<polygon points="473.6 157.9 468.7 157 472.8 153.6 477.6 154.5" fill="#0265e1"/>
<polygon points="433.7 170.6 428.8 169.4 432.9 166.1 437.8 167.3" fill="#3243b9"/>
<polygon points="442.6 168.4 437.8 167.3 441.9 163.9 446.7 165.1" fill="#2c4ac6"/>
<polygon points="535.4 133.3 530.6 133 534.6 129.4 539.5 129.7" fill="#128bd2"/>
<polygon points="482.5 155.3 477.6 154.5 481.7 151.1 486.6 151.9" fill="#036be0"/>
<polygon points="557.4 122.6 552.5 122.6 556.6 118.9 561.5 118.9" fill="#079dcf"/>
<polygon points="513.4 143.3 508.6 142.8 512.7 139.3 517.5 139.8" fill="#127cd8"/>
<polygon points="451.6 166.1 446.7 165.1 450.8 161.7 455.7 162.8" fill="#2152d3"/>
<polygon points="491.5 152.6 486.6 151.9 490.7 148.4 495.5 149.2" fill="#0870df"/>
<polygon points="460.5 163.8 455.7 162.8 459.8 159.4 464.6 160.4" fill="#105bdd"/>
<polygon points="544.4 129.9 539.5 129.7 543.6 126.1 548.4 126.2" fill="#0c93d2"/>
<polygon points="522.4 140.2 517.5 139.8 521.6 136.2 526.5 136.6" fill="#1482d5"/>
<polygon points="500.4 149.8 495.5 149.2 499.6 145.7 504.5 146.3" fill="#0d75dc"/>
<polygon points="469.5 161.3 464.6 160.4 468.7 157 473.6 157.9" fill="#0363e1"/>
<polygon points="429.6 173.9 424.7 172.7 428.8 169.4 433.7 170.6" fill="#3341b5"/>
<polygon points="531.3 136.9 526.5 136.6 530.6 133 535.4 133.3" fill="#1388d3"/>
<polygon points="438.5 171.7 433.7 170.6 437.8 167.3 442.6 168.4" fill="#2e48c1"/>
<polygon points="478.4 158.8 473.6 157.9 477.6 154.5 482.5 155.3" fill="#0269e1"/>
<polygon points="553.3 126.2 548.4 126.2 552.5 122.6 557.4 122.6" fill="#079bd0"/>
<polygon points="509.3 146.9 504.5 146.3 508.6 142.8 513.4 143.3" fill="#117bd9"/>
<polygon points="447.5 169.5 442.6 168.4 446.7 165.1 451.6 166.1" fill="#254fce"/>
<polygon points="487.4 156.1 482.5 155.3 486.6 151.9 491.5 152.6" fill="#066edf"/>
<polygon points="540.3 133.5 535.4 133.3 539.5 129.7 544.4 129.9" fill="#0e90d2"/>
<polygon points="456.4 167.2 451.6 166.1 455.7 162.8 460.5 163.8" fill="#1658d9"/>
<polygon points="518.3 143.8 513.4 143.3 517.5 139.8 522.4 140.2" fill="#1480d6"/>
<polygon points="562.3 122.4 557.4 122.6 561.5 118.9 566.3 118.7" fill="#06a2cb"/>
<polygon points="496.3 153.3 491.5 152.6 495.5 149.2 500.4 149.8" fill="#0b74dd"/>
<polygon points="465.4 164.7 460.5 163.8 464.6 160.4 469.5 161.3" fill="#0760e0"/>
<polygon points="425.5 177.2 420.7 176 424.7 172.7 429.6 173.9" fill="#343fb1"/>
<polygon points="527.2 140.5 522.4 140.2 526.5 136.6 531.3 136.9" fill="#1486d3"/>
<polygon points="549.2 129.9 544.4 129.9 548.4 126.2 553.3 126.2" fill="#0899d1"/>
<polygon points="474.3 162.2 469.5 161.3 473.6 157.9 478.4 158.8" fill="#0267e1"/>
<polygon points="434.5 175.1 429.6 173.9 433.7 170.6 438.5 171.7" fill="#3045bd"/>
<polygon points="505.3 150.4 500.4 149.8 504.5 146.3 509.3 146.9" fill="#1079da"/>
<polygon points="443.4 172.8 438.5 171.7 442.6 168.4 447.5 169.5" fill="#294cc9"/>
<polygon points="483.3 159.5 478.4 158.8 482.5 155.3 487.4 156.1" fill="#046de0"/>
<polygon points="536.2 137.1 531.3 136.9 535.4 133.3 540.3 133.5" fill="#108ed2"/>
<polygon points="514.2 147.3 509.3 146.9 513.4 143.3 518.3 143.8" fill="#137ed7"/>
<polygon points="452.4 170.5 447.5 169.5 451.6 166.1 456.4 167.2" fill="#1c55d6"/>
<polygon points="558.2 126.1 553.3 126.2 557.4 122.6 562.3 122.4" fill="#06a0cd"/>
<polygon points="492.2 156.8 487.4 156.1 491.5 152.6 496.3 153.3" fill="#0972de"/>
<polygon points="461.3 168.1 456.4 167.2 460.5 163.8 465.4 164.7" fill="#0c5ede"/>
<polygon points="421.4 180.5 416.6 179.2 420.7 176 425.5 177.2" fill="#353dac"/>
<polygon points="523.2 144.1 518.3 143.8 522.4 140.2 527.2 140.5" fill="#1484d4"/>
<polygon points="545.1 133.6 540.3 133.5 544.4 129.9 549.2 129.9" fill="#0a96d1"/>
<polygon points="470.2 165.6 465.4 164.7 469.5 161.3 474.3 162.2" fill="#0265e1"/>
<polygon points="501.2 153.9 496.3 153.3 500.4 149.8 505.3 150.4" fill="#0f77db"/>
<polygon points="430.4 178.4 425.5 177.2 429.6 173.9 434.5 175.1" fill="#3243b8"/>
<polygon points="567.1 122.1 562.3 122.4 566.3 118.7 571.2 118.4" fill="#06a6c7"/>
<polygon points="439.3 176.2 434.5 175.1 438.5 171.7 443.4 172.8" fill="#2d49c5"/>
<polygon points="479.2 163 474.3 162.2 478.4 158.8 483.3 159.5" fill="#036be1"/>
<polygon points="532.1 140.7 527.2 140.5 531.3 136.9 536.2 137.1" fill="#128bd2"/>
<polygon points="510.1 150.9 505.3 150.4 509.3 146.9 514.2 147.3" fill="#127cd8"/>
<polygon points="554.1 129.8 549.2 129.9 553.3 126.2 558.2 126.1" fill="#069ece"/>
<polygon points="448.3 173.9 443.4 172.8 447.5 169.5 452.4 170.5" fill="#2251d2"/>
<polygon points="488.1 160.3 483.3 159.5 487.4 156.1 492.2 156.8" fill="#0870df"/>
<polygon points="457.2 171.5 452.4 170.5 456.4 167.2 461.3 168.1" fill="#115bdc"/>
<polygon points="519.1 147.7 514.2 147.3 518.3 143.8 523.2 144.1" fill="#1482d5"/>
<polygon points="541 137.2 536.2 137.1 540.3 133.5 545.1 133.6" fill="#0c94d2"/>
<polygon points="417.3 183.8 412.5 182.5 416.6 179.2 421.4 180.5" fill="#353ba8"/>
<polygon points="497.1 157.4 492.2 156.8 496.3 153.3 501.2 153.9" fill="#0d75dc"/>
<polygon points="466.2 169 461.3 168.1 465.4 164.7 470.2 165.6" fill="#0363e1"/>
<polygon points="426.3 181.7 421.4 180.5 425.5 177.2 430.4 178.4" fill="#3341b4"/>
<polygon points="563 125.9 558.2 126.1 562.3 122.4 567.1 122.1" fill="#06a5c9"/>
<polygon points="435.2 179.5 430.4 178.4 434.5 175.1 439.3 176.2" fill="#2f47c0"/>
<polygon points="475.1 166.4 470.2 165.6 474.3 162.2 479.2 163" fill="#0269e1"/>
<polygon points="528 144.3 523.2 144.1 527.2 140.5 532.1 140.7" fill="#1389d3"/>
<polygon points="506 154.4 501.2 153.9 505.3 150.4 510.1 150.9" fill="#117bd9"/>
<polygon points="550 133.5 545.1 133.6 549.2 129.9 554.1 129.8" fill="#079cd0"/>
<polygon points="444.2 177.2 439.3 176.2 443.4 172.8 448.3 173.9" fill="#264ecd"/>
<polygon points="484.1 163.7 479.2 163 483.3 159.5 488.1 160.3" fill="#066edf"/>
<polygon points="572 121.7 567.1 122.1 571.2 118.4 576.1 117.9" fill="#08aac1"/>
<polygon points="453.1 174.9 448.3 173.9 452.4 170.5 457.2 171.5" fill="#1757d9"/>
<polygon points="537 140.8 532.1 140.7 536.2 137.1 541 137.2" fill="#0e91d2"/>
<polygon points="515 151.2 510.1 150.9 514.2 147.3 519.1 147.7" fill="#1480d6"/>
<polygon points="413.3 187 408.4 185.8 412.5 182.5 417.3 183.8" fill="#3639a4"/>
<polygon points="493 160.9 488.1 160.3 492.2 156.8 497.1 157.4" fill="#0b74dd"/>
<polygon points="558.9 129.6 554.1 129.8 558.2 126.1 563 125.9" fill="#06a3cb"/>
<polygon points="462.1 172.4 457.2 171.5 461.3 168.1 466.2 169" fill="#0860e0"/>
<polygon points="422.2 185 417.3 183.8 421.4 180.5 426.3 181.7" fill="#343eb0"/>
<polygon points="523.9 147.9 519.1 147.7 523.2 144.1 528 144.3" fill="#1487d3"/>
<polygon points="431.1 182.8 426.3 181.7 430.4 178.4 435.2 179.5" fill="#3145bc"/>
<polygon points="471 169.8 466.2 169 470.2 165.6 475.1 166.4" fill="#0267e1"/>
<polygon points="545.9 137.2 541 137.2 545.1 133.6 550 133.5" fill="#089ad1"/>
<polygon points="501.9 157.9 497.1 157.4 501.2 153.9 506 154.4" fill="#1079da"/>
<polygon points="440.1 180.6 435.2 179.5 439.3 176.2 444.2 177.2" fill="#2a4bc8"/>
<polygon points="480 167.2 475.1 166.4 479.2 163 484.1 163.7" fill="#046de0"/>
<polygon points="567.9 125.4 563 125.9 567.1 122.1 572 121.7" fill="#07a9c3"/>
<polygon points="449 178.2 444.2 177.2 448.3 173.9 453.1 174.9" fill="#1d54d5"/>
<polygon points="532.9 144.5 528 144.3 532.1 140.7 537 140.8" fill="#108fd2"/>
<polygon points="510.9 154.8 506 154.4 510.1 150.9 515 151.2" fill="#137ed7"/>
<polygon points="554.9 133.3 550 133.5 554.1 129.8 558.9 129.6" fill="#06a1cc"/>
<polygon points="409.2 190.3 404.3 189 408.4 185.8 413.3 187" fill="#3637a0"/>
<polygon points="488.9 164.3 484.1 163.7 488.1 160.3 493 160.9" fill="#0972de"/>
<polygon points="458 175.8 453.1 174.9 457.2 171.5 462.1 172.4" fill="#0c5dde"/>
<polygon points="418.1 188.2 413.3 187 417.3 183.8 422.2 185" fill="#353cab"/>
<polygon points="519.8 151.5 515 151.2 519.1 147.7 523.9 147.9" fill="#1485d4"/>
<polygon points="541.8 140.8 537 140.8 541 137.2 545.9 137.2" fill="#0997d1"/>
<polygon points="466.9 173.2 462.1 172.4 466.2 169 471 169.8" fill="#0265e1"/>
<polygon points="427.1 186.1 422.2 185 426.3 181.7 431.1 182.8" fill="#3342b7"/>
<polygon points="576.8 121.1 572 121.7 576.1 117.9 580.9 117.3" fill="#0eaeba"/>
<polygon points="497.9 161.4 493 160.9 497.1 157.4 501.9 157.9" fill="#0f77db"/>
<polygon points="436 183.9 431.1 182.8 435.2 179.5 440.1 180.6" fill="#2d49c4"/>
<polygon points="563.8 129.2 558.9 129.6 563 125.9 567.9 125.4" fill="#06a7c5"/>
<polygon points="475.9 170.6 471 169.8 475.1 166.4 480 167.2" fill="#036be1"/>
<polygon points="528.8 148.1 523.9 147.9 528 144.3 532.9 144.5" fill="#118cd2"/>
<polygon points="506.8 158.3 501.9 157.9 506 154.4 510.9 154.8" fill="#127dd8"/>
<polygon points="445 181.6 440.1 180.6 444.2 177.2 449 178.2" fill="#2251d1"/>
<polygon points="550.8 137 545.9 137.2 550 133.5 554.9 133.3" fill="#069fce"/>
<polygon points="484.8 167.8 480 167.2 484.1 163.7 488.9 164.3" fill="#0870df"/>
<polygon points="405.1 193.5 400.2 192.2 404.3 189 409.2 190.3" fill="#36359c"/>
<polygon points="453.9 179.2 449 178.2 453.1 174.9 458 175.8" fill="#125adc"/>
<polygon points="414 191.5 409.2 190.3 413.3 187 418.1 188.2" fill="#363aa7"/>
<polygon points="515.8 155.1 510.9 154.8 515 151.2 519.8 151.5" fill="#1483d5"/>
<polygon points="572.7 124.8 567.9 125.4 572 121.7 576.8 121.1" fill="#0badbd"/>
<polygon points="537.7 144.5 532.9 144.5 537 140.8 541.8 140.8" fill="#0b95d2"/>
<polygon points="462.8 176.6 458 175.8 462.1 172.4 466.9 173.2" fill="#0363e1"/>
<polygon points="493.8 164.9 488.9 164.3 493 160.9 497.9 161.4" fill="#0d76dc"/>
<polygon points="423 189.4 418.1 188.2 422.2 185 427.1 186.1" fill="#3440b3"/>
<polygon points="559.7 132.9 554.9 133.3 558.9 129.6 563.8 129.2" fill="#06a5c8"/>
<polygon points="431.9 187.2 427.1 186.1 431.1 182.8 436 183.9" fill="#2f46bf"/>
<polygon points="471.8 174 466.9 173.2 471 169.8 475.9 170.6" fill="#0269e1"/>
<polygon points="524.7 151.7 519.8 151.5 523.9 147.9 528.8 148.1" fill="#138ad3"/>
<polygon points="502.7 161.8 497.9 161.4 501.9 157.9 506.8 158.3" fill="#117bd9"/>
<polygon points="440.9 184.9 436 183.9 440.1 180.6 445 181.6" fill="#274ecc"/>
<polygon points="546.7 140.6 541.8 140.8 545.9 137.2 550.8 137" fill="#079dcf"/>
<polygon points="480.7 171.3 475.9 170.6 480 167.2 484.8 167.8" fill="#066edf"/>
<polygon points="581.7 120.3 576.8 121.1 580.9 117.3 585.8 116.5" fill="#19b2b2"/>
<polygon points="401 196.7 396.1 195.5 400.2 192.2 405.1 193.5" fill="#363399"/>
<polygon points="449.8 182.5 445 181.6 449 178.2 453.9 179.2" fill="#1857d8"/>
<polygon points="568.7 128.6 563.8 129.2 567.9 125.4 572.7 124.8" fill="#09abbf"/>
<polygon points="511.7 158.6 506.8 158.3 510.9 154.8 515.8 155.1" fill="#1481d6"/>
<polygon points="409.9 194.7 405.1 193.5 409.2 190.3 414 191.5" fill="#3638a3"/>
<polygon points="533.6 148.1 528.8 148.1 532.9 144.5 537.7 144.5" fill="#0d92d2"/>
<polygon points="458.8 180 453.9 179.2 458 175.8 462.8 176.6" fill="#0860df"/>
<polygon points="489.7 168.4 484.8 167.8 488.9 164.3 493.8 164.9" fill="#0b74dd"/>
<polygon points="418.9 192.7 414 191.5 418.1 188.2 423 189.4" fill="#353eaf"/>
<polygon points="555.6 136.6 550.8 137 554.9 133.3 559.7 132.9" fill="#06a4ca"/>
<polygon points="427.8 190.5 423 189.4 427.1 186.1 431.9 187.2" fill="#3144bb"/>
<polygon points="467.7 177.4 462.8 176.6 466.9 173.2 471.8 174" fill="#0267e1"/>
<polygon points="520.6 155.3 515.8 155.1 519.8 151.5 524.7 151.7" fill="#1487d3"/>
<polygon points="498.6 165.3 493.8 164.9 497.9 161.4 502.7 161.8" fill="#1079da"/>
<polygon points="542.6 144.3 537.7 144.5 541.8 140.8 546.7 140.6" fill="#089bd0"/>
<polygon points="436.8 188.2 431.9 187.2 436 183.9 440.9 184.9" fill="#2b4bc8"/>
<polygon points="577.6 124.1 572.7 124.8 576.8 121.1 581.7 120.3" fill="#15b0b5"/>
<polygon points="476.7 174.7 471.8 174 475.9 170.6 480.7 171.3" fill="#046de0"/>
<polygon points="445.7 185.9 440.9 184.9 445 181.6 449.8 182.5" fill="#1e54d5"/>
<polygon points="396.9 200 392 198.7 396.1 195.5 401 196.7" fill="#363195"/>
<polygon points="564.6 132.4 559.7 132.9 563.8 129.2 568.7 128.6" fill="#07aac2"/>
<polygon points="507.6 162.2 502.7 161.8 506.8 158.3 511.7 158.6" fill="#137fd7"/>
<polygon points="529.6 151.7 524.7 151.7 528.8 148.1 533.6 148.1" fill="#0f90d2"/>
<polygon points="405.9 198 401 196.7 405.1 193.5 409.9 194.7" fill="#36369f"/>
<polygon points="485.6 171.8 480.7 171.3 484.8 167.8 489.7 168.4" fill="#0a72de"/>
<polygon points="454.7 183.4 449.8 182.5 453.9 179.2 458.8 180" fill="#0c5dde"/>
<polygon points="551.5 140.3 546.7 140.6 550.8 137 555.6 136.6" fill="#06a2cb"/>
<polygon points="414.8 195.9 409.9 194.7 414 191.5 418.9 192.7" fill="#353cab"/>
<polygon points="516.5 158.8 511.7 158.6 515.8 155.1 520.6 155.3" fill="#1485d4"/>
<polygon points="423.7 193.8 418.9 192.7 423 189.4 427.8 190.5" fill="#3342b7"/>
<polygon points="463.6 180.8 458.8 180 462.8 176.6 467.7 177.4" fill="#0265e1"/>
<polygon points="586.6 119.2 581.7 120.3 585.8 116.5 590.6 115.4" fill="#27b5a8"/>
<polygon points="494.5 168.8 489.7 168.4 493.8 164.9 498.6 165.3" fill="#0f78db"/>
<polygon points="538.5 148 533.6 148.1 537.7 144.5 542.6 144.3" fill="#0998d1"/>
<polygon points="573.5 127.8 568.7 128.6 572.7 124.8 577.6 124.1" fill="#11afb8"/>
<polygon points="432.7 191.5 427.8 190.5 431.9 187.2 436.8 188.2" fill="#2d49c3"/>
<polygon points="472.6 178.1 467.7 177.4 471.8 174 476.7 174.7" fill="#036be0"/>
<polygon points="560.5 136.1 555.6 136.6 559.7 132.9 564.6 132.4" fill="#06a8c4"/>
<polygon points="441.6 189.2 436.8 188.2 440.9 184.9 445.7 185.9" fill="#2351d1"/>
<polygon points="392.8 203.2 388 201.9 392 198.7 396.9 200" fill="#362f91"/>
<polygon points="525.5 155.3 520.6 155.3 524.7 151.7 529.6 151.7" fill="#118dd2"/>
<polygon points="503.5 165.7 498.6 165.3 502.7 161.8 507.6 162.2" fill="#137dd8"/>
<polygon points="401.8 201.2 396.9 200 401 196.7 405.9 198" fill="#36349c"/>
<polygon points="481.5 175.3 476.7 174.7 480.7 171.3 485.6 171.8" fill="#0870df"/>
<polygon points="547.5 144 542.6 144.3 546.7 140.6 551.5 140.3" fill="#06a0cd"/>
<polygon points="450.6 186.8 445.7 185.9 449.8 182.5 454.7 183.4" fill="#125adc"/>
<polygon points="410.7 199.2 405.9 198 409.9 194.7 414.8 195.9" fill="#363aa7"/>
<polygon points="512.4 162.4 507.6 162.2 511.7 158.6 516.5 158.8" fill="#1483d5"/>
<polygon points="582.5 123.1 577.6 124.1 581.7 120.3 586.6 119.2" fill="#22b4ac"/>
<polygon points="459.5 184.2 454.7 183.4 458.8 180 463.6 180.8" fill="#0363e1"/>
<polygon points="419.7 197.1 414.8 195.9 418.9 192.7 423.7 193.8" fill="#3440b2"/>
<polygon points="534.4 151.6 529.6 151.7 533.6 148.1 538.5 148" fill="#0a96d1"/>
<polygon points="490.5 172.3 485.6 171.8 489.7 168.4 494.5 168.8" fill="#0d76dc"/>
<polygon points="569.4 131.6 564.6 132.4 568.7 128.6 573.5 127.8" fill="#0daebb"/>
<polygon points="428.6 194.8 423.7 193.8 427.8 190.5 432.7 191.5" fill="#2f46bf"/>
<polygon points="556.4 139.8 551.5 140.3 555.6 136.6 560.5 136.1" fill="#06a7c6"/>
<polygon points="468.5 181.5 463.6 180.8 467.7 177.4 472.6 178.1" fill="#0269e1"/>
<polygon points="521.4 158.9 516.5 158.8 520.6 155.3 525.5 155.3" fill="#128bd3"/>
<polygon points="437.6 192.5 432.7 191.5 436.8 188.2 441.6 189.2" fill="#274ecc"/>
<polygon points="499.4 169.2 494.5 168.8 498.6 165.3 503.5 165.7" fill="#127bd9"/>
<polygon points="388.7 206.4 383.9 205.1 388 201.9 392.8 203.2" fill="#362e8e"/>
<polygon points="543.4 147.7 538.5 148 542.6 144.3 547.5 144" fill="#069ece"/>
<polygon points="477.4 178.7 472.6 178.1 476.7 174.7 481.5 175.3" fill="#066fdf"/>
<polygon points="397.7 204.4 392.8 203.2 396.9 200 401.8 201.2" fill="#363398"/>
<polygon points="446.5 190.1 441.6 189.2 445.7 185.9 450.6 186.8" fill="#1857d8"/>
<polygon points="591.3 118 586.6 119.2 590.6 115.4 593.7 114.6" fill="#38b99e"/>
<polygon points="406.6 202.4 401.8 201.2 405.9 198 410.7 199.2" fill="#3638a3"/>
<polygon points="578.4 126.9 573.5 127.8 577.6 124.1 582.5 123.1" fill="#1db3af"/>
<polygon points="508.4 165.9 503.5 165.7 507.6 162.2 512.4 162.4" fill="#1481d5"/>
<polygon points="530.3 155.2 525.5 155.3 529.6 151.7 534.4 151.6" fill="#0c93d2"/>
<polygon points="455.4 187.6 450.6 186.8 454.7 183.4 459.5 184.2" fill="#0860e0"/>
<polygon points="565.3 135.4 560.5 136.1 564.6 132.4 569.4 131.6" fill="#0aacbd"/>
<polygon points="486.4 175.8 481.5 175.3 485.6 171.8 490.5 172.3" fill="#0c74dd"/>
<polygon points="415.6 200.3 410.7 199.2 414.8 195.9 419.7 197.1" fill="#353eae"/>
<polygon points="552.3 143.5 547.5 144 551.5 140.3 556.4 139.8" fill="#06a5c8"/>
<polygon points="424.5 198.1 419.7 197.1 423.7 193.8 428.6 194.8" fill="#3244bb"/>
<polygon points="464.4 184.9 459.5 184.2 463.6 180.8 468.5 181.5" fill="#0267e1"/>
<polygon points="517.3 162.5 512.4 162.4 516.5 158.8 521.4 158.9" fill="#1388d3"/>
<polygon points="495.3 172.7 490.5 172.3 494.5 168.8 499.4 169.2" fill="#117ada"/>
<polygon points="433.5 195.9 428.6 194.8 432.7 191.5 437.6 192.5" fill="#2b4bc8"/>
<polygon points="539.3 151.3 534.4 151.6 538.5 148 543.4 147.7" fill="#079cd0"/>
<polygon points="384.6 209.6 379.8 208.2 383.9 205.1 388.7 206.4" fill="#352c8a"/>
<polygon points="473.3 182.2 468.5 181.5 472.6 178.1 477.4 178.7" fill="#046de0"/>
<polygon points="587.3 121.8 582.5 123.1 586.6 119.2 591.3 118 591 118.3" fill="#32b8a1"/>
<polygon points="393.6 207.7 388.7 206.4 392.8 203.2 397.7 204.4" fill="#363194"/>
<polygon points="442.4 193.5 437.6 192.5 441.6 189.2 446.5 190.1" fill="#1e54d5"/>
<polygon points="574.3 130.7 569.4 131.6 573.5 127.8 578.4 126.9" fill="#18b1b2"/>
<polygon points="504.3 169.5 499.4 169.2 503.5 165.7 508.4 165.9" fill="#1380d6"/>
<polygon points="402.5 205.7 397.7 204.4 401.8 201.2 406.6 202.4" fill="#36369f"/>
<polygon points="526.2 158.8 521.4 158.9 525.5 155.3 530.3 155.2" fill="#0e91d2"/>
<polygon points="561.3 139.1 556.4 139.8 560.5 136.1 565.3 135.4" fill="#08abc0"/>
<polygon points="451.4 191 446.5 190.1 450.6 186.8 455.4 187.6" fill="#0c5dde"/>
<polygon points="482.3 179.3 477.4 178.7 481.5 175.3 486.4 175.8" fill="#0a72de"/>
<polygon points="411.5 203.6 406.6 202.4 410.7 199.2 415.6 200.3" fill="#353caa"/>
<polygon points="548.2 147.2 543.4 147.7 547.5 144 552.3 143.5" fill="#06a3ca"/>
<polygon points="420.4 201.4 415.6 200.3 419.7 197.1 424.5 198.1" fill="#3342b6"/>
<polygon points="460.3 188.3 455.4 187.6 459.5 184.2 464.4 184.9" fill="#0265e1"/>
<polygon points="513.2 166 508.4 165.9 512.4 162.4 517.3 162.5" fill="#1486d4"/>
<polygon points="491.2 176.2 486.4 175.8 490.5 172.3 495.3 172.7" fill="#0f78db"/>
<polygon points="535.2 155 530.3 155.2 534.4 151.6 539.3 151.3" fill="#089ad0"/>
<polygon points="429.4 199.2 424.5 198.1 428.6 194.8 433.5 195.9" fill="#2d49c3"/>
<polygon points="583.2 125.7 578.4 126.9 582.5 123.1 587.3 121.8" fill="#2cb7a5"/>
<polygon points="380.6 212.7 375.7 211.4 379.8 208.2 384.6 209.6" fill="#352a87"/>
<polygon points="469.3 185.6 464.4 184.9 468.5 181.5 473.3 182.2" fill="#036be0"/>
<polygon points="570.2 134.5 565.3 135.4 569.4 131.6 574.3 130.7" fill="#14b0b5"/>
<polygon points="438.3 196.8 433.5 195.9 437.6 192.5 442.4 193.5" fill="#2351d1"/>
<polygon points="389.5 210.9 384.6 209.6 388.7 206.4 393.6 207.7" fill="#362f91"/>
<polygon points="500.2 173 495.3 172.7 499.4 169.2 504.3 169.5" fill="#137ed7"/>
<polygon points="557.2 142.9 552.3 143.5 556.4 139.8 561.3 139.1" fill="#07a9c2"/>
<polygon points="522.2 162.4 517.3 162.5 521.4 158.9 526.2 158.8" fill="#108ed2"/>
<polygon points="398.5 208.9 393.6 207.7 397.7 204.4 402.5 205.7" fill="#36349b"/>
<polygon points="478.2 182.7 473.3 182.2 477.4 178.7 482.3 179.3" fill="#0871de"/>
<polygon points="447.3 194.3 442.4 193.5 446.5 190.1 451.4 191" fill="#115bdc"/>
<polygon points="407.4 206.8 402.5 205.7 406.6 202.4 411.5 203.6" fill="#363aa6"/>
<polygon points="544.1 150.9 539.3 151.3 543.4 147.7 548.2 147.2" fill="#06a1cc"/>
<polygon points="416.3 204.7 411.5 203.6 415.6 200.3 420.4 201.4" fill="#3440b2"/>
<polygon points="456.2 191.7 451.4 191 455.4 187.6 460.3 188.3" fill="#0363e1"/>
<polygon points="509.1 169.6 504.3 169.5 508.4 165.9 513.2 166" fill="#1484d4"/>
<polygon points="487.1 179.7 482.3 179.3 486.4 175.8 491.2 176.2" fill="#0e76dc"/>
<polygon points="531.1 158.6 526.2 158.8 530.3 155.2 535.2 155" fill="#0997d1"/>
<polygon points="588.7 121.4 587.3 121.8 591 118.3" fill="#47bb95"/>
<polygon points="579.2 129.5 574.3 130.7 578.4 126.9 583.2 125.7" fill="#27b5a8"/>
<polygon points="425.3 202.4 420.4 201.4 424.5 198.1 429.4 199.2" fill="#2f46bf"/>
<polygon points="566.1 138.2 561.3 139.1 565.3 135.4 570.2 134.5" fill="#10afb8"/>
<polygon points="465.2 189 460.3 188.3 464.4 184.9 469.3 185.6" fill="#0269e1"/>
<polygon points="434.2 200.1 429.4 199.2 433.5 195.9 438.3 196.8" fill="#274ecc"/>
<polygon points="553.1 146.6 548.2 147.2 552.3 143.5 557.2 142.9" fill="#06a8c4"/>
<polygon points="385.4 214 380.6 212.7 384.6 209.6 389.5 210.9" fill="#362d8d"/>
<polygon points="496.1 176.5 491.2 176.2 495.3 172.7 500.2 173" fill="#127cd8"/>
<polygon points="518.1 166 513.2 166 517.3 162.5 522.2 162.4" fill="#128cd2"/>
<polygon points="394.4 212.1 389.5 210.9 393.6 207.7 398.5 208.9" fill="#363298"/>
<polygon points="474.1 186.1 469.3 185.6 473.3 182.2 478.2 182.7" fill="#076fdf"/>
<polygon points="443.2 197.7 438.3 196.8 442.4 193.5 447.3 194.3" fill="#1757d9"/>
<polygon points="540.1 154.6 535.2 155 539.3 151.3 544.1 150.9" fill="#069fce"/>
<polygon points="403.3 210.1 398.5 208.9 402.5 205.7 407.4 206.8" fill="#3638a2"/>
<polygon points="505 173.1 500.2 173 504.3 169.5 509.1 169.6" fill="#1482d5"/>
<polygon points="452.1 195.1 447.3 194.3 451.4 191 456.2 191.7" fill="#0760e0"/>
<polygon points="412.3 207.9 407.4 206.8 411.5 203.6 416.3 204.7" fill="#353eae"/>
<polygon points="586.2 124.8 583.2 125.7 587.3 121.8 588.7 121.4" fill="#40ba99"/>
<polygon points="483.1 183.1 478.2 182.7 482.3 179.3 487.1 179.7" fill="#0c75dc"/>
<polygon points="527 162.2 522.2 162.4 526.2 158.8 531.1 158.6" fill="#0b95d2"/>
<polygon points="575.1 133.3 570.2 134.5 574.3 130.7 579.2 129.5" fill="#22b4ac"/>
<polygon points="562 142 557.2 142.9 561.3 139.1 566.1 138.2" fill="#0dadbb"/>
<polygon points="421.2 205.7 416.3 204.7 420.4 201.4 425.3 202.4" fill="#3244bb"/>
<polygon points="461.1 192.4 456.2 191.7 460.3 188.3 465.2 189" fill="#0267e1"/>
<polygon points="549 150.3 544.1 150.9 548.2 147.2 553.1 146.6" fill="#06a6c7"/>
<polygon points="430.2 203.4 425.3 202.4 429.4 199.2 434.2 200.1" fill="#2b4bc8"/>
<polygon points="514 169.6 509.1 169.6 513.2 166 518.1 166" fill="#1389d3"/>
<polygon points="492 180 487.1 179.7 491.2 176.2 496.1 176.5" fill="#117ad9"/>
<polygon points="470 189.6 465.2 189 469.3 185.6 474.1 186.1" fill="#056de0"/>
<polygon points="536 158.2 531.1 158.6 535.2 155 540.1 154.6" fill="#079dcf"/>
<polygon points="390.3 215.3 385.4 214 389.5 210.9 394.4 212.1" fill="#363194"/>
<polygon points="439.1 201 434.2 200.1 438.3 196.8 443.2 197.7" fill="#1d54d5"/>
<polygon points="399.2 213.3 394.4 212.1 398.5 208.9 403.3 210.1" fill="#36369f"/>
<polygon points="501 176.7 496.1 176.5 500.2 173 505 173.1" fill="#1480d6"/>
<polygon points="583.7 128.2 579.2 129.5 583.2 125.7 586.2 124.8" fill="#39b99d"/>
<polygon points="571 137.1 566.1 138.2 570.2 134.5 575.1 133.3" fill="#1db3af"/>
<polygon points="448 198.4 443.2 197.7 447.3 194.3 452.1 195.1" fill="#0c5ede"/>
<polygon points="522.9 165.8 518.1 166 522.2 162.4 527 162.2" fill="#0d92d2"/>
<polygon points="408.2 211.2 403.3 210.1 407.4 206.8 412.3 207.9" fill="#353caa"/>
<polygon points="479 186.6 474.1 186.1 478.2 182.7 483.1 183.1" fill="#0b73dd"/>
<polygon points="557.9 145.7 553.1 146.6 557.2 142.9 562 142" fill="#0aacbd"/>
<polygon points="417.1 209 412.3 207.9 416.3 204.7 421.2 205.7" fill="#3342b6"/>
<polygon points="457 195.8 452.1 195.1 456.2 191.7 461.1 192.4" fill="#0265e1"/>
<polygon points="544.9 154 540.1 154.6 544.1 150.9 549 150.3" fill="#06a5c9"/>
<polygon points="509.9 173.1 505 173.1 509.1 169.6 514 169.6" fill="#1487d3"/>
<polygon points="487.9 183.5 483.1 183.1 487.1 179.7 492 180" fill="#1079da"/>
<polygon points="426.1 206.7 421.2 205.7 425.3 202.4 430.2 203.4" fill="#2d49c3"/>
<polygon points="531.9 161.9 527 162.2 531.1 158.6 536 158.2" fill="#079bd0"/>
<polygon points="465.9 193 461.1 192.4 465.2 189 470 189.6" fill="#046ce0"/>
<polygon points="435 204.3 430.2 203.4 434.2 200.1 439.1 201" fill="#2251d1"/>
<polygon points="579.9 131.9 575.1 133.3 579.2 129.5 583.7 128.2 583.1 128.9" fill="#33b8a1"/>
<polygon points="395.1 216.5 390.3 215.3 394.4 212.1 399.2 213.3" fill="#36349b"/>
<polygon points="566.9 140.9 562 142 566.1 138.2 571 137.1" fill="#18b2b2"/>
<polygon points="496.9 180.2 492 180 496.1 176.5 501 176.7" fill="#137fd7"/>
<polygon points="518.8 169.4 514 169.6 518.1 166 522.9 165.8" fill="#0f90d2"/>
<polygon points="444 201.8 439.1 201 443.2 197.7 448 198.4" fill="#105bdd"/>
<polygon points="474.9 190 470 189.6 474.1 186.1 479 186.6" fill="#0971de"/>
<polygon points="553.9 149.5 549 150.3 553.1 146.6 557.9 145.7" fill="#08abc0"/>
<polygon points="404.1 214.4 399.2 213.3 403.3 210.1 408.2 211.2" fill="#363aa6"/>
<polygon points="540.8 157.7 536 158.2 540.1 154.6 544.9 154" fill="#06a3cb"/>
<polygon points="413 212.3 408.2 211.2 412.3 207.9 417.1 209" fill="#3440b2"/>
<polygon points="452.9 199.2 448 198.4 452.1 195.1 457 195.8" fill="#0363e1"/>
<polygon points="505.8 176.7 501 176.7 505 173.1 509.9 173.1" fill="#1485d4"/>
<polygon points="483.8 186.9 479 186.6 483.1 183.1 487.9 183.5" fill="#0e77db"/>
<polygon points="422 210 417.1 209 421.2 205.7 426.1 206.7" fill="#2f46bf"/>
<polygon points="527.8 165.5 522.9 165.8 527 162.2 531.9 161.9" fill="#0899d1"/>
<polygon points="461.9 196.4 457 195.8 461.1 192.4 465.9 193" fill="#036ae1"/>
<polygon points="575.8 135.7 571 137.1 575.1 133.3 579.9 131.9" fill="#2db7a4"/>
<polygon points="430.9 207.6 426.1 206.7 430.2 203.4 435 204.3" fill="#264ecd"/>
<polygon points="562.8 144.7 557.9 145.7 562 142 566.9 140.9" fill="#14b0b5"/>
<polygon points="492.8 183.7 487.9 183.5 492 180 496.9 180.2" fill="#137dd8"/>
<polygon points="514.8 173 509.9 173.1 514 169.6 518.8 169.4" fill="#118dd2"/>
<polygon points="549.8 153.2 544.9 154 549 150.3 553.9 149.5" fill="#07a9c2"/>
<polygon points="470.8 193.5 465.9 193 470 189.6 474.9 190" fill="#0770df"/>
<polygon points="439.9 205.1 435 204.3 439.1 201 444 201.8" fill="#1658d9"/>
<polygon points="400 217.6 395.1 216.5 399.2 213.3 404.1 214.4" fill="#3638a2"/>
<polygon points="536.7 161.3 531.9 161.9 536 158.2 540.8 157.7" fill="#06a1cc"/>
<polygon points="408.9 215.5 404.1 214.4 408.2 211.2 413 212.3" fill="#353eae"/>
<polygon points="448.8 202.5 444 201.8 448 198.4 452.9 199.2" fill="#0661e0"/>
<polygon points="501.7 180.2 496.9 180.2 501 176.7 505.8 176.7" fill="#1483d5"/>
<polygon points="479.7 190.4 474.9 190 479 186.6 483.8 186.9" fill="#0d75dc"/>
<polygon points="523.7 169.1 518.8 169.4 522.9 165.8 527.8 165.5" fill="#0a97d1"/>
<polygon points="417.9 213.3 413 212.3 417.1 209 422 210" fill="#3144bb"/>
<polygon points="457.8 199.8 452.9 199.2 457 195.8 461.9 196.4" fill="#0268e1"/>
<polygon points="571.8 139.5 566.9 140.9 571 137.1 575.8 135.7" fill="#28b6a8"/>
<polygon points="581 131.5 579.9 131.9 583.1 128.9" fill="#49bc94"/>
<polygon points="558.7 148.4 553.9 149.5 557.9 145.7 562.8 144.7" fill="#10afb8"/>
<polygon points="426.8 210.9 422 210 426.1 206.7 430.9 207.6" fill="#2a4cc8"/>
<polygon points="488.7 187.2 483.8 186.9 487.9 183.5 492.8 183.7" fill="#127bd9"/>
<polygon points="510.7 176.6 505.8 176.7 509.9 173.1 514.8 173" fill="#128bd2"/>
<polygon points="545.7 156.9 540.8 157.7 544.9 154 549.8 153.2" fill="#06a8c5"/>
<polygon points="466.7 196.9 461.9 196.4 465.9 193 470.8 193.5" fill="#056ee0"/>
<polygon points="435.8 208.5 430.9 207.6 435 204.3 439.9 205.1" fill="#1c55d6"/>
<polygon points="532.7 165 527.8 165.5 531.9 161.9 536.7 161.3" fill="#069fce"/>
<polygon points="497.6 183.8 492.8 183.7 496.9 180.2 501.7 180.2" fill="#1481d5"/>
<polygon points="444.7 205.9 439.9 205.1 444 201.8 448.8 202.5" fill="#0a5edf"/>
<polygon points="404.9 218.7 400 217.6 404.1 214.4 408.9 215.5" fill="#353caa"/>
<polygon points="475.7 193.9 470.8 193.5 474.9 190 479.7 190.4" fill="#0b74dd"/>
<polygon points="519.6 172.7 514.8 173 518.8 169.4 523.7 169.1" fill="#0c94d2"/>
<polygon points="413.8 216.5 408.9 215.5 413 212.3 417.9 213.3" fill="#3342b7"/>
<polygon points="567.7 143.3 562.8 144.7 566.9 140.9 571.8 139.5" fill="#23b4ab"/>
<polygon points="578.4 134.8 575.8 135.7 579.9 131.9 581 131.5" fill="#42bb98"/>
<polygon points="554.6 152.2 549.8 153.2 553.9 149.5 558.7 148.4" fill="#0daebb"/>
<polygon points="453.7 203.2 448.8 202.5 452.9 199.2 457.8 199.8" fill="#0266e1"/>
<polygon points="422.8 214.2 417.9 213.3 422 210 426.8 210.9" fill="#2d49c4"/>
<polygon points="541.6 160.6 536.7 161.3 540.8 157.7 545.7 156.9" fill="#06a6c7"/>
<polygon points="484.6 190.7 479.7 190.4 483.8 186.9 488.7 187.2" fill="#1079da"/>
<polygon points="506.6 180.1 501.7 180.2 505.8 176.7 510.7 176.6" fill="#1389d3"/>
<polygon points="462.6 200.3 457.8 199.8 461.9 196.4 466.7 196.9" fill="#046ce0"/>
<polygon points="431.7 211.8 426.8 210.9 430.9 207.6 435.8 208.5" fill="#2152d2"/>
<polygon points="528.6 168.6 523.7 169.1 527.8 165.5 532.7 165" fill="#079dcf"/>
<polygon points="493.6 187.3 488.7 187.2 492.8 183.7 497.6 183.8" fill="#1480d6"/>
<polygon points="440.6 209.2 435.8 208.5 439.9 205.1 444.7 205.9" fill="#0f5cdd"/>
<polygon points="471.6 197.3 466.7 196.9 470.8 193.5 475.7 193.9" fill="#0a72de"/>
<polygon points="515.5 176.3 510.7 176.6 514.8 173 519.6 172.7" fill="#0e92d2"/>
<polygon points="575.8 138.2 571.8 139.5 575.8 135.7 578.4 134.8" fill="#3bba9c"/>
<polygon points="563.6 147.1 558.7 148.4 562.8 144.7 567.7 143.3" fill="#1eb3ae"/>
<polygon points="550.5 155.9 545.7 156.9 549.8 153.2 554.6 152.2" fill="#0aacbd"/>
<polygon points="409.7 219.8 404.9 218.7 408.9 215.5 413.8 216.5" fill="#3440b3"/>
<polygon points="449.6 206.5 444.7 205.9 448.8 202.5 453.7 203.2" fill="#0364e1"/>
<polygon points="537.5 164.3 532.7 165 536.7 161.3 541.6 160.6" fill="#06a4c9"/>
<polygon points="502.5 183.7 497.6 183.8 501.7 180.2 506.6 180.1" fill="#1487d3"/>
<polygon points="418.7 217.5 413.8 216.5 417.9 213.3 422.8 214.2" fill="#2f47c0"/>
<polygon points="480.5 194.1 475.7 193.9 479.7 190.4 484.6 190.7" fill="#0f78db"/>
<polygon points="458.5 203.7 453.7 203.2 457.8 199.8 462.6 200.3" fill="#036be1"/>
<polygon points="524.5 172.2 519.6 172.7 523.7 169.1 528.6 168.6" fill="#079bd0"/>
<polygon points="427.6 215.1 422.8 214.2 426.8 210.9 431.7 211.8" fill="#254fce"/>
<polygon points="489.5 190.8 484.6 190.7 488.7 187.2 493.6 187.3" fill="#137ed7"/>
<polygon points="436.6 212.5 431.7 211.8 435.8 208.5 440.6 209.2" fill="#1559da"/>
<polygon points="511.4 179.9 506.6 180.1 510.7 176.6 515.5 176.3" fill="#0f8fd2"/>
<polygon points="572.5 141.7 567.7 143.3 571.8 139.5 575.8 138.2 574.2 140.1" fill="#35b89f"/>
<polygon points="467.5 200.7 462.6 200.3 466.7 196.9 471.6 197.3" fill="#0870df"/>
<polygon points="559.5 150.9 554.6 152.2 558.7 148.4 563.6 147.1" fill="#19b2b1"/>
<polygon points="546.5 159.6 541.6 160.6 545.7 156.9 550.5 155.9" fill="#08abc0"/>
<polygon points="445.5 209.9 440.6 209.2 444.7 205.9 449.6 206.5" fill="#0562e0"/>
<polygon points="533.4 167.9 528.6 168.6 532.7 165 537.5 164.3" fill="#06a3cb"/>
<polygon points="498.4 187.2 493.6 187.3 497.6 183.8 502.5 183.7" fill="#1485d4"/>
<polygon points="476.4 197.6 471.6 197.3 475.7 193.9 480.5 194.1" fill="#0e76dc"/>
<polygon points="414.6 220.7 409.7 219.8 413.8 216.5 418.7 217.5" fill="#3145bc"/>
<polygon points="520.4 175.9 515.5 176.3 519.6 172.7 524.5 172.2" fill="#0899d1"/>
<polygon points="454.5 207.1 449.6 206.5 453.7 203.2 458.5 203.7" fill="#0269e1"/>
<polygon points="423.5 218.4 418.7 217.5 422.8 214.2 427.6 215.1" fill="#294cc9"/>
<polygon points="485.4 194.3 480.5 194.1 484.6 190.7 489.5 190.8" fill="#127cd8"/>
<polygon points="568.4 145.5 563.6 147.1 567.7 143.3 572.5 141.7" fill="#2fb7a3"/>
<polygon points="555.4 154.6 550.5 155.9 554.6 152.2 559.5 150.9" fill="#15b1b4"/>
<polygon points="507.4 183.5 502.5 183.7 506.6 180.1 511.4 179.9" fill="#118dd2"/>
<polygon points="432.5 215.8 427.6 215.1 431.7 211.8 436.6 212.5" fill="#1a56d7"/>
<polygon points="463.4 204.1 458.5 203.7 462.6 200.3 467.5 200.7" fill="#066fdf"/>
<polygon points="542.4 163.3 537.5 164.3 541.6 160.6 546.5 159.6" fill="#07a9c2"/>
<polygon points="529.3 171.6 524.5 172.2 528.6 168.6 533.4 167.9" fill="#06a1cc"/>
<polygon points="441.4 213.2 436.6 212.5 440.6 209.2 445.5 209.9" fill="#095fdf"/>
<polygon points="494.3 190.7 489.5 190.8 493.6 187.3 498.4 187.2" fill="#1483d5"/>
<polygon points="472.3 201 467.5 200.7 471.6 197.3 476.4 197.6" fill="#0c75dd"/>
<polygon points="516.3 179.5 511.4 179.9 515.5 176.3 520.4 175.9" fill="#0a96d1"/>
<polygon points="450.4 210.4 445.5 209.9 449.6 206.5 454.5 207.1" fill="#0267e1"/>
<polygon points="419.4 221.6 414.6 220.7 418.7 217.5 423.5 218.4" fill="#2c4ac5"/>
<polygon points="564.4 149.3 559.5 150.9 563.6 147.1 568.4 145.5" fill="#2ab6a6"/>
<polygon points="551.3 158.4 546.5 159.6 550.5 155.9 555.4 154.6" fill="#11afb7"/>
<polygon points="481.3 197.7 476.4 197.6 480.5 194.1 485.4 194.3" fill="#117bd9"/>
<polygon points="573.1 141.5 572.5 141.7 574.2 140.1" fill="#4dbc92"/>
<polygon points="503.3 187 498.4 187.2 502.5 183.7 507.4 183.5" fill="#128bd3"/>
<polygon points="538.3 167 533.4 167.9 537.5 164.3 542.4 163.3" fill="#06a8c4"/>
<polygon points="459.3 207.5 454.5 207.1 458.5 203.7 463.4 204.1" fill="#056de0"/>
<polygon points="428.4 219.2 423.5 218.4 427.6 215.1 432.5 215.8" fill="#2053d4"/>
<polygon points="525.3 175.2 520.4 175.9 524.5 172.2 529.3 171.6" fill="#069fce"/>
<polygon points="437.3 216.5 432.5 215.8 436.6 212.5 441.4 213.2" fill="#0d5dde"/>
<polygon points="490.2 194.2 485.4 194.3 489.5 190.8 494.3 190.7" fill="#1481d6"/>
<polygon points="468.3 204.4 463.4 204.1 467.5 200.7 472.3 201" fill="#0b73dd"/>
<polygon points="512.2 183.1 507.4 183.5 511.4 179.9 516.3 179.5" fill="#0c94d2"/>
<polygon points="446.3 213.8 441.4 213.2 445.5 209.9 450.4 210.4" fill="#0265e1"/>
<polygon points="560.3 153.1 555.4 154.6 559.5 150.9 564.4 149.3" fill="#25b5aa"/>
<polygon points="547.2 162.1 542.4 163.3 546.5 159.6 551.3 158.4" fill="#0eaeba"/>
<polygon points="570.4 144.8 568.4 145.5 572.5 141.7 573.1 141.5" fill="#46bb96"/>
<polygon points="477.2 201.2 472.3 201 476.4 197.6 481.3 197.7" fill="#1079da"/>
<polygon points="499.2 190.6 494.3 190.7 498.4 187.2 503.3 187" fill="#1388d3"/>
<polygon points="534.2 170.7 529.3 171.6 533.4 167.9 538.3 167" fill="#06a6c6"/>
<polygon points="455.2 210.9 450.4 210.4 454.5 207.1 459.3 207.5" fill="#036be0"/>
<polygon points="424.3 222.4 419.4 221.6 423.5 218.4 428.4 219.2" fill="#2450cf"/>
<polygon points="521.2 178.8 516.3 179.5 520.4 175.9 525.3 175.2" fill="#079dcf"/>
<polygon points="486.2 197.7 481.3 197.7 485.4 194.3 490.2 194.2" fill="#137fd7"/>
<polygon points="433.2 219.9 428.4 219.2 432.5 215.8 437.3 216.5" fill="#125adc"/>
<polygon points="464.2 207.9 459.3 207.5 463.4 204.1 468.3 204.4" fill="#0971de"/>
<polygon points="508.1 186.6 503.3 187 507.4 183.5 512.2 183.1" fill="#0e92d2"/>
<polygon points="556.2 156.9 551.3 158.4 555.4 154.6 560.3 153.1" fill="#20b4ad"/>
<polygon points="442.2 217.2 437.3 216.5 441.4 213.2 446.3 213.8" fill="#0363e1"/>
<polygon points="567.6 148.1 564.4 149.3 568.4 145.5 570.4 144.8" fill="#3fba99"/>
<polygon points="543.1 165.8 538.3 167 542.4 163.3 547.2 162.1" fill="#0badbc"/>
<polygon points="473.1 204.6 468.3 204.4 472.3 201 477.2 201.2" fill="#0f77db"/>
<polygon points="495.1 194.1 490.2 194.2 494.3 190.7 499.2 190.6" fill="#1486d3"/>
<polygon points="530.1 174.3 525.3 175.2 529.3 171.6 534.2 170.7" fill="#06a5c8"/>
<polygon points="451.1 214.3 446.3 213.8 450.4 210.4 455.2 210.9" fill="#026ae1"/>
<polygon points="517.1 182.4 512.2 183.1 516.3 179.5 521.2 178.8" fill="#079bd0"/>
<polygon points="482.1 201.2 477.2 201.2 481.3 197.7 486.2 197.7" fill="#137dd7"/>
<polygon points="429.2 223.2 424.3 222.4 428.4 219.2 433.2 219.9" fill="#1857d8"/>
<polygon points="460.1 211.3 455.2 210.9 459.3 207.5 464.2 207.9" fill="#0770df"/>
<polygon points="504 190.2 499.2 190.6 503.3 187 508.1 186.6" fill="#0f8fd2"/>
<polygon points="552.1 160.6 547.2 162.1 551.3 158.4 556.2 156.9" fill="#1bb2b0"/>
<polygon points="564.9 151.4 560.3 153.1 564.4 149.3 567.6 148.1" fill="#39b99d"/>
<polygon points="539.1 169.5 534.2 170.7 538.3 167 543.1 165.8" fill="#09abbf"/>
<polygon points="438.1 220.5 433.2 219.9 437.3 216.5 442.2 217.2" fill="#0761e0"/>
<polygon points="526 178 521.2 178.8 525.3 175.2 530.1 174.3" fill="#06a3ca"/>
<polygon points="469 208.1 464.2 207.9 468.3 204.4 473.1 204.6" fill="#0d76dc"/>
<polygon points="491 197.6 486.2 197.7 490.2 194.2 495.1 194.1" fill="#1484d4"/>
<polygon points="447.1 217.7 442.2 217.2 446.3 213.8 451.1 214.3" fill="#0268e1"/>
<polygon points="513 186 508.1 186.6 512.2 183.1 517.1 182.4" fill="#0899d1"/>
<polygon points="478 204.7 473.1 204.6 477.2 201.2 482.1 201.2" fill="#127cd8"/>
<polygon points="456 214.7 451.1 214.3 455.2 210.9 460.1 211.3" fill="#066edf"/>
<polygon points="500 193.7 495.1 194.1 499.2 190.6 504 190.2" fill="#118dd2"/>
<polygon points="548 164.4 543.1 165.8 547.2 162.1 552.1 160.6" fill="#17b1b3"/>
<polygon points="561 155.1 556.2 156.9 560.3 153.1 564.9 151.4 564.4 151.9" fill="#33b8a1"/>
<polygon points="535 173.2 530.1 174.3 534.2 170.7 539.1 169.5" fill="#07aac1"/>
<polygon points="434 223.8 429.2 223.2 433.2 219.9 438.1 220.5" fill="#0b5edf"/>
<polygon points="521.9 181.6 517.1 182.4 521.2 178.8 526 178" fill="#06a1cc"/>
<polygon points="486.9 201.1 482.1 201.2 486.2 197.7 491 197.6" fill="#1482d5"/>
<polygon points="464.9 211.5 460.1 211.3 464.2 207.9 469 208.1" fill="#0c74dd"/>
<polygon points="508.9 189.6 504 190.2 508.1 186.6 513 186" fill="#0a97d1"/>
<polygon points="443 221 438.1 220.5 442.2 217.2 447.1 217.7" fill="#0266e1"/>
<polygon points="473.9 208.1 469 208.1 473.1 204.6 478 204.7" fill="#117ad9"/>
<polygon points="495.9 197.3 491 197.6 495.1 194.1 500 193.7" fill="#128ad3"/>
<polygon points="451.9 218 447.1 217.7 451.1 214.3 456 214.7" fill="#046de0"/>
<polygon points="543.9 168.1 539.1 169.5 543.1 165.8 548 164.4" fill="#13b0b6"/>
<polygon points="557 158.9 552.1 160.6 556.2 156.9 561 155.1" fill="#2db7a4"/>
<polygon points="530.9 176.9 526 178 530.1 174.3 535 173.2" fill="#06a8c4"/>
<polygon points="517.9 185.2 513 186 517.1 182.4 521.9 181.6" fill="#06a0cd"/>
<polygon points="482.8 204.6 478 204.7 482.1 201.2 486.9 201.1" fill="#1481d6"/>
<polygon points="460.9 214.9 456 214.7 460.1 211.3 464.9 211.5" fill="#0a73de"/>
<polygon points="504.8 193.2 500 193.7 504 190.2 508.9 189.6" fill="#0c94d2"/>
<polygon points="438.9 224.3 434 223.8 438.1 220.5 443 221" fill="#0364e1"/>
<polygon points="469.8 211.6 464.9 211.5 469 208.1 473.9 208.1" fill="#1079da"/>
<polygon points="552.9 162.6 548 164.4 552.1 160.6 557 158.9" fill="#28b6a8"/>
<polygon points="491.8 200.8 486.9 201.1 491 197.6 495.9 197.3" fill="#1388d3"/>
<polygon points="539.8 171.8 535 173.2 539.1 169.5 543.9 168.1" fill="#10afb9"/>
<polygon points="447.8 221.4 443 221 447.1 217.7 451.9 218" fill="#036be0"/>
<polygon points="562.1 154.6 561 155.1 564.4 151.9" fill="#4cbc92"/>
<polygon points="526.8 180.6 521.9 181.6 526 178 530.9 176.9" fill="#06a7c6"/>
<polygon points="513.8 188.9 508.9 189.6 513 186 517.9 185.2" fill="#079ecf"/>
<polygon points="478.8 208.1 473.9 208.1 478 204.7 482.8 204.6" fill="#137fd7"/>
<polygon points="456.8 218.3 451.9 218 456 214.7 460.9 214.9" fill="#0871de"/>
<polygon points="500.7 196.8 495.9 197.3 500 193.7 504.8 193.2" fill="#0d92d2"/>
<polygon points="548.8 166.4 543.9 168.1 548 164.4 552.9 162.6" fill="#23b5ab"/>
<polygon points="465.7 215 460.9 214.9 464.9 211.5 469.8 211.6" fill="#0f77db"/>
<polygon points="535.7 175.5 530.9 176.9 535 173.2 539.8 171.8" fill="#0dadbb"/>
<polygon points="487.7 204.3 482.8 204.6 486.9 201.1 491.8 200.8" fill="#1486d3"/>
<polygon points="559.2 157.8 557 158.9 561 155.1 562.1 154.6" fill="#45bb96"/>
<polygon points="522.7 184.2 517.9 185.2 521.9 181.6 526.8 180.6" fill="#06a5c8"/>
<polygon points="443.7 224.8 438.9 224.3 443 221 447.8 221.4" fill="#0269e1"/>
<polygon points="509.7 192.5 504.8 193.2 508.9 189.6 513.8 188.9" fill="#079cd0"/>
<polygon points="474.7 211.5 469.8 211.6 473.9 208.1 478.8 208.1" fill="#137dd8"/>
<polygon points="452.7 221.7 447.8 221.4 451.9 218 456.8 218.3" fill="#076fdf"/>
<polygon points="496.6 200.3 491.8 200.8 495.9 197.3 500.7 196.8" fill="#0f90d2"/>
<polygon points="544.7 170.1 539.8 171.8 543.9 168.1 548.8 166.4" fill="#1fb3ae"/>
<polygon points="531.7 179.2 526.8 180.6 530.9 176.9 535.7 175.5" fill="#0aacbe"/>
<polygon points="556.4 161.1 552.9 162.6 557 158.9 559.2 157.8" fill="#3eba9a"/>
<polygon points="461.6 218.4 456.8 218.3 460.9 214.9 465.7 215" fill="#0d76dc"/>
<polygon points="483.6 207.8 478.8 208.1 482.8 204.6 487.7 204.3" fill="#1484d4"/>
<polygon points="518.6 187.8 513.8 188.9 517.9 185.2 522.7 184.2" fill="#06a4ca"/>
<polygon points="505.6 196 500.7 196.8 504.8 193.2 509.7 192.5" fill="#089ad1"/>
<polygon points="470.6 215 465.7 215 469.8 211.6 474.7 211.5" fill="#127cd8"/>
<polygon points="448.6 225.1 443.7 224.8 447.8 221.4 452.7 221.7" fill="#056ee0"/>
<polygon points="492.6 203.8 487.7 204.3 491.8 200.8 496.6 200.3" fill="#118dd2"/>
<polygon points="540.6 173.8 535.7 175.5 539.8 171.8 544.7 170.1" fill="#1ab2b1"/>
<polygon points="527.6 182.9 522.7 184.2 526.8 180.6 531.7 179.2" fill="#08abc0"/>
<polygon points="553.6 164.3 548.8 166.4 552.9 162.6 556.4 161.1" fill="#38b99d"/>
<polygon points="457.5 221.8 452.7 221.7 456.8 218.3 461.6 218.4" fill="#0c74dd"/>
<polygon points="479.5 211.3 474.7 211.5 478.8 208.1 483.6 207.8" fill="#1483d5"/>
<polygon points="514.5 191.5 509.7 192.5 513.8 188.9 518.6 187.8" fill="#06a2cb"/>
<polygon points="501.5 199.6 496.6 200.3 500.7 196.8 505.6 196" fill="#0997d1"/>
<polygon points="466.5 218.4 461.6 218.4 465.7 215 470.6 215" fill="#117ad9"/>
<polygon points="488.5 207.4 483.6 207.8 487.7 204.3 492.6 203.8" fill="#128bd2"/>
<polygon points="536.5 177.6 531.7 179.2 535.7 175.5 540.6 173.8" fill="#16b1b4"/>
<polygon points="549.6 168.1 544.7 170.1 548.8 166.4 553.6 164.3 553.3 164.6" fill="#33b8a1"/>
<polygon points="523.5 186.5 518.6 187.8 522.7 184.2 527.6 182.9" fill="#07a9c2"/>
<polygon points="510.5 195.1 505.6 196 509.7 192.5 514.5 191.5" fill="#06a0cd"/>
<polygon points="453.5 225.2 448.6 225.1 452.7 221.7 457.5 221.8" fill="#0a72de"/>
<polygon points="475.4 214.8 470.6 215 474.7 211.5 479.5 211.3" fill="#1481d6"/>
<polygon points="497.4 203.2 492.6 203.8 496.6 200.3 501.5 199.6" fill="#0b95d2"/>
<polygon points="462.4 221.8 457.5 221.8 461.6 218.4 466.5 218.4" fill="#1079da"/>
<polygon points="484.4 210.9 479.5 211.3 483.6 207.8 488.5 207.4" fill="#1389d3"/>
<polygon points="532.4 181.3 527.6 182.9 531.7 179.2 536.5 177.6" fill="#12b0b6"/>
<polygon points="545.5 171.8 540.6 173.8 544.7 170.1 549.6 168.1" fill="#2db7a4"/>
<polygon points="519.4 190.2 514.5 191.5 518.6 187.8 523.5 186.5" fill="#06a8c4"/>
<polygon points="506.4 198.7 501.5 199.6 505.6 196 510.5 195.1" fill="#069fce"/>
<polygon points="471.4 218.2 466.5 218.4 470.6 215 475.4 214.8" fill="#137fd7"/>
<polygon points="493.3 206.7 488.5 207.4 492.6 203.8 497.4 203.2" fill="#0d93d2"/>
<polygon points="458.3 225.2 453.5 225.2 457.5 221.8 462.4 221.8" fill="#0f77db"/>
<polygon points="480.3 214.4 475.4 214.8 479.5 211.3 484.4 210.9" fill="#1487d3"/>
<polygon points="528.3 185 523.5 186.5 527.6 182.9 532.4 181.3" fill="#0faeb9"/>
<polygon points="541.4 175.6 536.5 177.6 540.6 173.8 545.5 171.8" fill="#28b6a8"/>
<polygon points="515.3 193.8 510.5 195.1 514.5 191.5 519.4 190.2" fill="#06a6c6"/>
<polygon points="550.6 167.5 549.6 168.1 553.3 164.6" fill="#4dbc92"/>
<polygon points="502.3 202.2 497.4 203.2 501.5 199.6 506.4 198.7" fill="#079dcf"/>
<polygon points="467.3 221.7 462.4 221.8 466.5 218.4 471.4 218.2" fill="#137ed7"/>
<polygon points="489.2 210.2 484.4 210.9 488.5 207.4 493.3 206.7" fill="#0f90d2"/>
<polygon points="476.2 217.8 471.4 218.2 475.4 214.8 480.3 214.4" fill="#1485d4"/>
<polygon points="524.3 188.6 519.4 190.2 523.5 186.5 528.3 185" fill="#0cadbc"/>
<polygon points="537.3 179.3 532.4 181.3 536.5 177.6 541.4 175.6" fill="#23b5ab"/>
<polygon points="511.2 197.4 506.4 198.7 510.5 195.1 515.3 193.8" fill="#06a5c8"/>
<polygon points="547.7 170.7 545.5 171.8 549.6 168.1 550.6 167.5" fill="#46bb95"/>
<polygon points="498.2 205.8 493.3 206.7 497.4 203.2 502.3 202.2" fill="#089bd0"/>
<polygon points="463.2 225.1 458.3 225.2 462.4 221.8 467.3 221.7" fill="#127cd8"/>
<polygon points="485.2 213.7 480.3 214.4 484.4 210.9 489.2 210.2" fill="#108ed2"/>
<polygon points="472.1 221.3 467.3 221.7 471.4 218.2 476.2 217.8" fill="#1483d5"/>
<polygon points="520.2 192.3 515.3 193.8 519.4 190.2 524.3 188.6" fill="#0aacbe"/>
<polygon points="533.2 183 528.3 185 532.4 181.3 537.3 179.3" fill="#1fb3ae"/>
<polygon points="507.1 201.1 502.3 202.2 506.4 198.7 511.2 197.4" fill="#06a3ca"/>
<polygon points="544.7 173.9 541.4 175.6 545.5 171.8 547.7 170.7" fill="#40ba99"/>
<polygon points="494.1 209.4 489.2 210.2 493.3 206.7 498.2 205.8" fill="#0899d1"/>
<polygon points="481.1 217.2 476.2 217.8 480.3 214.4 485.2 213.7" fill="#128cd2"/>
<polygon points="529.1 186.7 524.3 188.6 528.3 185 533.2 183" fill="#1ab2b1"/>
<polygon points="516.1 195.9 511.2 197.4 515.3 193.8 520.2 192.3" fill="#08aac0"/>
<polygon points="468 224.8 463.2 225.1 467.3 221.7 472.1 221.3" fill="#1481d5"/>
<polygon points="541.8 177.1 537.3 179.3 541.4 175.6 544.7 173.9" fill="#3ab99d"/>
<polygon points="503.1 204.6 498.2 205.8 502.3 202.2 507.1 201.1" fill="#06a2cc"/>
<polygon points="490 212.9 485.2 213.7 489.2 210.2 494.1 209.4" fill="#0a96d1"/>
<polygon points="477 220.7 472.1 221.3 476.2 217.8 481.1 217.2" fill="#138ad3"/>
<polygon points="525 190.4 520.2 192.3 524.3 188.6 529.1 186.7" fill="#16b1b3"/>
<polygon points="512 199.6 507.1 201.1 511.2 197.4 516.1 195.9" fill="#07a9c2"/>
<polygon points="538.1 180.6 533.2 183 537.3 179.3 541.8 177.1 540.8 178.2" fill="#34b8a0"/>
<polygon points="499 208.2 494.1 209.4 498.2 205.8 503.1 204.6" fill="#06a0cd"/>
<polygon points="485.9 216.4 481.1 217.2 485.2 213.7 490 212.9" fill="#0c94d2"/>
<polygon points="472.9 224.2 468 224.8 472.1 221.3 477 220.7" fill="#1388d3"/>
<polygon points="520.9 194.1 516.1 195.9 520.2 192.3 525 190.4" fill="#13b0b6"/>
<polygon points="507.9 203.2 503.1 204.6 507.1 201.1 512 199.6" fill="#06a8c4"/>
<polygon points="534 184.4 529.1 186.7 533.2 183 538.1 180.6" fill="#2fb7a3"/>
<polygon points="494.9 211.8 490 212.9 494.1 209.4 499 208.2" fill="#069ece"/>
<polygon points="481.8 219.9 477 220.7 481.1 217.2 485.9 216.4" fill="#0d92d2"/>
<polygon points="516.9 197.7 512 199.6 516.1 195.9 520.9 194.1" fill="#0fafb9"/>
<polygon points="503.8 206.8 499 208.2 503.1 204.6 507.9 203.2" fill="#06a6c6"/>
<polygon points="529.9 188.1 525 190.4 529.1 186.7 534 184.4" fill="#2ab6a6"/>
<polygon points="490.8 215.3 485.9 216.4 490 212.9 494.9 211.8" fill="#079ccf"/>
<polygon points="538.8 180.3 538.1 180.6 540.8 178.2" fill="#51bd90"/>
<polygon points="477.8 223.4 472.9 224.2 477 220.7 481.8 219.9" fill="#0f90d2"/>
<polygon points="512.8 201.4 507.9 203.2 512 199.6 516.9 197.7" fill="#0dadbb"/>
<polygon points="499.7 210.4 494.9 211.8 499 208.2 503.8 206.8" fill="#06a5c8"/>
<polygon points="525.8 191.8 520.9 194.1 525 190.4 529.9 188.1" fill="#25b5aa"/>
<polygon points="486.7 218.9 481.8 219.9 485.9 216.4 490.8 215.3" fill="#089ad0"/>
<polygon points="535.7 183.4 534 184.4 538.1 180.6 538.8 180.3" fill="#4bbc93"/>
<polygon points="508.7 205 503.8 206.8 507.9 203.2 512.8 201.4" fill="#0aacbd"/>
<polygon points="521.7 195.5 516.9 197.7 520.9 194.1 525.8 191.8" fill="#21b4ac"/>
<polygon points="495.7 213.9 490.8 215.3 494.9 211.8 499.7 210.4" fill="#06a3ca"/>
<polygon points="532.6 186.5 529.9 188.1 534 184.4 535.7 183.4" fill="#44bb97"/>
<polygon points="482.6 222.4 477.8 223.4 481.8 219.9 486.7 218.9" fill="#0998d1"/>
<polygon points="504.6 208.6 499.7 210.4 503.8 206.8 508.7 205" fill="#08abc0"/>
<polygon points="517.6 199.1 512.8 201.4 516.9 197.7 521.7 195.5" fill="#1cb3af"/>
<polygon points="491.6 217.5 486.7 218.9 490.8 215.3 495.7 213.9" fill="#06a2cc"/>
<polygon points="529.6 189.7 525.8 191.8 529.9 188.1 532.6 186.5" fill="#3eba9a"/>
<polygon points="500.5 212.2 495.7 213.9 499.7 210.4 504.6 208.6" fill="#07a9c2"/>
<polygon points="513.5 202.8 508.7 205 512.8 201.4 517.6 199.1" fill="#18b2b2"/>
<polygon points="487.5 221 482.6 222.4 486.7 218.9 491.6 217.5" fill="#06a0cd"/>
<polygon points="526.5 192.8 521.7 195.5 525.8 191.8 529.6 189.7" fill="#38b99d"/>
<polygon points="496.4 215.8 491.6 217.5 495.7 213.9 500.5 212.2" fill="#06a8c4"/>
<polygon points="509.5 206.4 504.6 208.6 508.7 205 513.5 202.8" fill="#15b0b5"/>
<polygon points="522.5 196.5 517.6 199.1 521.7 195.5 526.5 192.8 526.3 193" fill="#33b8a1"/>
<polygon points="492.3 219.4 487.5 221 491.6 217.5 496.4 215.8" fill="#06a7c6"/>
<polygon points="505.4 210.1 500.5 212.2 504.6 208.6 509.5 206.4" fill="#11afb7"/>
<polygon points="518.4 200.1 513.5 202.8 517.6 199.1 522.5 196.5" fill="#2eb7a4"/>
<polygon points="501.3 213.7 496.4 215.8 500.5 212.2 505.4 210.1" fill="#0eaeba"/>
<polygon points="514.3 203.8 509.5 206.4 513.5 202.8 518.4 200.1" fill="#29b6a7"/>
<polygon points="523.4 195.9 522.5 196.5 526.3 193" fill="#52bd8f"/>
<polygon points="497.2 217.3 492.3 219.4 496.4 215.8 501.3 213.7" fill="#0cadbc"/>
<polygon points="510.2 207.5 505.4 210.1 509.5 206.4 514.3 203.8" fill="#25b5aa"/>
<polygon points="520.2 199 518.4 200.1 522.5 196.5 523.4 195.9" fill="#4cbc92"/>
<polygon points="506.1 211.1 501.3 213.7 505.4 210.1 510.2 207.5" fill="#20b4ad"/>
<polygon points="517 202.1 514.3 203.8 518.4 200.1 520.2 199" fill="#46bb96"/>
<polygon points="502.1 214.7 497.2 217.3 501.3 213.7 506.1 211.1" fill="#1cb3af"/>
<polygon points="513.8 205.2 510.2 207.5 514.3 203.8 517 202.1" fill="#40ba99"/>
<polygon points="510.7 208.2 506.1 211.1 510.2 207.5 513.8 205.2" fill="#3ab99c"/>
<polygon points="506.9 211.7 502.1 214.7 506.1 211.1 510.7 208.2 509.4 209.5" fill="#35b89f"/>
<polygon points="507.4 211.3 506.9 211.7 509.4 209.5" fill="#58bd8c"/>
</g>
<polygon points="375.7 150.4 521.5 217.8 644.1 137.9 498.3 70.5" fill="#36bd9b"/>
<path d="M380.6 152.6L503.2 72.7M385.4 154.9L508 75M390.3 157.1L512.9 77.2M395.1 159.4L517.7 79.5M400 161.6L522.6 81.7M404.9 163.9L527.5 84M409.7 166.1L532.3 86.2M414.6 168.3L537.2 88.4M419.4 170.6L542 90.7M424.3 172.8L546.9 92.9M429.2 175.1L551.8 95.2M434 177.3L556.6 97.4M438.9 179.6L561.5 99.7M443.7 181.8L566.3 101.9M448.6 184.1L571.2 104.2M453.5 186.3L576.1 106.4M458.3 188.6L580.9 108.7M463.2 190.8L585.8 110.9M468 193.1L590.6 113.2M472.9 195.3L595.5 115.4M477.8 197.6L600.4 117.7M482.6 199.8L605.2 119.9M487.5 202.1L610.1 122.2M492.3 204.3L614.9 124.4M497.2 206.6L619.8 126.7M502.1 208.8L624.7 128.9M506.9 211.1L629.5 131.2M511.8 213.3L634.4 133.4M516.6 215.6L639.2 135.7M379.8 147.7L525.6 215.1M383.9 145L529.7 212.5M388 142.4L533.8 209.8M392 139.7L537.8 207.2M396.1 137L541.9 204.5M400.2 134.4L546 201.8M404.3 131.7L550.1 199.2M408.4 129.1L554.2 196.5M412.5 126.4L558.3 193.8M416.6 123.7L562.4 191.2M420.7 121.1L566.5 188.5M424.7 118.4L570.5 185.8M428.8 115.7L574.6 183.2M432.9 113.1L578.7 180.5M437 110.4L582.8 177.9M441.1 107.7L586.9 175.2M445.2 105.1L591 172.5M449.3 102.4L595.1 169.9M453.3 99.8L599.1 167.2M457.4 97.1L603.2 164.5M461.5 94.4L607.3 161.9M465.6 91.8L611.4 159.2M469.7 89.1L615.5 156.5M473.8 86.4L619.6 153.9M477.9 83.8L623.7 151.2M482 81.1L627.8 148.6M486 78.5L631.8 145.9M490.1 75.8L635.9 143.2M494.2 73.1L640 140.6" fill="none"/>
<g stroke-width="1.0">
<polygon points="591.4 118 591.3 118 593.7 114.6 595.5 114.1" fill="#38b99e"/>
<polygon points="591.3 118 591.4 118 591 118.3" fill="#32b8a1"/>
<polygon points="596.3 116.5 591.4 118 595.5 114.1 600.4 112.6" fill="#4ebc91"/>
<polygon points="592.2 120.3 588.7 121.4 591 118.3 591.4 118 596.3 116.5" fill="#47bb95"/>
<polygon points="588.1 124.2 586.2 124.8 588.7 121.4 592.2 120.3" fill="#40ba99"/>
<polygon points="601.1 114.6 596.3 116.5 600.4 112.6 605.2 110.7" fill="#67be85"/>
<polygon points="584 128.1 583.7 128.2 586.2 124.8 588.1 124.2" fill="#39b99d"/>
<polygon points="597 118.5 592.2 120.3 596.3 116.5 601.1 114.6" fill="#60be88"/>
<polygon points="583.7 128.2 584 128.1 583.1 128.9" fill="#33b8a1"/>
<polygon points="593 122.4 588.1 124.2 592.2 120.3 597 118.5" fill="#58bd8c"/>
<polygon points="606 112.5 601.1 114.6 605.2 110.7 610.1 108.5" fill="#82bf79"/>
<polygon points="588.9 126.3 584 128.1 588.1 124.2 593 122.4" fill="#50bc90"/>
<polygon points="601.9 116.4 597 118.5 601.1 114.6 606 112.5" fill="#7bbf7c"/>
<polygon points="584.8 130.2 581 131.5 583.1 128.9 584 128.1 588.9 126.3" fill="#49bc94"/>
<polygon points="597.8 120.4 593 122.4 597 118.5 601.9 116.4" fill="#73bf7f"/>
<polygon points="610.9 110 606 112.5 610.1 108.5 614.9 106" fill="#9cbf6e"/>
<polygon points="580.7 134.1 578.4 134.8 581 131.5 584.8 130.2" fill="#42bb98"/>
<polygon points="593.7 124.3 588.9 126.3 593 122.4 597.8 120.4" fill="#6bbf83"/>
<polygon points="606.8 114 601.9 116.4 606 112.5 610.9 110" fill="#95bf71"/>
<polygon points="576.6 137.9 575.8 138.2 578.4 134.8 580.7 134.1" fill="#3bba9c"/>
<polygon points="589.6 128.2 584.8 130.2 588.9 126.3 593.7 124.3" fill="#64be86"/>
<polygon points="602.7 117.9 597.8 120.4 601.9 116.4 606.8 114" fill="#8fbf74"/>
<polygon points="615.7 107.1 610.9 110 614.9 106 619.8 103" fill="#b6bd64"/>
<polygon points="575.8 138.2 576.6 137.9 574.2 140.1" fill="#35b89f"/>
<polygon points="585.6 132.1 580.7 134.1 584.8 130.2 589.6 128.2" fill="#5cbe8a"/>
<polygon points="598.6 121.9 593.7 124.3 597.8 120.4 602.7 117.9" fill="#87bf77"/>
<polygon points="611.6 111.1 606.8 114 610.9 110 615.7 107.1" fill="#afbe67"/>
<polygon points="581.5 135.9 576.6 137.9 580.7 134.1 585.6 132.1" fill="#54bd8e"/>
<polygon points="594.5 125.8 589.6 128.2 593.7 124.3 598.6 121.9" fill="#80bf7a"/>
<polygon points="607.5 115 602.7 117.9 606.8 114 611.6 111.1" fill="#a9be69"/>
<polygon points="577.4 139.8 573.1 141.5 574.2 140.1 576.6 137.9 581.5 135.9" fill="#4dbc92"/>
<polygon points="620.6 103.7 615.7 107.1 619.8 103 624.7 99.6" fill="#cfbb5a"/>
<polygon points="590.4 129.7 585.6 132.1 589.6 128.2 594.5 125.8" fill="#79bf7d"/>
<polygon points="603.5 119 598.6 121.9 602.7 117.9 607.5 115" fill="#a2be6c"/>
<polygon points="573.3 143.6 570.4 144.8 573.1 141.5 577.4 139.8" fill="#46bb96"/>
<polygon points="616.5 107.7 611.6 111.1 615.7 107.1 620.6 103.7" fill="#c9bb5c"/>
<polygon points="586.3 133.6 581.5 135.9 585.6 132.1 590.4 129.7" fill="#71bf80"/>
<polygon points="599.4 123 594.5 125.8 598.6 121.9 603.5 119" fill="#9cbf6e"/>
<polygon points="612.4 111.7 607.5 115 611.6 111.1 616.5 107.7" fill="#c3bc5f"/>
<polygon points="569.2 147.5 567.6 148.1 570.4 144.8 573.3 143.6" fill="#3fba99"/>
<polygon points="582.2 137.5 577.4 139.8 581.5 135.9 586.3 133.6" fill="#69be84"/>
<polygon points="595.3 126.9 590.4 129.7 594.5 125.8 599.4 123" fill="#95bf71"/>
<polygon points="625.4 99.7 620.6 103.7 624.7 99.6 629.5 95.6" fill="#eab94e"/>
<polygon points="608.3 115.7 603.5 119 607.5 115 612.4 111.7" fill="#bdbd61"/>
<polygon points="565.1 151.3 564.9 151.4 567.6 148.1 569.2 147.5" fill="#39b99d"/>
<polygon points="578.2 141.4 573.3 143.6 577.4 139.8 582.2 137.5" fill="#62be87"/>
<polygon points="591.2 130.9 586.3 133.6 590.4 129.7 595.3 126.9" fill="#8ebf74"/>
<polygon points="621.3 103.8 616.5 107.7 620.6 103.7 625.4 99.7" fill="#e4b951"/>
<polygon points="604.2 119.7 599.4 123 603.5 119 608.3 115.7" fill="#b7bd64"/>
<polygon points="564.9 151.4 565.1 151.3 564.4 151.9" fill="#33b8a1"/>
<polygon points="574.1 145.2 569.2 147.5 573.3 143.6 578.2 141.4" fill="#5abd8b"/>
<polygon points="587.1 134.8 582.2 137.5 586.3 133.6 591.2 130.9" fill="#87bf77"/>
<polygon points="617.3 107.8 612.4 111.7 616.5 107.7 621.3 103.8" fill="#deba53"/>
<polygon points="600.1 123.7 595.3 126.9 599.4 123 604.2 119.7" fill="#b1bd66"/>
<polygon points="570 149.1 565.1 151.3 569.2 147.5 574.1 145.2" fill="#53bd8f"/>
<polygon points="630.3 95.1 625.4 99.7 629.5 95.6 634.4 91" fill="#fec239"/>
<polygon points="583 138.7 578.2 141.4 582.2 137.5 587.1 134.8" fill="#80bf7a"/>
<polygon points="613.2 111.9 608.3 115.7 612.4 111.7 617.3 107.8" fill="#d8ba56"/>
<polygon points="596.1 127.7 591.2 130.9 595.3 126.9 600.1 123.7" fill="#aabe69"/>
<polygon points="565.9 152.9 562.1 154.6 564.4 151.9 565.1 151.3 570 149.1" fill="#4cbc92"/>
<polygon points="626.2 99.2 621.3 103.8 625.4 99.7 630.3 95.1" fill="#fdbe3d"/>
<polygon points="578.9 142.6 574.1 145.2 578.2 141.4 583 138.7" fill="#79bf7d"/>
<polygon points="609.1 115.9 604.2 119.7 608.3 115.7 613.2 111.9" fill="#d2bb59"/>
<polygon points="592 131.6 587.1 134.8 591.2 130.9 596.1 127.7" fill="#a4be6b"/>
<polygon points="561.8 156.7 559.2 157.8 562.1 154.6 565.9 152.9" fill="#45bb96"/>
<polygon points="622.1 103.3 617.3 107.8 621.3 103.8 626.2 99.2" fill="#f9bb42"/>
<polygon points="605 119.9 600.1 123.7 604.2 119.7 609.1 115.9" fill="#ccbb5b"/>
<polygon points="574.8 146.4 570 149.1 574.1 145.2 578.9 142.6" fill="#72bf80"/>
<polygon points="587.9 135.5 583 138.7 587.1 134.8 592 131.6" fill="#9ebe6e"/>
<polygon points="618 107.4 613.2 111.9 617.3 107.8 622.1 103.3" fill="#f4ba47"/>
<polygon points="557.7 160.5 556.4 161.1 559.2 157.8 561.8 156.7" fill="#3eba9a"/>
<polygon points="635.2 89.8 630.3 95.1 634.4 91 639.2 85.7" fill="#f8d727"/>
<polygon points="600.9 123.9 596.1 127.7 600.1 123.7 605 119.9" fill="#c6bc5d"/>
<polygon points="570.8 150.3 565.9 152.9 570 149.1 574.8 146.4" fill="#6abe83"/>
<polygon points="583.8 139.5 578.9 142.6 583 138.7 587.9 135.5" fill="#97bf70"/>
<polygon points="613.9 111.5 609.1 115.9 613.2 111.9 618 107.4" fill="#efb94b"/>
<polygon points="631.1 94 626.2 99.2 630.3 95.1 635.2 89.8" fill="#fad32a"/>
<polygon points="553.6 164.3 553.6 164.3 556.4 161.1 557.7 160.5" fill="#38b99d"/>
<polygon points="596.8 127.9 592 131.6 596.1 127.7 600.9 123.9" fill="#c0bc60"/>
<polygon points="566.7 154.1 561.8 156.7 565.9 152.9 570.8 150.3" fill="#63be87"/>
<polygon points="579.7 143.4 574.8 146.4 578.9 142.6 583.8 139.5" fill="#91bf73"/>
<polygon points="609.9 115.5 605 119.9 609.1 115.9 613.9 111.5" fill="#e9b94e"/>
<polygon points="627 98.1 622.1 103.3 626.2 99.2 631.1 94" fill="#fccf2d"/>
<polygon points="553.6 164.3 553.6 164.3 553.3 164.6" fill="#33b8a1"/>
<polygon points="592.7 131.9 587.9 135.5 592 131.6 596.8 127.9" fill="#babd62"/>
<polygon points="562.6 158 557.7 160.5 561.8 156.7 566.7 154.1" fill="#5bbd8a"/>
<polygon points="575.6 147.3 570.8 150.3 574.8 146.4 579.7 143.4" fill="#8abf76"/>
<polygon points="622.9 102.2 618 107.4 622.1 103.3 627 98.1" fill="#fdcb30"/>
<polygon points="605.8 119.5 600.9 123.9 605 119.9 609.9 115.5" fill="#e3b951"/>
<polygon points="588.7 135.8 583.8 139.5 587.9 135.5 592.7 131.9" fill="#b4bd65"/>
<polygon points="640 83.7 635.2 89.8 639.2 85.7 644.1 79.5" fill="#f7f412"/>
<polygon points="558.5 161.8 553.6 164.3 557.7 160.5 562.6 158" fill="#54bd8e"/>
<polygon points="571.5 151.1 566.7 154.1 570.8 150.3 575.6 147.3" fill="#83bf79"/>
<polygon points="618.8 106.3 613.9 111.5 618 107.4 622.9 102.2" fill="#fec734"/>
<polygon points="601.7 123.6 596.8 127.9 600.9 123.9 605.8 119.5" fill="#ddba54"/>
<polygon points="635.9 87.9 631.1 94 635.2 89.8 640 83.7" fill="#f5ee16"/>
<polygon points="584.6 139.7 579.7 143.4 583.8 139.5 588.7 135.8" fill="#aebe67"/>
<polygon points="554.4 165.6 550.6 167.5 553.3 164.6 553.6 164.3 558.5 161.8" fill="#4dbc92"/>
<polygon points="567.4 155 562.6 158 566.7 154.1 571.5 151.1" fill="#7cbf7b"/>
<polygon points="614.7 110.4 609.9 115.5 613.9 111.5 618.8 106.3" fill="#ffc338"/>
<polygon points="597.6 127.6 592.7 131.9 596.8 127.9 601.7 123.6" fill="#d8ba56"/>
<polygon points="631.8 92 627 98.1 631.1 94 635.9 87.9" fill="#f5e81a"/>
<polygon points="580.5 143.7 575.6 147.3 579.7 143.4 584.6 139.7" fill="#a8be69"/>
<polygon points="550.3 169.4 547.7 170.7 550.6 167.5 554.4 165.6" fill="#46bb95"/>
<polygon points="563.4 158.8 558.5 161.8 562.6 158 567.4 155" fill="#75bf7f"/>
<polygon points="610.6 114.5 605.8 119.5 609.9 115.5 614.7 110.4" fill="#febf3c"/>
<polygon points="593.5 131.5 588.7 135.8 592.7 131.9 597.6 127.6" fill="#d2bb59"/>
<polygon points="627.8 96.2 622.9 102.2 627 98.1 631.8 92" fill="#f5e31e"/>
<polygon points="576.4 147.6 571.5 151.1 575.6 147.3 580.5 143.7" fill="#a2be6c"/>
<polygon points="546.2 173.1 544.7 173.9 547.7 170.7 550.3 169.4" fill="#40ba99"/>
<polygon points="559.3 162.7 554.4 165.6 558.5 161.8 563.4 158.8" fill="#6ebf82"/>
<polygon points="606.5 118.5 601.7 123.6 605.8 119.5 610.6 114.5" fill="#fbbc41"/>
<polygon points="589.4 135.5 584.6 139.7 588.7 135.8 593.5 131.5" fill="#ccbb5b"/>
<polygon points="623.7 100.3 618.8 106.3 622.9 102.2 627.8 96.2" fill="#f5de21"/>
<polygon points="572.3 151.5 567.4 155 571.5 151.1 576.4 147.6" fill="#9cbf6e"/>
<polygon points="542.2 176.9 541.8 177.1 544.7 173.9 546.2 173.1" fill="#3ab99d"/>
<polygon points="602.5 122.5 597.6 127.6 601.7 123.6 606.5 118.5" fill="#f6ba46"/>
<polygon points="555.2 166.5 550.3 169.4 554.4 165.6 559.3 162.7" fill="#66be85"/>
<polygon points="585.3 139.5 580.5 143.7 584.6 139.7 589.4 135.5" fill="#c7bc5d"/>
<polygon points="619.6 104.4 614.7 110.4 618.8 106.3 623.7 100.3" fill="#f7da24"/>
<polygon points="568.2 155.3 563.4 158.8 567.4 155 572.3 151.5" fill="#96bf71"/>
<polygon points="541.8 177.1 542.2 176.9 540.8 178.2" fill="#34b8a0"/>
<polygon points="598.4 126.5 593.5 131.5 597.6 127.6 602.5 122.5" fill="#f1b94a"/>
<polygon points="551.1 170.3 546.2 173.1 550.3 169.4 555.2 166.5" fill="#5fbe88"/>
<polygon points="581.3 143.4 576.4 147.6 580.5 143.7 585.3 139.5" fill="#c1bc60"/>
<polygon points="615.5 108.5 610.6 114.5 614.7 110.4 619.6 104.4" fill="#f8d628"/>
<polygon points="564.1 159.2 559.3 162.7 563.4 158.8 568.2 155.3" fill="#8fbf74"/>
<polygon points="594.3 130.5 589.4 135.5 593.5 131.5 598.4 126.5" fill="#ebb94d"/>
<polygon points="547 174.1 542.2 176.9 546.2 173.1 551.1 170.3" fill="#58bd8c"/>
<polygon points="577.2 147.3 572.3 151.5 576.4 147.6 581.3 143.4" fill="#bbbd62"/>
<polygon points="611.4 112.6 606.5 118.5 610.6 114.5 615.5 108.5" fill="#fad22b"/>
<polygon points="560 163 555.2 166.5 559.3 162.7 564.1 159.2" fill="#89bf76"/>
<polygon points="590.2 134.5 585.3 139.5 589.4 135.5 594.3 130.5" fill="#e6b950"/>
<polygon points="607.3 116.6 602.5 122.5 606.5 118.5 611.4 112.6" fill="#fcce2e"/>
<polygon points="573.1 151.2 568.2 155.3 572.3 151.5 577.2 147.3" fill="#b5bd64"/>
<polygon points="542.9 177.8 538.8 180.3 540.8 178.2 542.2 176.9 547 174.1" fill="#51bd90"/>
<polygon points="556 166.9 551.1 170.3 555.2 166.5 560 163" fill="#82bf79"/>
<polygon points="586.1 138.5 581.3 143.4 585.3 139.5 590.2 134.5" fill="#e0ba52"/>
<polygon points="603.2 120.7 598.4 126.5 602.5 122.5 607.3 116.6" fill="#fdca31"/>
<polygon points="569 155.1 564.1 159.2 568.2 155.3 573.1 151.2" fill="#afbe67"/>
<polygon points="538.8 181.6 535.7 183.4 538.8 180.3 542.9 177.8" fill="#4bbc93"/>
<polygon points="551.9 170.7 547 174.1 551.1 170.3 556 166.9" fill="#7bbf7c"/>
<polygon points="582 142.4 577.2 147.3 581.3 143.4 586.1 138.5" fill="#dbba55"/>
<polygon points="599.1 124.7 594.3 130.5 598.4 126.5 603.2 120.7" fill="#fec634"/>
<polygon points="564.9 159 560 163 564.1 159.2 569 155.1" fill="#aabe69"/>
<polygon points="534.8 185.3 532.6 186.5 535.7 183.4 538.8 181.6" fill="#44bb97"/>
<polygon points="547.8 174.5 542.9 177.8 547 174.1 551.9 170.7" fill="#74bf7f"/>
<polygon points="577.9 146.4 573.1 151.2 577.2 147.3 582 142.4" fill="#d5ba57"/>
<polygon points="595.1 128.7 590.2 134.5 594.3 130.5 599.1 124.7" fill="#ffc238"/>
<polygon points="560.8 162.8 556 166.9 560 163 564.9 159" fill="#a4be6b"/>
<polygon points="530.7 189.1 529.6 189.7 532.6 186.5 534.8 185.3" fill="#3eba9a"/>
<polygon points="543.7 178.3 538.8 181.6 542.9 177.8 547.8 174.5" fill="#6dbf82"/>
<polygon points="573.9 150.3 569 155.1 573.1 151.2 577.9 146.4" fill="#d0bb5a"/>
<polygon points="591 132.7 586.1 138.5 590.2 134.5 595.1 128.7" fill="#febf3c"/>
<polygon points="556.7 166.7 551.9 170.7 556 166.9 560.8 162.8" fill="#9ebe6e"/>
<polygon points="526.6 192.8 526.5 192.8 529.6 189.7 530.7 189.1" fill="#38b99d"/>
<polygon points="539.6 182 534.8 185.3 538.8 181.6 543.7 178.3" fill="#66be85"/>
<polygon points="569.8 154.2 564.9 159 569 155.1 573.9 150.3" fill="#cabb5c"/>
<polygon points="586.9 136.7 582 142.4 586.1 138.5 591 132.7" fill="#fbbc41"/>
<polygon points="552.6 170.5 547.8 174.5 551.9 170.7 556.7 166.7" fill="#98bf70"/>
<polygon points="526.5 192.8 526.6 192.8 526.3 193" fill="#33b8a1"/>
<polygon points="535.5 185.8 530.7 189.1 534.8 185.3 539.6 182" fill="#60be88"/>
<polygon points="565.7 158.1 560.8 162.8 564.9 159 569.8 154.2" fill="#c5bc5e"/>
<polygon points="582.8 140.7 577.9 146.4 582 142.4 586.9 136.7" fill="#f7ba45"/>
<polygon points="548.6 174.3 543.7 178.3 547.8 174.5 552.6 170.5" fill="#92bf73"/>
<polygon points="531.4 189.5 526.6 192.8 530.7 189.1 535.5 185.8" fill="#59bd8c"/>
<polygon points="578.7 144.6 573.9 150.3 577.9 146.4 582.8 140.7" fill="#f2b949"/>
<polygon points="561.6 162 556.7 166.7 560.8 162.8 565.7 158.1" fill="#bfbc60"/>
<polygon points="544.5 178.1 539.6 182 543.7 178.3 548.6 174.3" fill="#8bbf75"/>
<polygon points="527.4 193.3 523.4 195.9 526.3 193 526.6 192.8 531.4 189.5" fill="#52bd8f"/>
<polygon points="574.6 148.5 569.8 154.2 573.9 150.3 578.7 144.6" fill="#ecb94c"/>
<polygon points="557.5 165.8 552.6 170.5 556.7 166.7 561.6 162" fill="#babd62"/>
<polygon points="540.4 181.9 535.5 185.8 539.6 182 544.5 178.1" fill="#85bf78"/>
<polygon points="523.3 197 520.2 199 523.4 195.9 527.4 193.3" fill="#4cbc92"/>
<polygon points="570.5 152.5 565.7 158.1 569.8 154.2 574.6 148.5" fill="#e7b94f"/>
<polygon points="553.4 169.7 548.6 174.3 552.6 170.5 557.5 165.8" fill="#b4bd65"/>
<polygon points="536.3 185.7 531.4 189.5 535.5 185.8 540.4 181.9" fill="#7fbf7a"/>
<polygon points="519.2 200.7 517 202.1 520.2 199 523.3 197" fill="#46bb96"/>
<polygon points="566.5 156.4 561.6 162 565.7 158.1 570.5 152.5" fill="#e2b952"/>
<polygon points="549.3 173.5 544.5 178.1 548.6 174.3 553.4 169.7" fill="#afbe67"/>
<polygon points="532.2 189.4 527.4 193.3 531.4 189.5 536.3 185.7" fill="#78bf7d"/>
<polygon points="562.4 160.2 557.5 165.8 561.6 162 566.5 156.4" fill="#ddba54"/>
<polygon points="515.1 204.3 513.8 205.2 517 202.1 519.2 200.7" fill="#40ba99"/>
<polygon points="545.2 177.3 540.4 181.9 544.5 178.1 549.3 173.5" fill="#a9be69"/>
<polygon points="528.1 193.2 523.3 197 527.4 193.3 532.2 189.4" fill="#72bf80"/>
<polygon points="558.3 164.1 553.4 169.7 557.5 165.8 562.4 160.2" fill="#d7ba56"/>
<polygon points="511 208 510.7 208.2 513.8 205.2 515.1 204.3" fill="#3ab99c"/>
<polygon points="541.2 181.1 536.3 185.7 540.4 181.9 545.2 177.3" fill="#a4be6b"/>
<polygon points="524 196.9 519.2 200.7 523.3 197 528.1 193.2" fill="#6bbf83"/>
<polygon points="554.2 168 549.3 173.5 553.4 169.7 558.3 164.1" fill="#d2bb59"/>
<polygon points="510.7 208.2 511 208 509.4 209.5" fill="#35b89f"/>
<polygon points="537.1 184.9 532.2 189.4 536.3 185.7 541.2 181.1" fill="#9ebe6e"/>
<polygon points="520 200.6 515.1 204.3 519.2 200.7 524 196.9" fill="#65be86"/>
<polygon points="550.1 171.8 545.2 177.3 549.3 173.5 554.2 168" fill="#cdbb5b"/>
<polygon points="533 188.6 528.1 193.2 532.2 189.4 537.1 184.9" fill="#99bf70"/>
<polygon points="515.9 204.3 511 208 515.1 204.3 520 200.6" fill="#5ebe89"/>
<polygon points="546 175.6 541.2 181.1 545.2 177.3 550.1 171.8" fill="#c8bc5d"/>
<polygon points="528.9 192.4 524 196.9 528.1 193.2 533 188.6" fill="#93bf72"/>
<polygon points="511.8 208 507.4 211.3 509.4 209.5 511 208 515.9 204.3" fill="#58bd8c"/>
<polygon points="541.9 179.4 537.1 184.9 541.2 181.1 546 175.6" fill="#c3bc5f"/>
<polygon points="524.8 196.1 520 200.6 524 196.9 528.9 192.4" fill="#8dbf74"/>
<polygon points="537.8 183.2 533 188.6 537.1 184.9 541.9 179.4" fill="#bebc61"/>
<polygon points="520.7 199.8 515.9 204.3 520 200.6 524.8 196.1" fill="#87bf77"/>
<polygon points="533.8 187 528.9 192.4 533 188.6 537.8 183.2" fill="#b9bd63"/>
<polygon points="516.6 203.5 511.8 208 515.9 204.3 520.7 199.8" fill="#81bf79"/>
<polygon points="529.7 190.7 524.8 196.1 528.9 192.4 533.8 187" fill="#b4bd65"/>
<polygon points="525.6 194.4 520.7 199.8 524.8 196.1 529.7 190.7" fill="#afbe67"/>
<polygon points="521.5 198.2 516.6 203.5 520.7 199.8 525.6 194.4" fill="#aabe69"/>
</g>
</g>
<line x1="375.7" y1="232.6" x2="375.7" y2="86.4" stroke="#ababab" stroke-width="1.4"/>
<line x1="375.7" y1="232.6" x2="521.5" y2="300.5" stroke="#262626" stroke-width="0.8"/>
<line x1="521.5" y1="300.5" x2="644.1" y2="220.6" stroke="#262626" stroke-width="0.8"/>
<line x1="521.5" y1="300.5" x2="518.5" y2="302.5" stroke="#262626" stroke-width="0.8"/>
<line x1="448.6" y1="266.6" x2="445.6" y2="268.5" stroke="#262626" stroke-width="0.8"/>
<line x1="375.7" y1="232.6" x2="372.7" y2="234.6" stroke="#262626" stroke-width="0.8"/>
<line x1="521.5" y1="300.5" x2="524.8" y2="302" stroke="#262626" stroke-width="0.8"/>
<line x1="562.4" y1="273.9" x2="565.6" y2="275.4" stroke="#262626" stroke-width="0.8"/>
<line x1="603.2" y1="247.2" x2="606.5" y2="248.8" stroke="#262626" stroke-width="0.8"/>
<line x1="644.1" y1="220.6" x2="647.4" y2="222.1" stroke="#262626" stroke-width="0.8"/>
<line x1="375.7" y1="232.6" x2="372.8" y2="231.2" stroke="#262626" stroke-width="0.8"/>
<line x1="375.7" y1="196.1" x2="372.8" y2="194.7" stroke="#262626" stroke-width="0.8"/>
<line x1="375.7" y1="159.5" x2="372.8" y2="158.1" stroke="#262626" stroke-width="0.8"/>
<line x1="375.7" y1="123" x2="372.8" y2="121.6" stroke="#262626" stroke-width="0.8"/>
<line x1="375.7" y1="86.4" x2="372.8" y2="85" stroke="#262626" stroke-width="0.8"/>
<text x="368.8" y="235.3" text-anchor="end" font-family="Liberation Sans, sans-serif" font-size="11">80</text>
<text x="368.8" y="198.8" text-anchor="end" font-family="Liberation Sans, sans-serif" font-size="11">100</text>
<text x="368.8" y="162.2" text-anchor="end" font-family="Liberation Sans, sans-serif" font-size="11">120</text>
<text x="368.8" y="125.7" text-anchor="end" font-family="Liberation Sans, sans-serif" font-size="11">140</text>
<text x="368.8" y="89.1" text-anchor="end" font-family="Liberation Sans, sans-serif" font-size="11">160</text>
<text x="366.3" y="249" text-anchor="middle" font-family="Liberation Sans, sans-serif" font-size="11">1</text>
<text x="434.2" y="282.9" text-anchor="middle" font-family="Liberation Sans, sans-serif" font-size="11">0.5</text>
<text x="512.3" y="316.6" text-anchor="middle" font-family="Liberation Sans, sans-serif" font-size="11">0</text>
<text x="528" y="315.4" text-anchor="start" font-family="Liberation Sans, sans-serif" font-size="11">0.2</text>
<text x="569.5" y="289.1" text-anchor="start" font-family="Liberation Sans, sans-serif" font-size="11">0.4</text>
<text x="609.8" y="262.1" text-anchor="start" font-family="Liberation Sans, sans-serif" font-size="11">0.6</text>
<text x="651" y="235" text-anchor="start" font-family="Liberation Sans, sans-serif" font-size="11">0.8</text>
<text x="445.2" y="314.6" text-anchor="middle" font-family="Liberation Serif, sans-serif" font-size="13">λ</text>
<text x="594.3" y="313" text-anchor="middle" font-family="Liberation Serif, sans-serif" font-size="13" font-style="italic">k</text>
<text transform="translate(344.8 160.7) rotate(-90)" text-anchor="middle" font-family="Liberation Serif, serif" font-size="13.5">Profit</text>
<defs><linearGradient id="g2" x1="0" y1="0" x2="0" y2="1"><stop offset="0%" stop-color="#f9fb0e"/><stop offset="3.1%" stop-color="#f5eb18"/><stop offset="6.2%" stop-color="#f5de21"/><stop offset="9.4%" stop-color="#f9d329"/><stop offset="12.5%" stop-color="#fec932"/><stop offset="15.6%" stop-color="#febf3c"/><stop offset="18.8%" stop-color="#f2b949"/><stop offset="21.9%" stop-color="#e3b951"/><stop offset="25%" stop-color="#d3bb58"/><stop offset="28.1%" stop-color="#c2bc5f"/><stop offset="31.2%" stop-color="#b1bd66"/><stop offset="34.4%" stop-color="#9fbe6d"/><stop offset="37.5%" stop-color="#8bbf75"/><stop offset="40.6%" stop-color="#75bf7e"/><stop offset="43.8%" stop-color="#5ebe89"/><stop offset="46.9%" stop-color="#47bb95"/><stop offset="50%" stop-color="#33b8a1"/><stop offset="53.1%" stop-color="#21b4ac"/><stop offset="56.2%" stop-color="#13b0b6"/><stop offset="59.4%" stop-color="#09abbf"/><stop offset="62.5%" stop-color="#06a6c7"/><stop offset="65.6%" stop-color="#069fce"/><stop offset="68.8%" stop-color="#0a97d1"/><stop offset="71.9%" stop-color="#118dd2"/><stop offset="75%" stop-color="#1484d4"/><stop offset="78.1%" stop-color="#127cd8"/><stop offset="81.2%" stop-color="#0c74dd"/><stop offset="84.4%" stop-color="#046ce0"/><stop offset="87.5%" stop-color="#0462e0"/><stop offset="90.6%" stop-color="#2152d3"/><stop offset="93.8%" stop-color="#3243b9"/><stop offset="96.9%" stop-color="#36369f"/><stop offset="100%" stop-color="#352a87"/></linearGradient></defs>
<rect x="653" y="6.6" width="11.8" height="293.4" fill="url(#g2)" stroke="#3a3a3a" stroke-width="0.7"/>
<line x1="661.6" y1="264.4" x2="664.8" y2="264.4" stroke="#3a3a3a" stroke-width="0.7"/>
<text x="667.8" y="268.3" text-anchor="start" font-family="Liberation Sans, sans-serif" font-size="11">100</text>
<line x1="661.6" y1="219.3" x2="664.8" y2="219.3" stroke="#3a3a3a" stroke-width="0.7"/>
<text x="667.8" y="223.2" text-anchor="start" font-family="Liberation Sans, sans-serif" font-size="11">110</text>
<line x1="661.6" y1="174.3" x2="664.8" y2="174.3" stroke="#3a3a3a" stroke-width="0.7"/>
<text x="667.8" y="178.2" text-anchor="start" font-family="Liberation Sans, sans-serif" font-size="11">120</text>
<line x1="661.6" y1="129.2" x2="664.8" y2="129.2" stroke="#3a3a3a" stroke-width="0.7"/>
<text x="667.8" y="133.1" text-anchor="start" font-family="Liberation Sans, sans-serif" font-size="11">130</text>
<line x1="661.6" y1="84.1" x2="664.8" y2="84.1" stroke="#3a3a3a" stroke-width="0.7"/>
<text x="667.8" y="88" text-anchor="start" font-family="Liberation Sans, sans-serif" font-size="11">140</text>
<line x1="661.6" y1="39" x2="664.8" y2="39" stroke="#3a3a3a" stroke-width="0.7"/>
<text x="667.8" y="42.9" text-anchor="start" font-family="Liberation Sans, sans-serif" font-size="11">150</text>
<rect x="584.4" y="5.3" width="36.1" height="41.7" fill="#fff" stroke="#4a4a4a" stroke-width="0.7"/>
<rect x="585.9" y="7.9" width="12.4" height="16.5" fill="#3cb89c" stroke="#222" stroke-width="0.8"/>
<rect x="585.9" y="28.2" width="12.4" height="16.6" fill="#0095d5" stroke="#222" stroke-width="0.8"/>
<text x="602" y="18.9" font-family="Liberation Serif, serif" font-size="12" fill="#111">π</text>
<text x="608.4" y="13.9" font-family="Liberation Serif, serif" font-size="8.7" font-style="italic" fill="#111">RI</text>
<text x="608.4" y="24.5" font-family="Liberation Serif, serif" font-size="8.7" font-style="italic" fill="#111">R</text>
<text x="602" y="39.3" font-family="Liberation Serif, serif" font-size="12" fill="#111">π</text>
<text x="608.4" y="34.3" font-family="Liberation Serif, serif" font-size="8.7" font-style="italic" fill="#111">RF</text>
<text x="608.4" y="44.9" font-family="Liberation Serif, serif" font-size="8.7" font-style="italic" fill="#111">R</text>
</svg>
</body></html>
